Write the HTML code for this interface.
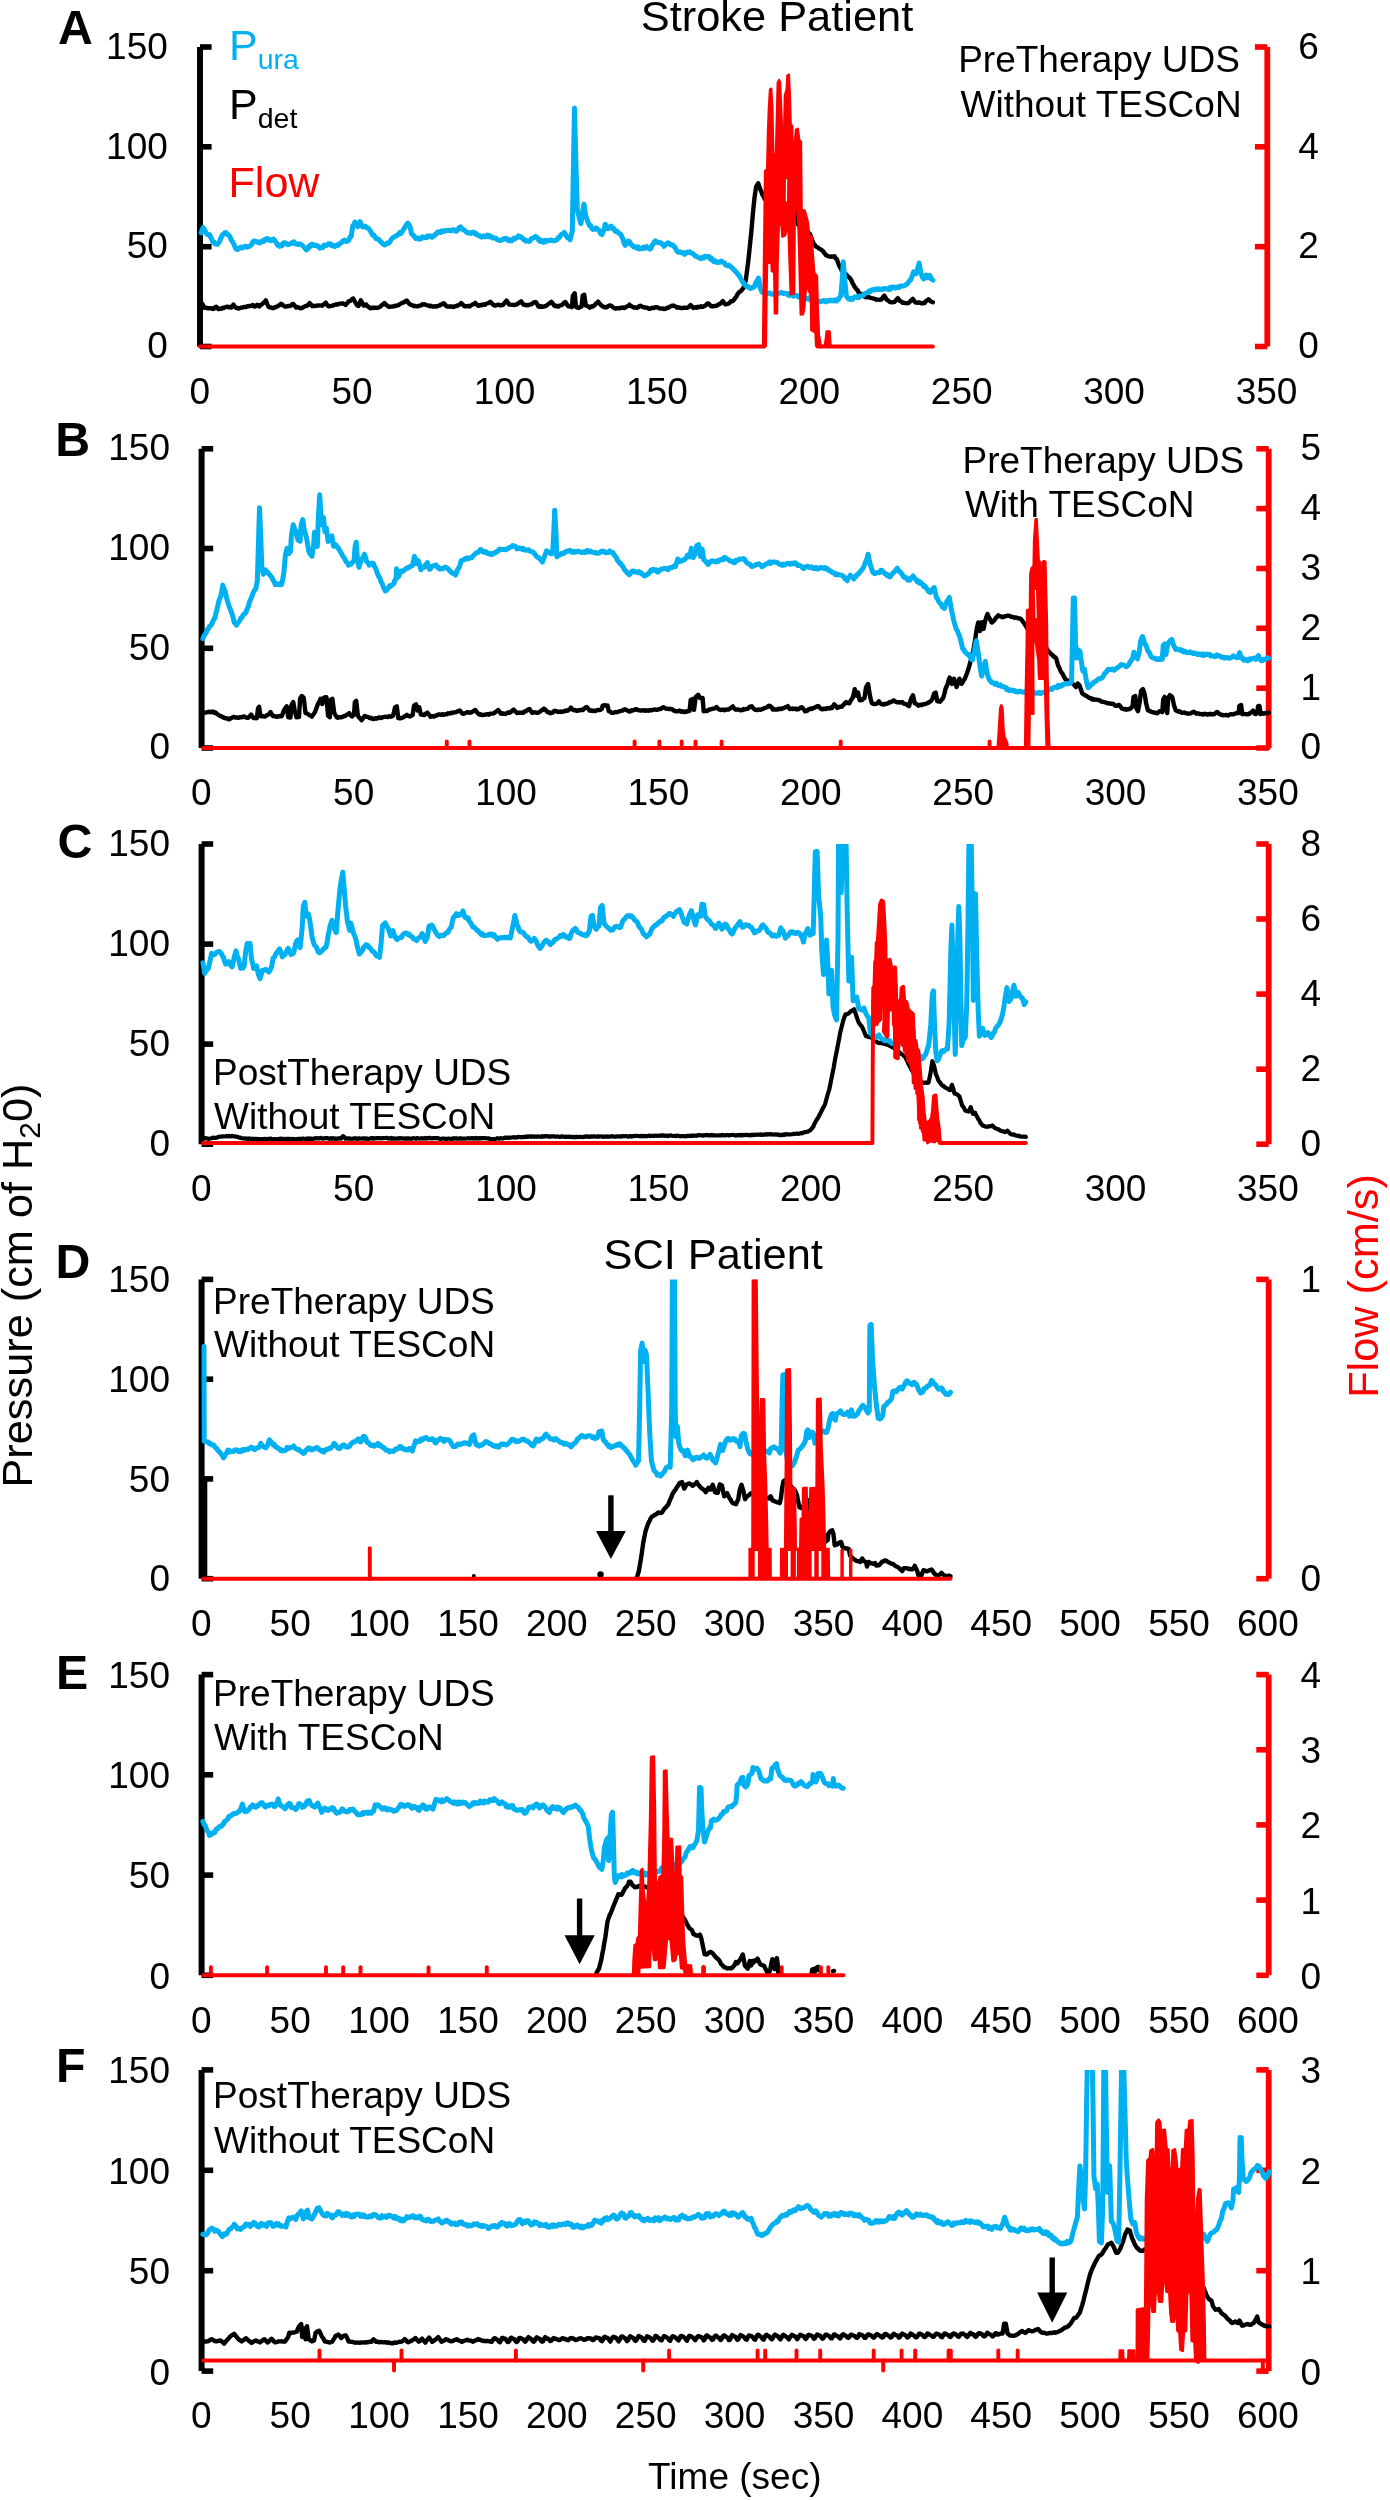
<!DOCTYPE html>
<html><head><meta charset="utf-8"><title>UDS</title>
<style>
html,body{margin:0;padding:0;background:#fff;}
body{width:1390px;height:2500px;position:relative;overflow:hidden;font-family:"Liberation Sans",sans-serif;}
svg text{font-family:"Liberation Sans",sans-serif;}
svg{will-change:transform;}
</style></head><body>
<svg width="1390" height="2500" viewBox="0 0 1390 2500" style="position:absolute;left:0;top:0">
<defs>
<clipPath id="cA"><rect x="190" y="47.0" width="1100" height="311.5"/></clipPath>
<clipPath id="cB"><rect x="190" y="448.8" width="1100" height="311.2"/></clipPath>
<clipPath id="cC"><rect x="190" y="844.0" width="1100" height="312.2"/></clipPath>
<clipPath id="cD"><rect x="190" y="1279.4" width="1100" height="311.3"/></clipPath>
<clipPath id="cE"><rect x="190" y="1674.6" width="1100" height="312.7"/></clipPath>
<clipPath id="cF"><rect x="190" y="2069.9" width="1100" height="313.2"/></clipPath>
</defs>
<g id="pA">
<line x1="200.0" y1="47.0" x2="200.0" y2="346.5" stroke="#000" stroke-width="6"/>
<line x1="200.0" y1="346.5" x2="211.6" y2="346.5" stroke="#000" stroke-width="5.6"/>
<line x1="200.0" y1="246.7" x2="211.6" y2="246.7" stroke="#000" stroke-width="5.6"/>
<line x1="200.0" y1="146.8" x2="211.6" y2="146.8" stroke="#000" stroke-width="5.6"/>
<line x1="200.0" y1="47.0" x2="211.6" y2="47.0" stroke="#000" stroke-width="5.6"/>
<line x1="1267.3" y1="47.0" x2="1267.3" y2="346.5" stroke="#f00" stroke-width="5.8"/>
<line x1="1254.9" y1="346.5" x2="1267.3" y2="346.5" stroke="#f00" stroke-width="5.6"/>
<line x1="1254.9" y1="246.7" x2="1267.3" y2="246.7" stroke="#f00" stroke-width="5.6"/>
<line x1="1254.9" y1="146.8" x2="1267.3" y2="146.8" stroke="#f00" stroke-width="5.6"/>
<line x1="1254.9" y1="47.0" x2="1267.3" y2="47.0" stroke="#f00" stroke-width="5.6"/>
<g clip-path="url(#cA)">
<polyline points="200.0,301.4 201.1,302.2 202.2,303.7 203.2,305.3 204.3,307.9 205.4,307.9 206.5,307.7 207.6,308.2 208.6,308.1 209.7,308.4 210.8,308.2 211.9,308.4 212.9,309.0 214.0,308.6 215.1,307.2 216.2,306.7 217.3,308.0 218.3,309.2 219.4,308.9 220.5,308.5 221.6,308.8 222.7,307.7 223.7,308.1 224.8,307.4 225.9,307.0 227.0,306.7 228.1,306.7 229.1,307.4 230.2,306.9 231.3,307.5 232.4,306.2 233.5,304.6 234.5,306.3 235.6,307.7 236.7,307.8 237.8,308.4 238.8,308.5 239.9,308.0 241.0,307.6 242.1,307.6 243.2,307.2 244.2,306.9 245.3,307.1 246.4,306.8 247.5,306.1 248.6,306.2 249.6,305.9 250.7,306.0 251.8,305.6 252.9,305.0 254.0,306.5 255.0,306.6 256.1,305.7 257.2,304.8 258.3,305.2 259.4,306.4 260.4,305.0 261.5,304.7 262.6,303.7 263.7,302.6 264.7,301.8 265.8,300.3 267.2,303.8 268.6,306.9 269.9,307.3 271.1,307.5 272.3,308.1 273.4,308.1 274.5,307.3 275.5,307.3 276.6,306.6 277.7,306.2 278.8,305.4 279.9,304.9 280.9,303.8 282.0,304.2 283.1,305.1 284.2,306.2 285.3,306.6 286.3,306.6 287.4,306.2 288.5,306.0 289.6,306.0 290.8,305.7 292.0,304.4 293.2,303.9 294.6,305.5 296.0,307.5 297.1,307.0 298.2,307.5 299.3,307.7 300.4,308.2 301.4,308.1 302.5,307.8 303.6,306.8 304.7,306.5 305.8,306.0 306.8,305.9 308.2,304.9 309.6,303.0 310.9,304.4 312.2,306.1 313.3,305.8 314.4,306.0 315.5,306.0 316.5,305.6 317.6,305.5 318.7,305.5 319.8,305.4 320.9,305.4 321.9,305.7 323.0,305.2 324.4,303.8 325.8,302.6 326.9,304.5 328.0,306.0 329.2,306.4 330.3,306.0 331.5,305.9 332.6,305.6 333.8,305.1 334.9,304.8 336.0,304.4 337.1,304.7 338.1,304.0 339.2,304.0 340.3,303.7 341.4,303.5 342.4,303.5 343.5,303.7 344.6,304.1 345.7,304.9 346.8,303.5 347.8,302.5 348.9,301.2 350.0,301.1 351.1,300.2 352.2,299.0 353.2,298.5 354.3,300.5 355.4,302.5 356.5,304.5 357.6,305.6 358.6,306.0 359.7,303.0 360.8,300.4 362.2,302.6 363.6,305.6 364.9,305.1 366.2,304.6 367.3,306.1 368.3,306.5 369.4,307.7 370.5,308.4 371.6,307.9 372.7,307.6 373.7,308.0 374.8,307.7 375.9,307.7 377.0,308.0 378.1,307.6 379.1,307.2 380.2,306.7 381.3,305.7 382.4,304.6 383.5,304.2 384.5,303.0 385.6,304.4 386.7,305.1 387.8,306.3 388.8,306.7 389.9,306.8 391.0,306.6 392.1,306.5 393.2,306.3 394.2,306.3 395.3,305.6 396.4,305.7 397.5,305.4 398.6,305.1 399.6,304.2 400.7,303.7 401.8,303.0 402.9,302.6 404.2,302.3 405.5,301.0 406.8,300.6 408.0,302.3 409.2,303.7 410.4,304.6 411.5,304.9 412.6,305.4 413.7,306.0 414.7,305.8 415.8,306.1 416.9,306.3 418.0,306.2 419.1,305.7 420.1,305.6 421.2,305.4 422.3,304.3 423.4,304.5 424.5,304.2 425.5,304.7 426.6,305.1 427.7,305.3 428.8,305.6 429.9,306.2 430.9,305.8 432.0,306.4 433.1,306.7 434.2,306.4 435.3,306.2 436.3,306.6 437.4,306.2 438.5,305.6 439.6,305.6 440.9,304.5 442.2,304.4 443.5,303.3 444.7,303.9 445.9,305.7 447.1,306.6 448.2,306.6 449.3,306.4 450.4,306.7 451.4,306.4 452.5,306.6 453.6,307.0 454.7,306.4 455.8,306.0 456.8,306.1 457.9,305.3 459.0,305.0 460.1,304.2 461.2,303.0 462.2,304.0 463.3,305.1 464.4,306.3 465.5,306.4 466.5,306.1 467.6,306.2 468.7,305.9 469.8,306.4 470.9,305.4 471.9,304.9 473.0,304.3 474.1,304.0 475.2,302.9 476.3,304.3 477.3,304.8 478.4,305.8 479.5,305.6 480.6,304.9 481.7,305.2 482.7,304.7 483.8,304.4 484.9,304.8 486.0,303.8 487.1,303.5 488.1,303.2 489.2,302.5 490.3,301.8 491.4,302.9 492.4,303.9 493.5,305.1 494.6,305.6 495.7,305.5 496.8,305.0 497.8,304.7 498.9,304.8 500.0,305.5 501.1,305.2 502.2,305.1 503.2,304.7 504.3,303.1 505.4,302.0 506.5,300.6 507.8,302.5 509.1,304.6 510.4,304.6 511.7,304.8 512.9,304.9 514.0,305.1 515.1,304.7 516.2,304.6 517.3,304.2 518.6,302.9 519.9,302.2 521.2,301.4 522.4,303.4 523.7,304.7 524.8,304.7 525.9,305.2 527.0,305.0 528.1,305.4 529.1,304.6 530.2,304.6 531.3,304.2 532.4,303.6 533.5,302.5 534.5,302.6 535.6,302.0 537.0,303.7 538.4,306.4 539.6,306.8 540.8,306.1 542.0,307.0 543.2,306.6 544.2,306.2 545.3,306.2 546.4,305.7 547.5,304.7 548.8,303.8 550.1,302.9 551.4,301.8 552.7,303.4 554.0,305.4 555.0,306.0 556.1,305.6 557.2,306.4 558.3,306.6 559.4,305.6 560.4,305.4 561.5,305.1 562.6,304.5 564.0,302.7 565.4,302.1 566.5,303.7 567.6,305.5 568.6,306.4 569.7,306.5 570.8,306.4 571.9,307.1 572.9,295.7 574.7,293.2 576.0,306.6 577.4,307.6 578.8,307.9 580.2,306.9 581.6,306.6 582.7,295.6 584.2,294.7 585.9,305.6 587.1,305.8 588.3,306.5 589.6,307.8 590.6,307.1 591.7,306.2 592.8,306.5 593.9,305.6 595.0,304.9 596.0,303.3 597.1,303.1 598.2,301.7 599.3,303.5 600.4,304.3 601.4,305.5 602.5,306.1 603.6,307.0 604.7,306.9 605.8,307.5 606.8,307.2 607.9,306.4 609.0,305.7 610.1,305.4 611.2,305.8 612.2,306.6 613.3,307.5 614.4,308.2 615.5,308.6 616.5,308.1 617.6,308.3 618.7,308.0 619.8,308.3 620.9,307.7 621.9,307.8 623.0,307.5 624.1,308.1 625.2,307.7 626.3,306.7 627.3,306.3 628.4,306.0 629.5,304.7 630.6,305.9 631.7,306.3 632.7,307.0 633.8,307.5 634.9,307.3 636.0,307.5 637.1,307.8 638.1,307.5 639.2,306.1 640.3,305.7 641.4,306.3 642.4,306.8 643.5,307.1 644.6,307.6 645.7,307.5 646.8,307.8 647.8,307.9 648.9,308.8 650.0,308.7 651.1,308.1 652.2,307.7 653.2,308.1 654.3,307.8 655.4,307.1 656.5,307.2 657.6,307.5 658.6,307.9 659.7,308.4 660.8,308.6 661.9,308.6 662.9,308.4 664.0,309.0 665.1,308.9 666.2,308.4 667.3,307.7 668.3,307.9 669.4,306.9 670.5,306.5 671.6,305.8 672.7,305.8 673.7,305.5 674.8,306.3 675.9,306.7 677.0,307.7 678.1,307.3 679.1,307.7 680.2,307.7 681.3,308.1 682.4,308.1 683.5,307.7 684.5,307.9 685.6,307.7 686.7,307.9 687.8,307.7 689.2,306.5 690.6,305.0 691.9,306.5 693.2,307.9 694.2,307.5 695.3,307.3 696.4,307.8 697.5,306.8 698.6,307.2 699.6,307.0 700.7,306.2 701.8,306.9 702.9,306.8 704.0,306.3 705.0,305.7 706.1,305.1 707.2,303.7 708.3,303.4 709.4,304.3 710.4,305.6 711.5,306.3 712.6,306.4 713.7,306.0 714.7,306.2 715.8,305.9 716.9,305.6 718.0,304.8 719.1,304.1 720.1,303.8 721.5,302.5 722.9,301.0 724.2,303.2 725.5,304.5 726.6,304.2 727.7,303.9 728.8,303.5 730.0,302.2 731.1,301.1 732.1,301.4 733.2,300.7 734.2,299.3 735.3,298.0 736.3,296.7 737.5,294.2 738.7,292.8 739.9,291.6 741.1,290.9 742.3,289.3 743.5,288.0 744.6,283.7 745.8,280.0 747.7,265.8 748.8,256.3 749.8,246.8 751.4,230.9 752.9,213.5 754.5,197.7 756.1,186.7 757.1,185.2 758.2,183.2 760.1,188.8 761.3,191.5 762.4,194.7 763.6,196.7 764.8,199.3 765.8,199.1 766.8,199.4 767.8,199.9 768.8,200.6 769.9,200.9 770.9,201.2 771.9,201.1 772.9,201.6 773.9,201.8 774.9,202.1 775.9,202.3 776.9,203.2 778.0,202.8 779.0,203.9 780.0,204.1 781.0,203.5 782.1,204.3 783.1,205.0 784.1,205.4 785.2,205.2 786.2,205.5 787.4,206.5 788.6,208.2 789.7,208.3 790.8,209.2 792.0,209.3 793.1,210.3 794.2,211.3 795.3,211.0 796.5,211.9 798.1,224.6 799.1,225.9 800.2,226.5 801.3,226.9 802.4,228.5 803.5,228.9 804.5,229.3 805.6,230.2 806.7,231.5 807.8,232.3 808.8,233.0 809.9,233.9 811.1,237.1 812.3,240.3 813.5,243.1 814.7,244.9 815.7,246.2 816.8,247.1 817.8,247.4 819.2,248.8 820.5,249.3 821.8,250.1 822.9,251.0 823.9,252.4 825.0,253.8 826.0,255.2 827.1,255.6 828.1,256.2 829.2,256.5 830.2,256.6 831.3,256.8 832.4,256.4 833.4,256.9 834.5,256.2 835.6,258.3 836.8,259.3 838.0,262.4 839.2,265.8 840.4,267.8 841.6,270.4 842.8,271.8 844.0,272.3 845.0,273.5 846.1,274.3 847.1,275.5 848.2,276.7 849.2,277.4 850.3,278.5 851.3,280.1 852.4,282.9 853.5,284.7 854.5,286.6 855.6,288.1 856.6,289.4 857.7,290.4 858.7,292.6 859.8,293.3 861.0,294.2 862.2,294.9 863.3,295.6 864.5,296.7 865.7,297.3 866.9,296.8 868.1,297.4 869.3,297.3 870.5,297.9 871.7,298.1 872.8,298.3 874.0,298.8 875.2,298.9 876.4,299.8 877.6,299.6 878.8,299.6 879.8,299.9 880.9,299.8 881.9,299.0 883.1,297.0 884.3,295.7 885.5,297.4 886.7,299.7 887.7,300.2 888.8,301.1 889.9,302.0 891.0,302.1 892.2,302.4 893.4,302.2 894.6,301.8 895.7,300.5 896.7,299.4 897.8,298.1 899.0,299.6 900.1,301.1 901.5,301.7 902.8,302.9 904.1,302.8 905.3,303.0 906.5,303.1 907.7,303.3 908.8,302.8 910.2,301.4 911.5,300.1 912.8,298.9 914.0,300.5 915.2,302.4 916.4,302.7 917.6,302.9 918.7,302.3 919.9,302.7 921.1,303.2 922.3,303.3 923.5,302.9 924.7,303.0 926.0,301.1 927.3,300.2 928.6,299.2 929.8,300.5 931.0,301.5 932.9,302.2" fill="none" stroke="#000" stroke-width="4.4" stroke-linejoin="round" stroke-linecap="round" />
<polyline points="201.1,232.8 202.2,229.7 203.2,227.7 204.3,229.2 205.4,231.7 206.5,233.6 207.6,234.7 208.6,234.6 209.7,234.7 210.8,237.6 211.9,239.5 212.9,242.1 214.0,241.9 215.1,244.1 216.2,244.0 217.3,244.3 218.3,243.1 219.4,241.9 220.5,238.9 221.6,236.6 222.7,234.7 223.7,234.4 224.8,232.8 225.9,232.6 227.0,233.9 228.1,234.9 229.1,235.5 230.2,237.2 231.3,240.1 232.4,241.6 233.5,243.5 234.5,245.6 235.6,248.3 236.7,249.3 237.8,249.5 238.8,248.3 239.9,247.7 241.0,247.1 242.1,248.2 243.2,247.2 244.2,246.7 245.3,246.1 246.4,247.0 247.5,247.2 248.6,246.5 249.6,246.2 250.7,245.3 251.8,244.3 252.9,241.8 254.0,241.0 255.0,241.3 256.1,241.4 257.2,242.2 258.3,241.7 259.4,243.0 260.4,242.6 261.5,241.6 262.6,240.7 263.7,241.4 264.7,239.6 265.8,240.0 266.9,238.6 268.0,238.7 269.1,240.1 270.1,239.7 271.2,240.6 272.3,239.5 273.4,239.0 274.5,240.0 275.5,241.7 276.6,243.3 277.7,245.1 278.8,244.7 279.9,246.3 280.9,245.0 282.0,245.7 283.1,243.3 284.2,242.7 285.3,242.7 286.3,243.7 287.4,244.6 288.5,244.6 289.6,244.0 290.6,243.6 291.7,243.6 292.8,242.1 293.9,241.8 295.0,243.6 296.0,244.0 297.1,243.8 298.2,244.6 299.3,244.0 300.4,244.1 301.4,244.9 302.5,245.5 303.6,246.6 305.0,248.1 306.4,249.9 307.7,249.1 309.0,246.0 310.1,246.6 311.2,244.4 312.2,244.1 313.3,245.2 314.4,245.6 315.5,245.2 316.5,245.3 317.6,246.2 318.7,246.6 319.8,248.2 320.9,247.6 321.9,247.0 323.0,247.4 324.1,245.1 325.2,245.2 326.3,245.6 327.3,245.1 328.4,243.8 329.5,243.7 330.6,244.1 331.7,245.7 332.7,245.0 333.8,246.1 334.9,246.6 336.0,245.8 337.1,244.8 338.1,245.4 339.2,244.1 340.3,242.9 341.4,242.9 342.4,241.4 343.5,240.8 344.6,240.0 345.7,241.3 346.8,241.5 347.8,240.7 348.9,240.1 350.0,237.1 351.1,236.7 352.8,225.9 353.9,224.6 355.0,222.0 356.3,224.1 357.6,226.7 358.8,224.1 360.1,221.6 361.2,225.1 362.3,226.7 363.7,227.0 365.1,226.1 366.2,227.2 367.3,227.9 368.3,228.2 369.4,229.5 370.5,231.3 371.6,233.3 372.7,235.2 373.7,235.1 374.8,236.6 375.9,238.7 377.0,238.7 378.1,239.1 379.1,239.8 380.2,241.5 381.3,241.8 382.4,243.6 383.5,244.1 384.5,245.0 385.6,244.5 386.7,243.4 387.8,242.9 388.8,243.2 389.9,241.9 391.0,239.9 392.1,238.3 393.2,237.6 394.2,236.8 395.3,236.3 396.4,235.7 397.5,234.9 398.6,234.3 399.6,232.7 400.7,233.6 401.8,232.2 402.9,230.7 404.0,228.5 405.0,227.2 406.4,224.6 407.8,223.1 408.9,224.7 410.0,226.6 411.5,233.8 412.6,234.8 413.7,235.6 414.7,237.0 415.8,238.5 416.9,238.0 418.0,237.9 419.1,239.1 420.1,238.7 421.2,238.9 422.3,236.8 423.4,237.1 424.5,237.6 425.5,237.6 426.6,237.7 427.7,235.9 428.8,236.5 429.9,235.9 430.9,235.9 432.0,237.3 433.1,236.3 434.2,236.1 435.3,234.1 436.3,234.0 437.4,232.3 438.5,231.7 439.6,232.5 440.6,232.6 441.7,230.8 442.8,231.4 443.9,231.4 445.0,230.6 446.0,230.8 447.1,230.3 448.2,230.6 449.3,230.3 450.4,230.8 451.4,230.8 452.5,229.8 453.6,229.8 454.7,230.2 455.8,231.3 456.8,231.0 458.1,229.4 459.3,227.6 460.5,226.8 461.9,228.5 463.3,229.8 464.4,230.1 465.5,231.3 466.5,232.3 467.6,233.1 468.7,233.1 469.8,232.6 470.9,233.4 471.9,232.6 473.0,232.2 474.1,232.2 475.2,234.0 476.3,233.6 477.3,234.9 478.4,235.5 479.5,235.6 480.6,236.7 481.7,237.1 482.7,236.1 483.8,235.9 484.9,236.9 486.0,235.9 487.1,235.2 488.1,236.6 489.2,235.5 490.3,236.8 491.4,236.6 492.4,238.0 493.5,237.8 494.6,238.1 495.7,237.9 496.8,239.3 497.8,239.8 498.9,240.3 500.0,240.4 501.1,240.5 502.2,239.5 503.2,239.3 504.3,238.4 505.4,238.4 506.5,238.7 507.6,240.2 508.6,239.3 509.7,240.8 510.8,240.9 511.9,240.7 512.9,239.0 514.0,238.0 515.1,239.0 516.2,238.0 517.3,237.2 518.3,236.0 519.4,236.9 520.5,236.6 521.6,237.5 522.7,238.4 523.7,239.8 524.8,239.8 525.9,241.1 527.0,240.5 528.1,241.3 529.1,241.4 530.2,240.7 531.3,238.7 532.4,238.4 533.5,237.7 534.5,237.2 535.6,236.4 536.7,237.0 537.8,238.4 538.8,240.4 539.9,241.3 541.0,240.1 542.1,241.6 543.2,242.1 544.2,240.7 545.3,242.0 546.4,240.3 547.5,240.9 548.6,240.7 549.6,240.6 550.7,240.0 551.8,240.2 552.9,240.7 554.0,240.7 555.0,240.7 556.1,240.0 557.2,239.7 558.3,237.5 559.4,237.3 560.4,235.8 561.7,234.1 563.0,233.9 564.3,232.4 565.6,234.6 566.9,236.8 568.0,238.1 569.1,238.4 570.1,239.8 571.2,235.5 572.3,231.1 573.4,166.3 574.5,108.1 576.0,166.3 577.3,209.6 579.2,217.7 580.9,223.5 582.7,211.9 584.0,204.1 585.7,215.5 587.1,219.8 588.5,223.4 589.6,225.7 590.6,225.5 591.7,228.3 592.8,229.4 593.9,229.3 595.0,229.3 596.0,228.0 597.1,228.9 598.4,229.8 599.7,231.5 600.8,233.8 601.9,234.6 602.9,232.5 604.0,229.3 605.3,224.2 606.6,226.3 607.9,228.7 609.0,227.1 610.1,227.8 611.2,226.1 612.2,228.2 613.3,228.1 614.4,230.0 615.5,231.5 616.5,230.9 617.6,231.9 618.7,233.1 619.8,233.7 620.9,234.5 621.9,236.7 623.0,239.4 624.1,243.2 625.2,245.3 626.3,244.4 627.3,241.6 628.4,241.1 629.5,241.5 630.6,243.7 631.7,245.2 632.7,245.4 633.8,246.9 634.9,246.8 636.0,247.3 637.1,248.2 638.1,246.9 639.2,248.9 640.3,248.4 641.4,248.2 642.4,248.6 643.5,247.2 644.6,248.2 645.7,247.1 646.8,246.5 647.8,248.1 648.9,248.4 650.0,249.1 651.1,248.1 652.2,245.0 653.2,244.3 654.3,241.9 655.4,240.9 656.5,242.3 657.6,242.0 658.6,242.7 659.7,242.8 660.8,242.8 661.9,243.7 662.9,244.7 664.0,246.3 665.1,245.0 666.2,244.1 667.3,243.3 668.3,242.8 669.4,243.5 670.5,244.9 671.6,244.7 672.7,244.9 673.7,246.3 674.8,246.9 675.9,249.2 677.0,251.3 678.1,252.0 679.1,252.3 680.2,251.8 681.3,252.8 682.4,252.9 683.5,252.5 684.5,254.3 685.6,253.5 686.7,252.5 687.8,251.9 688.8,252.4 689.9,251.9 691.0,253.0 692.1,253.2 693.2,253.9 694.2,254.8 695.3,256.1 696.4,256.5 697.5,256.7 698.6,257.8 699.6,258.0 700.7,258.7 701.8,258.2 702.9,257.1 704.0,257.8 705.0,256.3 706.1,257.0 707.2,256.6 708.3,256.3 709.4,256.6 710.4,258.9 711.5,258.4 712.6,260.3 713.7,261.6 714.7,260.6 715.8,261.3 716.9,262.5 718.0,262.1 719.1,262.1 720.1,262.2 721.2,261.0 722.3,261.7 723.4,262.5 724.5,262.9 725.5,264.9 726.6,265.4 727.7,265.7 728.8,265.1 730.0,266.1 731.1,267.3 732.1,267.8 733.2,269.2 734.5,270.4 735.8,271.6 737.1,273.3 738.4,275.0 739.8,276.5 741.1,279.1 742.4,281.5 743.7,283.3 745.0,285.1 746.1,285.9 747.1,285.9 748.2,287.2 749.3,287.4 750.3,288.4 751.4,288.3 752.4,287.2 753.5,287.2 754.5,286.8 755.7,283.0 756.9,281.2 758.5,278.0 760.1,287.7 761.7,291.6 762.8,292.5 764.0,293.1 765.2,292.9 766.4,292.5 767.6,293.7 768.8,293.0 770.0,293.1 771.2,294.3 772.3,294.1 773.5,294.1 774.7,293.9 775.9,293.9 777.1,293.1 778.3,293.5 779.5,293.0 780.6,292.7 781.7,292.5 782.8,293.4 783.8,293.4 784.9,293.2 785.9,293.4 787.0,294.4 788.0,293.7 789.1,295.6 790.1,294.4 791.2,294.4 792.3,294.8 793.3,296.2 794.4,295.7 795.4,295.5 796.5,295.5 797.5,295.7 798.6,297.1 799.6,297.1 800.7,297.5 801.8,297.8 802.8,296.7 803.9,298.0 804.9,297.7 806.0,298.5 807.0,298.9 808.1,299.2 809.1,297.8 810.2,299.4 811.2,299.6 812.3,299.4 813.4,298.6 814.4,299.1 815.5,299.2 816.5,299.4 817.6,301.2 818.6,301.2 819.7,301.2 820.7,301.7 821.8,301.4 822.9,300.8 823.9,300.5 825.0,301.0 826.0,301.8 827.1,300.6 828.1,300.8 829.2,300.9 830.2,300.1 831.3,300.7 832.4,300.3 833.4,300.9 834.5,300.1 835.5,299.8 836.6,300.9 837.6,299.8 838.7,299.1 839.7,297.4 840.8,295.8 842.1,281.6 843.3,261.8 844.9,281.6 846.3,295.7 847.5,297.8 848.7,299.0 849.8,298.5 850.8,299.7 851.9,298.6 852.9,299.1 854.0,297.3 855.0,296.9 856.2,296.6 857.4,297.5 858.6,297.7 859.8,296.1 861.0,296.0 862.2,295.4 863.3,295.4 864.5,293.9 865.7,293.4 866.9,292.4 868.1,292.5 869.3,290.9 870.5,291.6 871.7,290.0 872.8,289.6 874.0,290.0 875.2,289.7 876.4,288.8 877.6,289.6 878.8,288.8 880.0,289.6 881.2,289.3 882.3,289.4 883.5,288.8 884.7,288.5 885.9,288.8 887.1,288.9 888.3,289.6 889.5,288.0 890.6,289.1 891.8,287.1 893.0,287.3 894.2,287.0 895.4,288.1 896.6,287.2 897.8,287.0 899.0,287.6 900.1,286.1 901.3,286.2 902.5,286.0 903.7,286.0 904.9,285.5 906.1,284.7 907.3,283.8 908.3,282.3 909.4,280.7 910.4,280.3 911.5,277.7 912.5,275.2 913.6,271.8 914.8,272.8 916.0,273.9 917.6,269.0 919.1,263.0 920.7,272.1 922.3,277.2 923.9,279.0 925.1,276.6 926.3,275.1 927.8,277.8 929.7,275.3 931.3,278.9 932.9,280.0" fill="none" stroke="#00B0F0" stroke-width="5.0" stroke-linejoin="round" stroke-linecap="round" />
<polygon points="762.7,346.1 763.5,272.4 764.2,213.4 764.7,170.9 766.8,169.1 767.7,130.8 768.6,107.2 769.7,89.5 771.5,88.3 772.7,107.2 773.6,154.4 775.6,153.2 776.8,107.2 777.4,82.4 779.2,79.5 780.4,82.4 781.5,107.2 782.4,129.6 783.9,129.6 784.5,95.4 786.3,89.5 787.1,75.3 789.2,74.2 790.2,95.4 791.0,123.7 792.5,126.1 793.0,149.7 794.5,142.6 795.7,129.6 798.1,128.4 799.6,140.2 801.3,141.4 802.0,211.0 804.6,209.9 806.3,214.6 808.1,221.7 809.5,234.6 812.2,237.0 813.1,253.5 814.6,272.4 817.3,275.9 818.1,307.8 819.3,334.9 821.1,346.1 815.8,346.1 815.2,332.6 812.8,331.4 811.0,330.2 810.5,296.0 808.7,291.3 806.9,284.2 805.7,294.8 804.6,307.8 803.4,314.3 800.4,314.9 799.6,284.2 798.1,225.2 796.9,208.7 795.1,207.5 794.5,293.6 790.4,294.8 789.2,260.6 788.0,225.2 785.4,235.8 782.1,237.0 781.2,225.2 779.2,224.0 778.0,260.6 777.4,313.7 774.5,313.7 773.9,272.4 771.5,271.2 770.9,255.9 770.1,262.9 767.4,263.5 766.8,296.0 766.2,346.1" fill="#FF0000" stroke="#FF0000" stroke-width="1.7" stroke-linejoin="round"/>
<polygon points="824.6,346.1 825.6,340.8 826.7,331.4 829.6,331.4 830.5,346.1" fill="#FF0000" stroke="#FF0000" stroke-width="2.4" stroke-linejoin="round"/>
<line x1="786.6" y1="179.2" x2="786.4" y2="201.6" stroke="#fff" stroke-width="1.2"/>
<polyline points="200.0,346.5 764.2,346.5" fill="none" stroke="#FF0000" stroke-width="3.9" stroke-linejoin="round" stroke-linecap="round" />
<polyline points="817.5,346.5 932.9,346.5" fill="none" stroke="#FF0000" stroke-width="3.9" stroke-linejoin="round" stroke-linecap="round" />
</g>
</g>
<g id="pB">
<line x1="201.6" y1="448.8" x2="201.6" y2="748.0" stroke="#000" stroke-width="6"/>
<line x1="201.6" y1="748.0" x2="213.2" y2="748.0" stroke="#000" stroke-width="5.6"/>
<line x1="201.6" y1="648.3" x2="213.2" y2="648.3" stroke="#000" stroke-width="5.6"/>
<line x1="201.6" y1="548.5" x2="213.2" y2="548.5" stroke="#000" stroke-width="5.6"/>
<line x1="201.6" y1="448.8" x2="213.2" y2="448.8" stroke="#000" stroke-width="5.6"/>
<line x1="1268.7" y1="448.8" x2="1268.7" y2="748.0" stroke="#f00" stroke-width="5.8"/>
<line x1="1256.3" y1="748.0" x2="1268.7" y2="748.0" stroke="#f00" stroke-width="5.6"/>
<line x1="1256.3" y1="688.2" x2="1268.7" y2="688.2" stroke="#f00" stroke-width="5.6"/>
<line x1="1256.3" y1="628.3" x2="1268.7" y2="628.3" stroke="#f00" stroke-width="5.6"/>
<line x1="1256.3" y1="568.5" x2="1268.7" y2="568.5" stroke="#f00" stroke-width="5.6"/>
<line x1="1256.3" y1="508.6" x2="1268.7" y2="508.6" stroke="#f00" stroke-width="5.6"/>
<line x1="1256.3" y1="448.8" x2="1268.7" y2="448.8" stroke="#f00" stroke-width="5.6"/>
<g clip-path="url(#cB)">
<polyline points="202.9,713.0 204.0,712.7 205.1,712.6 206.2,712.5 207.3,712.1 208.3,712.0 209.4,711.7 210.5,712.3 211.6,711.8 212.7,711.5 213.7,712.7 214.8,712.1 215.9,712.7 217.0,714.0 218.1,714.6 219.1,715.4 220.2,715.9 221.3,716.2 222.4,717.2 223.5,717.2 224.5,718.0 225.6,718.3 226.7,718.2 227.8,718.8 228.8,719.4 229.9,718.9 231.0,718.1 232.1,717.7 233.2,717.0 234.2,716.9 235.3,717.5 236.4,717.4 237.5,717.8 238.6,717.9 239.6,717.3 240.7,717.2 241.8,717.2 242.9,716.7 244.0,716.5 245.0,717.1 246.1,717.5 247.2,717.7 248.3,717.8 249.7,716.4 251.1,714.6 252.4,716.4 253.7,718.1 254.7,717.9 255.8,718.3 256.9,718.1 258.0,708.4 259.1,706.7 260.4,716.1 261.4,716.3 262.4,716.0 263.4,716.4 264.5,716.6 265.5,716.2 266.6,715.4 267.7,715.0 269.1,714.0 270.5,712.1 271.8,714.3 273.1,716.1 274.2,716.0 275.3,716.3 276.3,716.9 277.4,716.4 278.5,716.5 279.6,716.0 280.6,716.4 281.7,716.2 282.8,713.5 283.9,710.5 285.0,708.5 286.7,706.3 288.2,717.2 289.3,717.3 290.4,717.5 291.4,705.3 293.2,702.0 294.7,710.5 296.4,717.3 297.7,716.8 299.0,717.1 300.1,698.7 301.8,696.0 303.7,697.6 305.5,713.0 306.5,713.3 307.6,713.7 308.7,714.8 309.8,715.4 310.9,715.6 311.9,716.6 313.0,714.9 314.1,713.5 315.2,711.6 316.3,708.5 317.3,705.6 318.4,703.1 319.5,701.3 320.6,698.7 322.3,704.0 323.8,697.8 325.1,697.3 326.4,697.2 328.1,715.8 329.9,717.1 330.7,699.9 332.4,698.7 334.2,712.7 335.5,715.2 336.8,717.3 337.8,717.8 338.9,717.1 340.0,717.3 341.1,717.2 342.2,717.1 343.2,716.5 344.3,716.0 345.4,716.0 346.7,714.7 348.0,714.4 349.3,713.1 350.6,715.2 351.9,716.5 352.9,715.6 354.0,714.9 354.9,701.9 356.2,700.9 357.9,715.7 359.1,717.6 360.4,718.6 361.6,720.2 362.7,718.7 363.7,717.4 364.8,715.9 365.9,716.5 367.0,716.9 368.1,717.0 369.1,717.7 370.2,718.2 371.3,717.7 372.4,718.8 373.5,719.0 374.5,718.9 375.6,718.1 376.7,718.6 377.8,718.2 378.8,717.4 379.9,717.5 381.0,718.0 382.1,717.6 383.2,717.1 384.2,716.9 385.3,716.8 386.4,716.9 387.5,717.1 388.6,716.5 389.6,716.2 390.7,716.7 391.8,716.4 392.9,715.8 394.0,712.0 395.0,707.4 396.8,706.3 398.3,718.2 399.4,718.4 400.4,718.2 401.5,718.1 402.6,717.5 403.7,717.2 404.7,716.3 405.8,715.8 406.9,714.9 408.0,715.9 409.1,716.1 410.1,716.5 411.4,715.5 412.7,714.9 414.0,705.8 416.0,704.3 417.7,710.6 419.2,707.2 420.9,714.5 422.0,714.6 423.1,714.8 424.2,715.1 425.3,713.7 426.3,713.8 427.4,712.7 428.5,714.1 429.6,715.5 430.6,716.8 431.7,716.3 432.8,716.2 433.9,716.6 435.0,715.8 436.0,715.7 437.1,715.4 438.2,714.4 439.3,714.5 440.4,714.6 441.4,714.9 442.5,714.3 443.6,714.9 444.7,714.5 445.8,714.2 446.8,714.3 447.9,713.2 449.0,713.6 450.1,713.2 451.2,712.8 452.2,713.2 453.3,712.5 454.4,712.4 455.5,712.3 456.5,712.1 457.6,711.1 458.7,710.9 459.8,710.5 460.9,711.7 461.9,713.1 463.0,713.7 464.1,713.8 465.2,713.0 466.3,712.7 467.3,712.2 468.4,712.3 469.5,712.8 470.6,712.5 471.7,712.4 472.9,711.4 474.1,710.7 475.3,710.0 476.6,711.7 477.9,713.2 479.2,714.6 480.3,714.1 481.4,714.9 482.4,715.1 483.5,714.9 484.6,714.7 485.7,714.6 486.8,714.2 487.8,714.3 488.9,714.7 490.0,713.6 491.1,713.6 492.2,713.6 493.2,713.6 494.3,713.1 495.6,712.1 496.9,711.1 498.2,710.0 499.5,711.8 500.8,713.6 501.9,713.3 502.9,713.8 504.0,713.6 505.1,714.0 506.2,713.5 507.3,713.0 508.3,712.4 509.4,712.7 510.5,712.2 511.6,711.3 512.7,710.2 513.7,709.6 514.8,710.9 515.9,711.9 517.0,713.0 518.1,712.8 519.1,712.8 520.2,712.7 521.3,712.7 522.4,712.7 523.5,712.7 524.5,711.4 525.6,711.4 526.7,710.7 528.0,709.5 529.3,708.9 530.7,710.8 532.1,712.9 533.2,712.6 534.2,712.2 535.3,712.5 536.4,712.7 537.5,712.8 538.6,712.5 539.6,711.7 540.7,711.3 541.8,710.1 542.9,709.8 544.0,708.6 545.0,709.5 546.1,710.5 547.2,711.8 548.3,712.5 549.4,712.2 550.4,713.3 551.5,712.9 552.6,712.7 553.7,711.3 554.7,710.7 555.8,711.4 556.9,711.2 558.0,712.0 559.1,711.9 560.1,711.4 561.2,712.0 562.3,711.7 563.4,711.5 564.5,711.4 565.5,710.5 566.6,710.8 567.7,710.6 568.8,709.5 569.9,709.1 570.9,707.6 572.0,709.1 573.1,709.8 574.2,710.3 575.3,710.0 576.3,710.7 577.4,710.8 578.5,710.3 579.6,710.2 580.6,710.4 581.7,709.7 582.8,710.0 584.1,708.9 585.4,707.5 586.7,707.0 587.7,708.3 588.7,709.3 589.7,710.6 591.0,710.3 592.2,711.0 593.4,710.7 594.7,711.0 595.8,710.8 596.8,710.3 597.9,710.0 599.0,710.0 600.4,709.8 601.8,708.9 602.7,705.6 603.9,705.3 605.1,705.1 606.4,706.0 607.6,705.6 608.7,711.1 609.8,711.3 610.9,712.2 611.9,712.9 613.0,712.9 614.1,712.5 615.2,712.1 616.3,712.1 617.3,712.2 618.4,711.5 619.5,711.4 620.6,711.0 621.7,710.7 622.7,710.5 623.8,709.6 624.9,709.2 626.0,709.7 627.1,710.3 628.1,711.0 629.2,711.5 630.3,711.4 631.4,710.2 632.4,710.6 633.5,710.2 634.6,709.9 635.7,709.2 636.8,709.2 637.8,710.1 638.9,710.3 640.0,710.4 641.1,710.7 642.2,710.4 643.2,710.1 644.3,710.6 645.4,710.8 646.5,710.2 647.6,710.6 648.6,710.8 649.7,710.0 650.8,710.3 651.9,710.2 652.9,709.9 654.0,709.7 655.1,709.5 656.2,709.8 657.3,709.8 658.3,709.3 659.4,709.0 660.5,709.0 661.6,708.4 662.7,707.3 663.7,707.1 664.8,708.0 665.9,708.6 667.0,708.8 668.1,708.9 669.1,709.1 670.2,708.8 671.3,709.1 672.4,709.4 673.5,710.5 674.5,710.7 675.6,711.4 676.7,711.2 677.8,711.2 678.8,710.7 679.9,710.7 681.0,711.7 682.1,711.3 683.2,711.4 684.2,712.1 685.3,712.1 686.4,711.2 687.5,711.5 688.6,711.0 689.6,710.9 690.7,699.9 692.4,699.1 694.0,709.9 695.7,697.1 697.0,695.8 698.3,694.8 699.8,697.9 701.2,698.3 702.6,698.0 703.7,711.2 704.7,711.1 705.8,711.0 706.9,711.1 708.0,710.4 709.1,709.7 710.1,709.5 711.2,709.1 712.3,708.7 713.4,708.6 714.5,708.3 715.5,708.0 716.6,707.0 717.7,708.4 718.8,709.3 719.9,709.6 720.9,710.0 722.0,709.8 723.1,709.5 724.2,710.3 725.3,709.7 726.3,709.7 727.4,709.5 728.5,709.5 729.6,708.9 730.6,708.0 731.7,707.3 732.8,706.4 733.9,708.2 735.0,709.3 736.0,709.7 737.1,709.4 738.2,709.6 739.3,709.7 740.4,710.3 741.4,710.1 742.5,710.0 743.6,709.0 744.7,709.5 745.8,709.2 746.8,708.9 748.1,708.6 749.3,707.0 750.6,706.5 751.8,706.3 752.9,707.8 754.0,708.8 755.0,709.8 756.2,709.9 757.4,710.1 758.5,709.5 759.7,709.7 760.9,709.7 761.9,709.0 763.0,709.0 764.1,708.2 765.2,707.9 766.3,707.5 767.3,707.2 768.4,705.8 769.5,705.6 770.6,706.5 771.7,707.5 772.7,709.4 773.8,708.9 774.9,709.6 776.0,709.6 777.1,709.6 778.1,708.8 779.2,709.2 780.3,708.5 781.4,709.0 782.4,708.6 783.5,708.1 784.6,707.7 785.7,707.0 786.8,707.0 787.8,706.2 789.6,708.8 790.0,709.0 791.1,708.8 792.2,708.5 793.2,709.1 794.3,708.8 795.4,708.5 796.5,709.4 797.6,708.9 798.6,709.2 799.7,708.1 800.8,707.5 801.9,707.2 802.9,708.3 804.0,709.6 805.1,711.4 806.2,710.6 807.3,710.7 808.3,709.4 809.4,709.4 810.5,708.5 811.6,709.0 812.7,708.5 813.7,707.7 814.8,707.7 815.9,707.0 817.0,706.4 818.1,706.0 819.1,706.8 820.2,708.2 821.3,709.0 822.4,709.4 823.5,708.6 824.5,708.7 825.6,709.1 826.7,708.1 827.8,708.5 828.8,708.0 829.9,708.5 831.0,707.4 832.1,707.9 833.2,705.9 834.2,704.3 835.6,705.6 837.1,707.9 838.2,707.5 839.4,706.8 840.6,706.8 841.8,706.8 842.9,705.3 844.0,704.5 845.0,703.0 846.1,702.1 847.2,702.9 848.3,703.2 849.4,703.2 850.4,701.2 851.5,699.4 852.6,698.0 853.7,693.7 854.7,689.2 856.5,695.7 858.0,692.6 859.7,700.2 861.0,700.2 862.3,699.8 863.4,698.6 864.5,698.0 866.0,687.3 867.1,685.5 868.1,684.0 869.9,695.6 870.9,699.9 872.0,703.3 873.1,703.9 874.2,704.1 875.3,703.9 876.3,703.8 877.6,703.0 878.9,701.2 880.3,703.2 881.7,704.3 882.8,704.0 883.9,704.6 885.0,704.0 886.0,703.9 887.1,703.5 888.2,703.3 889.3,702.2 890.4,702.3 891.4,701.7 892.5,701.2 893.6,700.4 894.7,701.2 895.8,701.8 896.8,702.2 897.9,702.2 899.0,702.5 900.1,702.2 901.2,702.6 902.2,702.1 903.3,703.2 904.4,703.8 905.5,703.9 906.5,704.5 907.8,705.4 909.1,706.2 910.2,701.6 911.3,698.2 913.0,695.3 914.7,703.2 916.0,703.7 917.2,704.6 918.4,705.7 919.5,704.9 920.6,704.7 921.7,705.1 922.7,704.4 923.8,704.2 924.9,704.1 926.0,703.7 927.1,703.2 928.1,702.9 929.2,702.1 930.3,701.6 931.4,700.4 932.4,698.8 934.2,693.5 935.7,692.6 937.2,701.2 938.6,701.3 940.0,701.7 941.1,700.5 942.2,698.9 943.2,698.0 944.3,694.0 945.4,689.2 946.5,686.7 947.6,684.1 948.6,680.4 949.7,677.6 950.8,681.2 951.9,683.9 952.9,681.2 954.0,678.7 955.3,682.9 956.6,687.1 958.0,683.3 959.4,678.7 960.5,681.1 961.6,683.8 962.7,682.0 963.7,680.3 964.8,678.8 965.9,676.0 967.0,673.2 968.1,670.1 969.1,666.7 970.2,662.3 971.3,659.1 972.4,654.6 973.5,649.5 974.5,644.0 975.6,636.5 976.7,629.0 978.2,622.4 979.9,631.1 981.7,622.2 983.6,628.9 985.3,620.3 986.4,616.8 987.5,614.1 988.6,616.7 989.6,618.3 990.7,620.7 991.8,622.5 992.9,621.7 994.0,620.7 995.0,619.4 996.1,617.5 997.2,616.9 998.3,615.4 999.4,616.1 1000.4,616.1 1001.5,616.7 1002.6,617.3 1003.7,616.9 1004.7,616.2 1005.8,616.2 1006.9,615.8 1008.0,615.8 1009.1,615.7 1010.1,616.1 1011.2,616.8 1012.3,616.9 1013.4,617.3 1014.5,617.8 1015.5,617.5 1016.6,617.6 1017.7,618.0 1018.8,618.5 1019.9,618.5 1020.9,619.0 1022.0,620.3 1023.1,621.9 1024.2,623.5 1025.3,625.1 1026.3,626.9 1027.4,628.7 1028.5,630.6 1029.6,632.5 1030.6,633.9 1031.7,635.4 1032.8,636.9 1033.9,637.8 1035.0,639.7 1036.0,640.8 1037.1,642.1 1038.2,643.4 1039.3,644.4 1040.0,642.0 1041.1,642.9 1042.2,644.0 1043.2,645.3 1044.3,646.3 1045.4,647.5 1046.5,648.3 1047.6,649.9 1048.6,651.6 1049.7,652.3 1050.8,653.8 1051.9,654.7 1052.9,655.4 1054.0,657.0 1055.1,657.2 1056.2,658.4 1058.0,665.3 1059.2,667.4 1060.4,670.6 1061.6,672.6 1062.8,674.3 1064.0,676.7 1065.2,678.9 1066.4,680.1 1067.6,680.4 1068.8,681.5 1070.0,682.7 1071.2,683.1 1072.4,683.3 1073.6,684.5 1074.8,685.7 1076.0,687.1 1077.8,683.5 1079.6,685.4 1080.9,689.6 1082.3,693.4 1083.4,694.3 1084.5,694.9 1085.6,695.6 1086.8,696.0 1087.8,697.0 1088.9,697.5 1090.0,698.4 1091.1,698.3 1092.2,699.5 1093.2,698.9 1094.3,699.7 1095.4,699.6 1096.5,699.6 1097.6,699.9 1098.6,700.1 1099.7,700.4 1100.8,701.2 1101.9,701.7 1102.9,701.9 1104.0,702.0 1105.1,702.3 1106.2,702.6 1107.3,703.2 1108.3,703.1 1109.4,703.3 1110.5,703.7 1111.6,703.7 1112.7,703.8 1113.7,704.3 1115.1,705.4 1116.4,705.9 1117.8,705.4 1119.1,704.9 1120.5,706.6 1121.8,708.5 1123.0,708.9 1124.1,709.2 1125.2,708.9 1126.3,709.7 1127.5,709.1 1128.7,709.3 1129.9,708.8 1131.3,707.7 1132.6,705.9 1133.5,696.9 1135.3,696.0 1136.4,708.4 1138.0,711.1 1139.8,701.4 1141.1,690.6 1142.9,689.1 1144.7,694.2 1146.1,703.3 1147.9,710.3 1149.0,710.6 1150.2,711.2 1151.3,711.9 1152.4,712.2 1153.5,712.3 1154.7,712.8 1155.8,712.8 1156.9,713.4 1158.3,712.4 1159.6,711.3 1161.0,711.4 1162.3,712.2 1163.2,699.6 1164.6,696.9 1165.9,706.9 1167.2,713.1 1168.2,698.1 1169.9,695.1 1171.0,696.0 1172.2,697.0 1174.0,705.3 1175.8,710.4 1176.9,710.8 1178.0,711.5 1179.2,711.2 1180.3,711.8 1181.4,712.6 1182.4,712.7 1183.5,712.6 1184.6,712.5 1185.7,713.3 1186.8,713.3 1187.8,713.5 1188.9,713.6 1190.0,713.5 1191.1,713.1 1192.4,712.2 1193.8,711.8 1195.1,712.8 1196.5,713.7 1197.6,713.4 1198.6,713.5 1199.7,714.0 1200.8,714.1 1201.9,714.0 1202.9,714.6 1203.9,714.3 1205.0,713.7 1206.0,714.1 1207.0,714.6 1208.0,714.1 1209.1,714.5 1210.1,713.8 1211.2,714.0 1212.3,714.5 1213.4,714.2 1214.5,714.1 1215.8,712.6 1217.2,711.9 1218.5,713.2 1219.9,714.3 1220.9,714.7 1221.9,714.7 1222.9,715.3 1224.0,715.1 1225.0,715.1 1226.0,714.9 1227.1,715.3 1228.1,715.5 1229.2,714.6 1230.3,714.4 1231.4,714.3 1232.4,714.4 1233.6,714.3 1234.8,713.7 1236.0,713.3 1237.4,712.7 1238.7,713.1 1239.3,706.1 1241.1,705.0 1242.3,714.1 1243.5,714.0 1244.6,713.9 1245.7,714.1 1246.8,714.2 1248.0,714.4 1249.2,713.6 1250.4,713.1 1251.8,711.9 1253.1,710.7 1254.9,713.8 1256.1,714.0 1257.3,713.1 1258.0,706.2 1259.4,705.9 1260.7,714.1 1261.7,713.6 1262.8,713.1 1263.8,713.8 1264.8,713.3 1266.1,712.8 1267.5,713.3 1268.8,712.8" fill="none" stroke="#000" stroke-width="4.4" stroke-linejoin="round" stroke-linecap="round" />
<polyline points="202.9,638.6 204.0,635.7 205.1,634.2 206.2,632.7 207.3,629.6 208.3,629.1 209.4,626.5 210.5,625.4 211.6,624.5 212.7,621.6 213.7,619.6 214.8,618.1 215.9,613.4 217.0,609.4 218.1,604.3 219.1,600.2 220.9,596.1 222.8,585.1 223.9,589.0 225.0,590.6 226.4,596.8 227.8,602.3 228.8,605.6 229.9,608.2 231.0,611.2 232.1,614.1 233.2,617.8 234.2,622.4 235.3,623.4 236.4,625.1 237.5,623.3 238.6,622.0 239.6,620.8 240.7,618.3 241.8,617.7 242.9,615.5 244.0,613.9 245.0,613.8 246.1,612.0 247.2,608.7 248.3,606.5 249.4,602.3 250.4,599.7 251.5,597.5 252.6,594.3 253.7,591.6 254.7,590.2 255.8,588.8 257.3,581.1 258.6,537.9 259.5,507.7 260.8,537.9 261.9,568.1 263.4,574.3 264.5,572.4 265.5,569.9 266.6,571.8 267.7,572.0 268.8,573.9 269.9,575.1 270.9,576.2 272.0,577.6 273.1,580.2 274.2,581.6 275.3,584.7 276.3,583.6 277.4,584.3 278.5,584.4 279.6,583.9 280.6,584.8 281.7,584.2 282.8,578.7 283.9,572.4 285.4,555.0 287.1,548.2 288.8,553.7 290.4,551.9 291.4,535.8 293.2,524.8 294.5,528.5 295.8,531.1 296.8,535.9 297.9,539.9 299.0,540.6 300.1,541.2 301.2,524.6 302.7,519.6 304.4,531.2 305.5,534.0 306.5,538.1 307.6,544.0 308.7,550.8 309.8,553.4 310.9,555.0 311.9,556.3 313.5,546.5 314.5,532.2 316.3,537.9 317.3,546.5 318.4,516.3 319.7,494.7 321.0,516.3 322.1,524.9 323.4,517.4 324.9,531.6 326.4,528.2 328.1,541.5 329.2,539.3 330.3,538.0 331.8,535.8 333.5,546.2 334.6,546.3 335.7,544.6 336.8,546.6 337.8,547.1 338.9,549.3 340.0,550.9 341.1,552.8 342.2,555.0 343.2,556.8 344.3,557.9 345.4,560.4 346.5,562.3 347.6,562.8 348.6,565.2 349.7,564.5 350.8,564.3 351.9,563.1 352.9,561.9 354.0,560.6 355.1,546.4 356.2,542.2 357.5,559.8 359.0,567.3 360.3,562.9 361.6,559.1 363.0,557.5 364.4,554.2 365.5,557.0 366.5,561.4 367.8,562.5 369.1,565.2 370.2,563.6 371.3,564.2 372.4,563.0 373.5,563.7 374.5,566.7 375.6,568.0 376.7,571.5 377.8,574.5 378.8,576.6 379.9,578.1 381.0,581.9 382.1,583.2 383.2,586.6 384.2,588.6 385.3,591.0 386.4,590.3 387.5,588.9 388.6,587.5 389.6,585.9 390.7,586.3 391.8,585.0 392.9,584.3 394.0,583.3 395.0,580.0 396.1,578.9 396.5,568.8 398.3,577.0 399.4,574.6 400.4,571.1 401.5,571.1 402.6,571.5 403.7,570.4 404.7,569.8 405.8,568.7 406.9,567.8 408.0,568.0 409.1,567.4 410.1,566.5 411.2,566.2 412.3,565.6 413.4,561.5 414.5,556.4 415.5,559.5 416.6,563.6 418.3,560.6 419.6,564.8 420.9,569.6 422.0,568.2 423.1,567.4 424.2,567.4 425.3,564.9 426.3,564.3 427.4,562.6 428.5,566.6 429.6,569.3 430.6,568.6 431.7,566.4 432.8,566.1 433.9,565.8 435.0,565.2 436.0,565.1 437.1,567.0 438.2,567.0 439.3,569.0 440.4,568.9 441.4,568.7 442.5,568.8 443.6,568.1 444.7,567.2 445.8,567.2 446.8,568.0 447.9,568.5 449.0,570.1 450.1,571.3 451.2,572.2 452.2,573.2 453.3,573.1 454.4,573.3 455.5,575.1 456.5,572.9 457.6,569.5 458.7,568.3 459.8,565.8 460.9,561.7 461.9,560.2 463.0,560.2 464.1,559.4 465.2,558.6 466.3,559.0 467.3,557.8 468.4,558.8 469.5,558.2 470.6,557.6 471.7,557.6 472.7,556.4 473.8,555.0 474.9,554.2 476.0,553.1 477.1,552.6 478.1,552.5 479.2,551.5 480.3,549.6 481.4,549.7 482.4,551.1 483.5,552.1 484.6,552.3 485.7,551.6 486.8,553.0 487.8,553.4 488.9,553.3 490.0,554.3 491.1,553.6 492.2,554.5 493.2,553.3 494.3,553.3 495.4,552.7 496.5,551.5 497.6,551.6 498.6,549.9 499.7,549.0 500.8,549.7 501.9,549.6 502.9,549.4 504.0,549.4 505.1,549.7 506.2,549.7 507.3,548.7 508.3,548.6 509.4,547.4 510.5,547.1 511.6,547.1 512.7,545.6 513.7,546.0 514.8,545.9 515.9,547.1 517.0,548.8 518.1,548.2 519.1,547.8 520.2,548.7 521.3,548.3 522.4,549.4 523.5,548.6 524.5,549.9 525.6,550.2 526.7,550.3 527.8,549.8 528.8,549.9 529.9,551.1 531.0,551.5 532.1,551.9 533.2,552.4 534.2,553.3 535.3,554.8 536.4,556.2 537.5,557.4 538.6,557.4 539.9,558.7 541.2,560.5 542.4,562.1 543.7,558.5 545.0,555.3 546.5,550.8 547.9,551.4 549.4,552.3 550.4,553.6 551.5,553.8 552.6,553.4 553.7,534.0 554.7,510.2 556.0,534.0 556.9,556.9 558.0,555.1 559.1,555.5 560.1,554.6 561.2,553.5 562.3,553.5 563.4,553.7 564.5,552.3 565.5,552.2 566.6,551.2 567.7,550.9 568.8,551.2 569.9,550.3 570.9,551.0 572.0,552.3 573.1,552.3 574.2,551.3 575.3,552.2 576.3,551.4 577.4,551.6 578.5,551.1 579.6,551.7 580.6,552.2 581.7,552.3 582.8,552.6 583.9,551.8 585.0,552.6 586.0,551.4 587.1,550.4 588.2,551.8 589.3,550.9 590.4,550.9 591.4,552.1 592.5,552.1 593.6,552.5 594.7,552.8 595.8,552.4 596.8,553.3 597.9,553.0 599.0,553.0 600.1,552.7 601.2,551.3 602.2,551.6 603.3,551.0 604.4,551.8 605.5,552.7 606.5,552.3 607.6,552.5 608.7,552.4 609.8,550.9 610.9,551.7 611.9,552.7 613.0,552.6 614.1,554.8 615.2,556.1 616.3,557.4 617.3,560.3 618.4,561.3 619.5,563.1 620.6,563.2 621.7,565.5 622.7,566.2 623.8,568.3 624.9,570.5 626.0,570.8 627.1,573.0 628.1,573.3 629.2,574.8 630.3,573.9 631.4,571.9 632.4,571.0 633.5,571.1 634.6,571.9 635.7,571.6 636.8,572.1 637.8,572.7 638.9,571.6 640.0,573.0 641.1,572.7 642.2,574.1 643.2,574.8 644.3,575.9 645.4,575.7 646.5,574.7 647.6,574.3 648.6,573.7 649.7,571.9 650.8,570.3 651.9,570.8 652.9,569.3 654.0,569.6 655.1,570.7 656.2,569.9 657.3,572.0 658.3,571.9 659.4,570.5 660.5,569.5 661.6,569.2 662.7,568.8 663.7,568.9 664.8,568.3 665.9,568.4 667.0,569.2 668.1,569.6 669.1,567.9 670.2,568.1 671.3,567.2 672.4,567.4 673.5,566.4 674.5,565.6 675.6,566.3 676.7,562.4 677.8,559.0 678.8,560.3 679.9,561.5 681.0,561.1 682.1,560.7 683.2,559.8 684.2,559.9 685.3,559.1 686.4,557.5 687.5,555.1 688.6,555.5 689.6,556.9 691.4,548.2 693.3,557.6 695.0,554.4 696.8,545.5 698.7,544.7 700.4,556.5 702.2,549.1 703.7,560.0 704.7,560.1 705.8,561.7 706.9,562.6 708.0,564.5 709.1,563.5 710.1,561.7 711.2,561.1 712.3,560.8 713.4,561.1 714.5,561.6 715.5,561.5 716.6,561.9 717.7,560.5 718.8,561.1 719.9,560.1 720.9,559.4 722.0,559.2 723.1,559.7 724.2,557.4 725.3,557.4 726.3,558.8 727.4,558.9 728.5,559.7 729.6,560.9 730.6,560.7 731.7,561.5 732.8,561.6 733.9,562.7 735.0,562.5 736.0,560.3 737.1,560.5 738.2,560.1 739.3,559.1 740.4,559.3 741.4,559.0 742.5,559.0 743.6,558.6 744.7,559.4 745.8,561.5 746.8,562.7 747.9,563.5 749.0,564.2 750.1,564.3 751.2,566.0 752.2,566.6 753.3,565.9 754.4,565.7 755.5,564.8 756.5,564.7 757.6,564.1 758.7,563.8 759.8,564.7 760.9,565.1 761.9,566.8 763.0,566.3 764.1,565.4 765.2,564.5 766.3,563.9 767.3,563.5 768.4,562.7 769.5,561.9 770.6,563.4 771.7,562.4 772.7,562.1 773.8,562.1 774.9,562.1 776.0,562.2 777.1,562.5 778.1,563.4 779.2,564.0 780.3,564.7 781.4,564.4 782.4,565.3 783.5,564.2 784.6,565.0 785.7,564.5 786.8,563.4 787.8,563.3 788.9,563.8 790.0,564.2 791.1,563.3 792.2,563.9 793.2,563.1 794.3,563.4 795.4,562.8 796.5,564.1 797.6,565.5 798.6,565.0 799.7,565.6 800.8,566.0 801.9,567.0 802.9,568.3 804.0,568.4 805.1,567.1 806.2,567.0 807.3,566.2 808.3,566.4 809.4,567.4 810.5,567.3 811.6,566.8 812.7,568.2 813.7,568.5 814.8,568.3 815.9,567.4 817.0,568.9 818.1,569.1 819.1,568.3 820.2,567.6 821.3,567.5 822.4,567.9 823.5,568.3 824.5,567.5 825.6,568.9 826.7,568.2 827.8,569.0 828.8,570.5 829.9,570.8 831.0,571.2 832.1,572.5 833.2,572.7 834.2,572.9 835.3,574.5 836.4,573.8 837.5,574.9 838.6,574.5 839.6,574.9 840.7,575.1 841.8,575.2 842.9,576.3 844.0,576.7 845.0,579.0 846.1,579.4 847.2,580.8 848.3,577.7 849.4,577.0 850.4,575.2 851.5,576.1 852.6,577.1 853.7,579.0 854.7,577.2 855.8,576.9 856.9,574.6 858.0,574.5 859.1,572.7 860.1,571.8 861.2,570.5 862.3,569.0 863.4,567.6 864.7,564.4 866.0,560.8 867.1,558.2 868.1,554.2 869.2,559.7 870.3,564.4 871.7,569.0 873.1,572.6 874.2,573.3 875.3,573.7 876.3,572.7 877.4,572.6 878.5,572.3 879.6,572.6 880.6,570.5 881.7,570.2 882.8,571.4 883.9,572.6 885.0,573.6 886.0,573.8 887.1,575.6 888.2,575.0 889.3,576.8 890.4,576.7 891.4,574.8 892.5,573.5 893.6,572.4 894.8,571.4 896.0,570.0 897.3,568.2 898.3,570.8 899.4,571.1 900.5,572.5 901.8,573.6 903.1,576.1 904.4,577.5 905.5,577.3 906.5,577.8 907.6,580.1 908.7,580.1 909.8,580.2 910.9,578.2 911.9,577.4 913.0,575.9 914.1,578.0 915.2,578.7 916.3,579.8 917.3,581.8 918.4,581.2 919.5,583.0 920.6,582.2 921.7,583.7 922.7,584.5 923.8,586.4 924.9,586.0 926.0,588.0 927.1,588.8 928.1,590.9 929.2,592.0 930.3,592.4 931.6,590.3 932.9,588.9 934.2,587.7 935.3,592.6 936.3,597.4 937.6,598.9 938.8,601.7 940.0,603.2 941.1,604.0 942.2,606.7 943.2,606.5 944.3,608.5 945.7,604.0 947.1,601.2 948.2,599.9 949.3,597.4 950.4,604.0 951.4,609.8 952.5,614.5 953.6,620.1 954.9,624.6 956.2,629.3 957.3,630.4 958.3,633.6 959.4,635.5 960.5,639.6 961.6,644.2 962.7,648.7 963.7,649.2 964.8,652.0 965.9,652.5 967.0,653.9 968.1,654.8 969.1,654.5 970.2,657.3 971.3,659.4 972.4,660.0 973.5,654.5 974.5,650.1 976.3,640.8 978.2,652.7 979.9,665.6 981.7,676.1 983.6,668.0 985.3,661.3 986.8,671.8 988.2,676.8 989.6,680.3 990.7,681.0 991.8,682.6 992.9,682.7 994.0,683.2 995.0,684.3 996.1,683.1 997.2,684.0 998.3,685.3 999.4,685.8 1000.4,685.0 1001.5,686.3 1002.6,686.3 1003.7,687.1 1004.7,687.0 1005.8,687.4 1006.9,689.7 1008.0,689.0 1009.1,690.6 1010.1,690.1 1011.2,690.6 1012.3,690.1 1013.4,690.8 1014.5,690.5 1015.5,691.7 1016.6,691.2 1017.7,692.0 1018.8,691.7 1019.9,691.0 1020.9,691.5 1022.0,691.9 1023.1,692.3 1024.2,691.8 1025.3,691.6 1026.3,693.2 1027.4,693.1 1028.5,692.9 1029.6,692.4 1030.6,692.1 1031.7,692.4 1032.8,692.1 1033.9,692.2 1035.0,693.1 1036.0,693.2 1037.1,693.2 1038.2,692.7 1039.3,692.3 1040.0,693.5 1041.1,693.3 1042.2,692.7 1043.2,692.4 1044.3,692.3 1045.4,692.0 1046.5,691.7 1047.6,690.9 1048.6,689.7 1049.7,689.0 1050.8,688.8 1051.9,689.4 1052.9,687.9 1054.0,687.6 1055.1,687.2 1056.2,686.7 1057.3,687.6 1058.3,685.4 1059.4,686.2 1060.5,686.4 1061.6,685.0 1062.7,685.2 1063.7,684.4 1064.8,683.9 1065.9,683.5 1067.0,683.4 1068.1,683.9 1069.2,683.3 1070.4,683.0 1071.5,681.7 1072.4,643.9 1073.3,597.9 1074.5,598.0 1075.6,643.9 1076.5,658.1 1078.1,649.7 1079.9,651.1 1081.4,661.9 1082.8,671.2 1084.4,669.1 1085.9,678.1 1087.0,683.9 1088.2,687.7 1089.2,687.0 1090.2,686.0 1091.3,684.2 1092.5,683.9 1093.7,682.4 1094.9,681.7 1096.1,681.0 1097.3,680.2 1098.5,678.8 1099.7,678.9 1100.9,678.4 1102.1,677.8 1103.4,676.0 1104.7,673.3 1105.9,672.8 1107.1,670.5 1108.3,669.3 1109.5,669.4 1110.7,669.6 1111.9,669.7 1113.1,669.0 1114.3,670.2 1115.5,669.1 1116.7,668.2 1117.9,667.3 1119.1,666.7 1120.3,665.3 1121.5,664.5 1122.7,664.9 1123.9,665.1 1125.1,666.0 1126.3,666.7 1127.5,665.9 1128.7,664.7 1129.9,662.3 1131.3,660.3 1132.6,658.6 1133.9,652.3 1135.7,656.1 1137.5,658.8 1139.3,651.1 1140.7,640.8 1142.5,636.6 1144.3,642.4 1146.1,645.7 1147.9,651.0 1149.3,652.5 1150.6,655.5 1151.8,657.4 1153.0,657.7 1154.2,658.2 1155.4,658.5 1156.6,659.4 1157.8,659.4 1158.9,658.5 1160.1,659.5 1161.2,658.9 1162.3,659.2 1163.2,645.4 1164.6,643.9 1165.9,654.5 1167.7,643.8 1169.5,641.6 1170.7,640.2 1171.8,639.5 1173.5,645.3 1174.6,646.9 1175.8,649.5 1176.9,649.1 1178.0,649.4 1179.2,649.5 1180.3,650.5 1181.4,649.8 1182.4,651.2 1183.5,651.9 1184.6,651.1 1185.7,651.9 1186.8,652.7 1187.8,652.6 1188.9,652.3 1190.0,651.8 1191.1,652.8 1192.2,652.8 1193.2,653.6 1194.3,653.0 1195.4,653.4 1196.5,653.9 1197.6,654.5 1198.6,653.9 1199.7,654.1 1200.8,654.6 1201.9,655.1 1202.9,654.0 1204.0,655.4 1205.1,654.9 1206.2,654.1 1207.3,654.5 1208.3,654.4 1209.4,654.2 1210.5,655.9 1211.6,655.5 1212.7,656.1 1213.7,656.0 1214.8,656.7 1215.9,656.3 1217.0,654.8 1218.1,655.7 1219.1,655.9 1220.2,656.2 1221.3,657.3 1222.4,656.9 1223.5,657.3 1224.5,658.2 1225.6,657.5 1226.7,657.7 1227.8,657.8 1228.8,658.2 1229.9,657.9 1231.0,657.8 1232.1,656.9 1233.2,655.9 1234.2,656.6 1235.4,656.9 1236.6,657.6 1237.8,657.6 1239.6,652.5 1241.4,658.0 1242.6,658.1 1243.8,660.1 1245.0,659.7 1246.2,659.4 1247.4,660.8 1248.6,660.5 1249.8,658.9 1251.0,659.3 1252.2,658.5 1253.4,658.5 1254.6,658.0 1255.8,659.4 1257.2,657.2 1258.5,655.7 1259.7,658.8 1260.9,660.4 1262.2,660.7 1263.5,659.2 1264.8,659.6 1266.0,659.3 1267.2,657.8 1268.4,658.3" fill="none" stroke="#00B0F0" stroke-width="5.0" stroke-linejoin="round" stroke-linecap="round" />
<line x1="203.3" y1="748.0" x2="1268.7" y2="748.0" stroke="#f00" stroke-width="3.9" stroke-linecap="round"/>
<line x1="446.8" y1="748.0" x2="446.8" y2="741.5" stroke="#f00" stroke-width="3.9" stroke-linecap="round"/>
<line x1="469.5" y1="748.0" x2="469.5" y2="741.5" stroke="#f00" stroke-width="3.9" stroke-linecap="round"/>
<line x1="634.6" y1="748.0" x2="634.6" y2="741.5" stroke="#f00" stroke-width="3.9" stroke-linecap="round"/>
<line x1="659.4" y1="748.0" x2="659.4" y2="741.5" stroke="#f00" stroke-width="3.9" stroke-linecap="round"/>
<line x1="681.7" y1="748.0" x2="681.7" y2="741.5" stroke="#f00" stroke-width="3.9" stroke-linecap="round"/>
<line x1="695.5" y1="748.0" x2="695.5" y2="741.5" stroke="#f00" stroke-width="3.9" stroke-linecap="round"/>
<line x1="721.6" y1="748.0" x2="721.6" y2="741.5" stroke="#f00" stroke-width="3.9" stroke-linecap="round"/>
<line x1="840.7" y1="748.0" x2="840.7" y2="741.5" stroke="#f00" stroke-width="3.9" stroke-linecap="round"/>
<line x1="989.6" y1="748.0" x2="989.6" y2="741.5" stroke="#f00" stroke-width="3.9" stroke-linecap="round"/>
<polygon points="997.7,747.5 998.7,734.0 1000.3,708.0 1001.3,705.4 1002.4,708.0 1003.4,728.8 1004.4,737.1 1006.0,740.2 1007.2,743.4 1007.6,747.5" fill="#FF0000" stroke="#FF0000" stroke-width="2.6" stroke-linejoin="round"/>
<polygon points="1025.0,747.5 1025.8,685.0 1026.5,650.0 1027.0,610.0 1029.8,609.0 1030.2,574.0 1031.5,568.0 1033.5,566.0 1034.0,540.0 1035.5,519.0 1036.8,519.0 1037.8,540.0 1038.8,560.0 1040.0,562.0 1040.8,586.0 1041.8,586.0 1042.5,562.0 1044.0,561.0 1045.5,561.5 1046.2,590.0 1047.0,620.0 1047.6,670.0 1048.5,720.0 1049.5,747.5 1046.5,747.5 1045.5,710.0 1044.8,679.0 1039.0,679.0 1038.2,660.0 1035.5,640.0 1033.5,620.0 1033.3,660.0 1033.5,714.0 1029.8,714.0 1029.3,747.5" fill="#FF0000" stroke="#FF0000" stroke-width="2.2" stroke-linejoin="round"/>
<line x1="1035.4" y1="590.0" x2="1036.2" y2="618.0" stroke="#fff" stroke-width="1.2"/>
</g>
</g>
<g id="pC">
<line x1="201.6" y1="844.0" x2="201.6" y2="1144.2" stroke="#000" stroke-width="6"/>
<line x1="201.6" y1="1144.2" x2="213.2" y2="1144.2" stroke="#000" stroke-width="5.6"/>
<line x1="201.6" y1="1044.1" x2="213.2" y2="1044.1" stroke="#000" stroke-width="5.6"/>
<line x1="201.6" y1="944.1" x2="213.2" y2="944.1" stroke="#000" stroke-width="5.6"/>
<line x1="201.6" y1="844.0" x2="213.2" y2="844.0" stroke="#000" stroke-width="5.6"/>
<line x1="1268.7" y1="844.0" x2="1268.7" y2="1144.2" stroke="#f00" stroke-width="5.8"/>
<line x1="1256.3" y1="1144.2" x2="1268.7" y2="1144.2" stroke="#f00" stroke-width="5.6"/>
<line x1="1256.3" y1="1069.2" x2="1268.7" y2="1069.2" stroke="#f00" stroke-width="5.6"/>
<line x1="1256.3" y1="994.1" x2="1268.7" y2="994.1" stroke="#f00" stroke-width="5.6"/>
<line x1="1256.3" y1="919.0" x2="1268.7" y2="919.0" stroke="#f00" stroke-width="5.6"/>
<line x1="1256.3" y1="844.0" x2="1268.7" y2="844.0" stroke="#f00" stroke-width="5.6"/>
<g clip-path="url(#cC)">
<polyline points="202.9,1138.4 204.0,1138.1 205.1,1138.2 206.2,1138.3 207.3,1138.3 208.3,1138.8 209.4,1138.7 210.5,1138.5 211.6,1138.2 212.7,1137.7 213.7,1137.8 214.8,1138.0 215.9,1137.7 217.0,1137.7 218.1,1137.0 219.1,1136.8 220.2,1136.5 221.3,1136.7 222.4,1136.4 223.5,1136.4 224.5,1136.3 225.6,1136.3 226.7,1136.1 227.8,1136.4 228.8,1135.9 229.9,1136.5 231.0,1136.2 232.1,1135.9 233.2,1136.2 234.2,1136.4 235.3,1136.4 236.4,1136.8 237.5,1136.9 238.6,1137.2 239.6,1137.9 240.7,1137.7 241.8,1138.3 242.9,1138.5 244.0,1138.4 245.0,1138.4 246.1,1138.8 247.2,1138.5 248.3,1138.9 249.4,1138.4 250.4,1138.7 251.5,1139.0 252.6,1138.6 253.7,1139.3 254.7,1138.9 255.8,1139.1 256.8,1138.8 257.8,1139.4 258.9,1139.1 259.9,1139.3 260.9,1139.1 261.9,1139.2 263.0,1139.2 264.0,1138.9 265.0,1138.8 266.1,1139.3 267.1,1138.8 268.1,1139.4 269.1,1138.8 270.2,1138.7 271.2,1138.7 272.2,1139.3 273.2,1139.4 274.3,1139.0 275.3,1139.2 276.3,1139.0 277.4,1139.4 278.4,1139.2 279.4,1138.8 280.4,1138.7 281.5,1139.2 282.5,1138.7 283.5,1139.3 284.6,1138.9 285.6,1138.9 286.6,1139.1 287.6,1138.9 288.7,1139.1 289.7,1138.8 290.7,1139.4 291.7,1138.9 292.8,1139.3 293.8,1138.8 294.8,1139.3 295.9,1139.4 296.9,1139.0 297.9,1138.9 298.9,1138.9 300.0,1139.1 301.0,1138.7 302.0,1138.9 303.1,1138.5 304.1,1138.8 305.1,1139.0 306.1,1138.7 307.2,1138.8 308.2,1138.3 309.2,1138.9 310.2,1138.3 311.3,1138.9 312.3,1138.9 313.3,1138.8 314.4,1138.4 315.4,1138.2 316.4,1138.2 317.4,1138.5 318.5,1138.2 319.5,1138.4 320.5,1137.9 321.6,1138.2 322.6,1138.6 323.6,1138.4 324.6,1138.3 325.7,1138.0 326.7,1138.1 327.7,1138.2 328.7,1138.7 329.8,1138.7 330.8,1138.2 331.8,1138.8 332.9,1138.1 333.9,1138.6 334.9,1138.9 335.9,1138.4 337.0,1138.9 338.0,1138.7 339.0,1138.2 340.1,1138.5 341.1,1138.6 342.2,1137.1 343.2,1136.1 344.3,1137.1 345.4,1138.7 346.4,1138.5 347.4,1138.3 348.4,1138.7 349.5,1138.3 350.5,1138.7 351.5,1138.9 352.5,1138.7 353.5,1138.6 354.5,1138.3 355.6,1138.6 356.6,1138.3 357.6,1138.8 358.6,1138.3 359.6,1138.7 360.6,1138.5 361.6,1138.5 362.7,1138.7 363.7,1138.3 364.7,1138.3 365.7,1138.9 366.8,1138.4 367.8,1138.8 368.8,1138.8 369.9,1138.5 370.9,1138.2 371.9,1138.1 372.9,1138.7 374.0,1138.1 375.0,1138.4 376.0,1138.4 377.1,1138.0 378.1,1138.3 379.1,1138.0 380.1,1138.3 381.2,1138.3 382.2,1138.1 383.2,1138.0 384.2,1138.2 385.3,1138.0 386.3,1137.9 387.3,1138.1 388.4,1138.6 389.4,1138.3 390.4,1138.6 391.4,1138.0 392.5,1138.7 393.5,1138.4 394.5,1138.6 395.5,1138.5 396.6,1138.6 397.6,1138.3 398.6,1138.7 399.7,1138.2 400.7,1138.3 401.7,1138.2 402.7,1138.5 403.8,1138.6 404.8,1138.4 405.8,1138.8 406.9,1138.3 407.9,1138.7 408.9,1138.4 409.9,1138.6 411.0,1138.8 412.0,1138.7 413.0,1138.1 414.0,1138.3 415.1,1138.5 416.1,1138.8 417.1,1138.0 418.2,1138.5 419.2,1138.5 420.2,1138.6 421.2,1138.2 422.3,1138.6 423.3,1138.3 424.3,1138.6 425.4,1137.9 426.4,1138.6 427.4,1138.2 428.4,1138.1 429.5,1137.9 430.5,1138.1 431.5,1138.5 432.5,1138.4 433.6,1138.0 434.6,1138.2 435.6,1138.1 436.7,1138.1 437.7,1138.2 438.7,1138.3 439.7,1138.8 440.8,1138.9 441.8,1138.7 442.8,1138.5 443.9,1138.5 444.9,1138.8 445.9,1138.9 446.9,1138.8 448.0,1138.7 449.0,1138.5 450.0,1138.7 451.0,1138.9 452.1,1138.8 453.1,1138.2 454.1,1138.7 455.2,1138.4 456.2,1138.2 457.2,1138.8 458.2,1138.6 459.3,1138.6 460.3,1138.1 461.3,1138.6 462.4,1138.7 463.4,1138.7 464.4,1138.5 465.4,1138.6 466.5,1138.5 467.5,1138.3 468.5,1138.2 469.5,1138.5 470.6,1138.3 471.6,1138.5 472.6,1138.0 473.6,1138.6 474.7,1138.2 475.7,1138.6 476.7,1137.9 477.7,1138.6 478.7,1138.4 479.7,1138.0 480.8,1138.5 481.8,1138.0 482.8,1138.0 483.8,1138.2 484.8,1138.0 485.9,1138.2 486.9,1138.5 487.9,1138.3 488.9,1138.3 490.0,1139.0 491.0,1139.2 492.1,1139.2 493.1,1139.0 494.1,1139.1 495.1,1139.0 496.2,1138.6 497.2,1138.2 498.2,1138.6 499.2,1138.7 500.3,1138.2 501.3,1138.3 502.3,1138.5 503.4,1138.4 504.4,1137.7 505.4,1138.0 506.4,1137.5 507.5,1137.5 508.5,1138.0 509.5,1137.6 510.6,1137.7 511.6,1137.5 512.6,1137.4 513.6,1137.2 514.7,1137.3 515.7,1137.6 516.7,1137.4 517.7,1137.1 518.8,1136.9 519.8,1137.0 520.8,1137.3 521.9,1137.0 522.9,1137.1 523.9,1137.2 524.9,1136.6 526.0,1137.0 527.0,1136.4 528.0,1137.0 529.1,1136.4 530.1,1136.4 531.1,1136.9 532.1,1136.4 533.2,1136.4 534.2,1136.8 535.2,1136.6 536.2,1136.8 537.3,1136.4 538.3,1136.5 539.3,1136.8 540.4,1136.5 541.4,1136.9 542.4,1136.2 543.4,1136.7 544.5,1136.2 545.5,1136.5 546.5,1136.1 547.6,1136.2 548.6,1136.8 549.6,1136.4 550.6,1136.7 551.7,1136.3 552.7,1136.4 553.7,1136.2 554.7,1136.5 555.8,1136.8 556.8,1136.5 557.8,1136.4 558.9,1136.9 559.9,1136.9 560.9,1136.7 561.9,1136.3 563.0,1136.7 564.0,1136.6 565.0,1137.0 566.1,1136.6 567.1,1136.9 568.1,1136.8 569.1,1136.7 570.2,1136.8 571.2,1136.9 572.2,1137.2 573.2,1136.8 574.3,1136.8 575.3,1137.3 576.3,1136.7 577.4,1137.2 578.4,1137.0 579.4,1136.9 580.4,1136.8 581.5,1137.0 582.5,1137.1 583.5,1136.9 584.6,1136.9 585.6,1136.3 586.6,1136.6 587.6,1136.4 588.7,1137.0 589.7,1137.0 590.7,1136.3 591.7,1136.7 592.8,1136.6 593.8,1136.2 594.8,1136.5 595.9,1136.7 596.9,1136.6 597.9,1136.4 598.9,1136.7 600.0,1136.3 601.0,1136.5 602.0,1136.4 603.1,1136.9 604.1,1136.6 605.1,1136.7 606.1,1136.6 607.2,1136.4 608.2,1136.8 609.2,1136.6 610.2,1136.6 611.3,1136.3 612.3,1136.2 613.3,1136.5 614.4,1136.7 615.4,1136.7 616.4,1136.4 617.4,1136.2 618.5,1136.5 619.5,1136.6 620.5,1136.2 621.6,1136.6 622.6,1136.1 623.6,1136.2 624.6,1136.0 625.7,1136.2 626.7,1136.2 627.7,1136.7 628.7,1136.7 629.8,1136.0 630.8,1136.1 631.8,1136.6 632.9,1136.0 633.9,1136.0 634.9,1136.1 635.9,1135.8 637.0,1135.9 638.0,1136.0 639.0,1136.0 640.1,1136.4 641.1,1135.9 642.1,1135.8 643.1,1136.3 644.2,1135.9 645.2,1136.2 646.2,1136.1 647.2,1136.1 648.3,1135.8 649.3,1135.6 650.3,1136.1 651.4,1135.8 652.4,1135.9 653.4,1135.9 654.4,1136.0 655.5,1135.6 656.5,1135.6 657.5,1136.0 658.6,1135.7 659.6,1135.5 660.6,1135.8 661.6,1135.4 662.7,1135.7 663.7,1135.3 664.7,1135.9 665.7,1135.7 666.8,1135.6 667.8,1136.1 668.8,1135.5 669.9,1135.6 670.9,1135.4 671.9,1135.8 672.9,1136.0 674.0,1136.0 675.0,1135.8 676.0,1136.1 677.1,1135.6 678.1,1135.8 679.1,1136.1 680.1,1136.3 681.2,1136.1 682.2,1136.2 683.2,1136.2 684.2,1136.0 685.3,1136.4 686.3,1136.2 687.3,1135.8 688.4,1135.8 689.4,1136.1 690.4,1135.7 691.4,1135.5 692.5,1136.0 693.5,1135.7 694.5,1135.6 695.5,1135.7 696.6,1135.9 697.6,1135.2 698.6,1135.3 699.7,1135.1 700.7,1135.3 701.7,1135.3 702.7,1135.6 703.8,1135.4 704.8,1135.3 705.8,1135.1 706.9,1135.2 707.9,1135.0 708.9,1135.5 709.9,1135.4 711.0,1135.5 712.0,1134.9 713.0,1135.3 714.0,1135.4 715.1,1135.2 716.1,1135.5 717.1,1135.5 718.2,1135.4 719.2,1135.4 720.2,1135.3 721.2,1135.5 722.3,1134.9 723.3,1135.3 724.3,1135.3 725.4,1135.3 726.4,1135.0 727.4,1135.0 728.4,1135.3 729.5,1135.4 730.5,1135.0 731.5,1135.0 732.5,1135.0 733.6,1134.9 734.6,1135.3 735.6,1135.6 736.7,1135.4 737.7,1135.1 738.7,1135.3 739.7,1134.8 740.8,1135.5 741.8,1135.0 742.8,1134.8 743.9,1135.3 744.9,1134.9 745.9,1135.0 746.9,1134.8 748.0,1135.1 749.0,1135.2 750.0,1135.4 751.1,1134.7 752.1,1135.3 753.1,1134.7 754.2,1134.7 755.2,1135.0 756.2,1134.7 757.3,1134.7 758.3,1134.8 759.4,1134.5 760.4,1134.9 761.4,1134.4 762.5,1134.9 763.5,1134.8 764.5,1134.6 765.6,1134.1 766.6,1134.7 767.6,1134.0 768.7,1134.4 769.7,1134.3 770.7,1134.0 771.7,1134.5 772.7,1134.6 773.7,1134.5 774.7,1134.4 775.8,1134.6 776.8,1134.7 777.8,1134.4 778.8,1135.0 779.8,1135.1 780.8,1134.9 781.9,1135.1 782.9,1134.5 784.0,1135.0 785.1,1134.2 786.2,1134.5 787.3,1134.2 788.3,1134.4 789.4,1134.5 790.5,1134.5 791.6,1134.3 792.7,1134.1 793.7,1133.9 794.8,1133.9 795.9,1133.7 797.0,1133.5 798.1,1133.9 799.1,1133.6 800.2,1133.4 801.3,1133.1 802.4,1133.3 803.5,1132.6 804.5,1132.2 805.6,1132.1 806.7,1131.8 807.8,1131.6 808.8,1131.0 809.9,1130.6 811.0,1129.5 812.1,1128.2 813.2,1126.9 814.2,1124.3 815.3,1122.2 816.4,1120.1 817.5,1118.7 818.6,1116.7 819.6,1114.7 820.7,1112.6 821.8,1110.5 822.9,1108.1 824.0,1106.4 825.0,1104.3 826.1,1100.2 827.2,1096.2 828.3,1092.5 829.4,1088.9 830.4,1083.9 831.5,1078.4 832.6,1072.8 833.7,1067.3 834.7,1061.3 835.8,1055.6 836.9,1050.3 838.0,1044.4 839.1,1039.0 840.1,1033.0 841.2,1028.8 842.3,1024.2 843.4,1020.1 844.5,1016.9 845.5,1014.4 846.6,1014.2 847.7,1013.8 848.8,1013.3 849.9,1012.2 850.9,1011.1 852.0,1010.9 853.1,1010.0 854.2,1009.3 855.3,1012.8 856.3,1015.6 857.4,1019.0 858.5,1022.0 859.6,1023.8 860.6,1025.2 861.7,1026.3 862.8,1028.4 863.9,1031.0 865.0,1033.8 866.0,1036.1 867.1,1036.0 868.2,1036.9 869.3,1037.2 870.4,1037.2 871.4,1037.5 872.5,1038.9 873.6,1039.4 874.7,1039.8 875.8,1040.8 876.8,1041.9 877.9,1042.7 879.0,1042.8 880.1,1043.1 881.2,1042.9 882.2,1043.1 883.3,1043.8 884.4,1043.6 885.5,1043.8 886.5,1044.6 887.6,1044.7 888.7,1045.2 889.8,1045.8 890.9,1046.4 891.9,1047.0 893.0,1047.6 894.1,1048.0 895.2,1048.5 896.3,1049.9 897.3,1050.2 898.4,1051.4 899.5,1052.3 900.6,1053.3 901.7,1054.2 902.7,1054.7 903.8,1055.9 904.9,1056.7 906.0,1058.8 907.1,1060.6 908.1,1063.3 909.2,1065.3 910.3,1067.1 911.4,1069.5 912.4,1071.3 913.5,1071.9 914.6,1073.4 915.7,1075.0 916.8,1076.2 917.8,1077.5 918.9,1078.9 920.0,1079.7 921.1,1081.3 922.2,1082.3 923.2,1082.7 924.3,1082.8 925.4,1082.5 926.5,1082.5 927.6,1083.0 928.6,1082.4 929.7,1077.3 930.8,1071.7 932.3,1061.0 934.0,1065.4 935.8,1073.8 937.1,1076.8 938.3,1080.2 939.4,1082.0 940.5,1082.9 941.6,1084.9 942.7,1085.7 943.7,1086.0 944.8,1087.3 945.9,1087.8 947.0,1088.5 948.1,1088.7 949.1,1089.8 950.2,1090.2 951.9,1084.8 953.2,1088.6 954.5,1093.4 955.9,1093.9 957.3,1094.5 958.4,1095.5 959.5,1096.6 960.8,1100.9 962.1,1105.3 963.2,1106.6 964.2,1108.4 965.3,1110.6 966.4,1110.8 967.5,1111.2 968.6,1111.5 969.6,1109.7 970.7,1107.1 971.8,1110.8 972.9,1113.9 974.0,1113.2 975.0,1112.6 976.1,1115.0 977.2,1116.8 978.3,1119.2 979.4,1120.5 980.4,1122.8 981.5,1124.1 982.6,1125.6 983.7,1125.6 984.7,1126.3 985.8,1126.6 986.9,1126.8 988.0,1126.6 989.1,1126.4 990.1,1126.1 991.2,1126.2 992.3,1125.5 993.4,1126.6 994.5,1127.7 995.5,1128.3 996.6,1128.7 997.7,1129.0 998.8,1129.5 999.9,1130.4 1000.9,1130.7 1002.0,1131.1 1003.1,1131.4 1004.2,1131.7 1005.3,1132.2 1006.3,1131.4 1007.4,1130.6 1008.5,1131.8 1009.6,1133.0 1010.6,1134.1 1011.7,1134.5 1012.8,1134.7 1013.9,1134.4 1015.0,1135.2 1016.0,1135.5 1017.1,1135.6 1018.2,1136.1 1019.3,1135.8 1020.4,1136.6 1021.4,1136.5 1022.5,1136.7 1023.6,1136.5 1024.7,1136.6 1025.8,1136.9" fill="none" stroke="#000" stroke-width="4.2" stroke-linejoin="round" stroke-linecap="round" />
<polyline points="202.9,962.7 204.7,973.4 205.9,971.0 207.1,969.8 208.3,968.6 209.4,963.4 210.5,958.9 211.6,953.3 212.7,954.0 213.7,954.7 214.8,954.3 215.9,953.0 217.0,952.2 218.1,951.9 219.1,951.4 220.2,952.2 221.3,953.4 222.4,956.0 223.5,957.2 224.5,961.1 225.6,964.1 226.7,963.8 227.8,962.9 228.8,961.7 229.9,962.7 231.0,965.9 232.1,966.9 233.2,962.4 234.2,957.2 236.0,950.9 237.3,956.1 238.6,959.2 239.6,963.9 240.7,968.3 241.8,967.8 242.9,968.2 244.0,967.1 245.7,951.3 247.2,943.5 248.6,944.2 250.0,943.3 251.5,959.2 252.6,963.4 253.7,968.5 255.1,966.1 256.5,965.7 257.6,970.7 258.6,975.1 260.1,978.6 261.2,974.5 262.3,970.5 263.4,970.3 264.5,970.0 265.5,969.4 266.6,969.8 267.7,970.9 268.8,972.0 270.2,970.1 271.6,966.8 273.1,958.2 274.2,957.5 275.3,955.1 276.3,953.1 277.4,951.9 278.5,950.3 279.6,948.9 281.0,952.6 282.4,956.9 283.7,955.4 285.0,954.7 286.0,952.8 287.1,950.2 288.2,948.3 289.6,951.4 291.0,954.5 292.3,953.9 293.6,952.8 294.7,948.7 295.8,943.0 296.8,940.9 297.9,939.9 299.0,943.7 300.1,947.6 301.2,937.4 302.2,927.1 303.3,906.2 304.8,902.3 306.1,916.2 307.2,915.9 308.3,913.7 309.8,920.6 310.9,928.2 311.9,936.1 313.0,940.6 314.1,944.6 315.2,945.8 316.3,947.1 317.3,949.5 318.4,952.2 319.5,952.7 320.6,952.2 321.7,951.0 322.7,949.9 323.8,948.5 324.9,947.7 326.0,947.2 327.1,942.6 328.1,935.6 329.2,930.6 330.3,925.0 332.0,920.4 333.1,923.6 334.2,927.7 335.3,931.0 336.3,932.5 337.8,912.0 338.9,900.1 340.0,888.5 341.4,879.5 342.8,872.1 344.3,890.4 345.8,907.7 347.6,922.8 348.6,925.8 349.7,930.4 350.8,923.1 351.9,926.7 352.9,931.3 354.0,934.6 355.1,936.6 356.2,941.1 357.3,946.3 358.3,950.1 359.4,954.0 360.5,952.9 361.6,951.2 362.7,950.1 363.7,947.1 364.8,946.5 365.9,944.7 367.0,945.0 368.1,945.7 369.1,947.6 370.2,948.0 371.3,949.7 372.4,951.3 373.5,951.6 374.5,952.7 375.6,954.8 376.7,955.9 378.1,956.3 379.5,957.3 381.0,944.4 382.5,925.6 383.9,924.2 385.3,922.8 386.4,925.8 387.5,927.2 388.6,929.2 389.6,932.4 390.7,936.0 391.8,933.2 392.9,930.7 394.0,934.1 395.0,936.8 396.1,938.6 397.2,939.6 398.3,938.5 399.4,937.7 400.4,937.6 401.5,937.5 402.6,935.2 403.7,933.9 404.7,933.2 405.8,932.9 406.9,933.3 408.0,934.6 409.1,934.1 410.1,935.7 411.2,936.3 412.3,936.9 413.4,938.7 414.5,938.9 415.5,939.7 416.6,940.5 417.7,939.0 418.8,937.8 419.9,937.4 420.9,936.0 422.0,933.6 423.1,935.2 424.2,938.6 425.3,941.4 426.3,939.1 427.4,936.8 429.1,926.0 430.4,925.7 431.7,925.1 432.8,926.1 433.9,929.1 435.0,930.8 436.0,932.6 437.1,934.6 438.2,935.6 439.3,936.5 440.4,935.2 441.4,935.5 442.5,935.6 443.6,935.8 444.7,934.3 445.8,933.4 446.8,932.4 447.9,932.5 449.0,930.0 450.1,928.3 451.2,927.4 452.2,922.4 453.3,917.8 454.4,916.1 455.5,915.6 456.5,913.7 457.6,915.4 458.7,914.4 459.8,915.2 460.9,913.8 461.9,913.2 463.0,910.9 464.1,915.1 465.2,917.5 466.3,917.2 467.3,918.8 468.4,918.2 469.5,921.6 470.6,922.7 471.7,924.7 472.7,926.9 473.8,926.8 474.9,928.0 476.0,929.1 477.1,930.7 478.1,930.5 479.2,932.3 480.3,933.3 481.4,934.8 482.4,933.7 483.5,935.4 484.6,935.5 485.7,935.4 486.8,935.3 487.8,935.3 488.9,934.3 490.0,934.4 491.1,934.0 492.2,935.6 493.2,934.3 494.3,935.1 495.4,936.9 496.5,938.1 497.6,939.4 498.6,937.9 499.7,937.9 500.8,937.6 501.9,938.0 502.9,937.6 504.0,937.2 505.1,937.8 506.2,937.0 507.3,937.7 508.3,938.0 509.4,936.9 510.5,937.9 511.6,932.1 512.7,926.7 513.7,922.3 514.8,915.5 515.9,919.5 517.0,924.8 518.1,926.7 519.1,930.2 520.2,931.8 521.3,931.6 522.4,932.2 523.5,932.8 524.5,934.5 525.6,935.7 526.7,936.8 527.8,937.2 528.8,938.5 529.9,940.4 531.0,941.2 532.1,940.6 533.2,939.8 534.2,938.4 535.3,939.5 536.4,941.4 537.5,944.8 538.8,946.7 540.1,948.4 541.5,946.9 542.9,944.2 544.0,942.4 545.0,941.3 546.1,940.1 547.2,941.5 548.3,941.4 549.4,943.8 550.4,944.5 551.5,943.3 552.6,942.6 553.7,941.7 554.7,939.6 555.8,939.2 556.9,938.8 558.0,938.0 559.1,937.0 560.1,935.7 561.2,936.6 562.3,935.8 563.4,934.4 564.5,935.3 565.5,937.0 566.6,936.6 567.7,937.0 568.8,938.4 569.9,938.3 570.9,934.2 572.0,931.7 573.1,930.1 574.2,929.6 575.3,928.5 576.3,929.7 577.4,932.3 578.5,932.5 579.6,933.2 580.6,933.3 581.7,934.3 582.8,934.8 583.9,935.1 585.0,934.7 586.0,935.8 587.1,935.2 588.2,933.0 589.3,931.4 591.0,916.5 592.5,915.3 594.2,926.8 596.2,929.3 597.6,926.7 599.0,926.0 600.5,907.4 602.2,905.5 604.0,923.2 605.2,924.8 606.4,926.3 607.6,927.3 608.7,928.2 609.8,929.1 610.9,930.4 611.9,930.1 613.0,929.8 614.1,927.8 615.2,926.7 616.3,926.3 617.3,926.5 618.4,927.2 619.5,927.6 620.6,927.2 621.7,924.0 622.7,921.2 623.8,919.6 624.9,918.9 626.0,917.0 627.1,915.9 628.1,915.4 629.2,915.7 630.3,916.7 631.4,915.9 632.4,916.9 633.5,918.0 634.6,920.0 635.7,921.1 636.8,921.4 637.8,923.2 638.9,926.3 640.0,927.6 641.1,928.6 642.2,931.1 643.2,933.6 644.3,934.3 645.4,935.6 646.5,936.8 647.6,935.7 648.6,934.6 649.7,934.3 650.8,931.5 651.9,928.9 652.9,927.2 654.0,926.7 655.1,925.1 656.2,925.2 657.3,924.1 658.3,922.8 659.4,922.3 660.5,920.9 661.6,921.1 662.7,919.7 663.7,917.6 664.8,916.8 665.9,916.5 667.0,915.3 668.1,915.1 669.1,913.4 670.2,913.4 671.3,914.7 672.4,914.5 673.5,916.4 674.5,913.9 675.6,913.1 676.7,911.2 678.1,910.9 679.5,909.6 680.8,912.3 682.1,916.5 683.2,919.7 684.2,922.5 685.5,922.8 686.8,924.0 688.2,918.3 689.6,914.3 691.4,910.7 693.3,918.3 694.4,921.6 695.5,925.0 696.5,920.5 697.6,914.8 699.0,916.2 700.4,916.3 701.9,904.3 703.7,904.5 705.2,916.5 706.6,918.2 708.0,920.0 709.1,920.4 710.1,921.9 711.2,923.9 712.3,924.7 713.4,925.4 714.5,926.6 715.5,928.5 716.6,927.0 717.7,925.0 718.8,923.2 719.9,925.5 720.9,926.8 722.0,929.1 723.1,927.9 724.2,924.8 725.3,924.0 726.3,924.9 727.4,926.6 728.5,929.3 729.7,930.1 730.9,933.0 732.2,934.0 733.5,931.4 734.7,928.7 736.0,926.8 737.3,925.3 738.6,923.6 739.9,921.6 741.2,924.8 742.5,927.2 743.6,927.1 744.7,925.3 745.8,924.7 746.8,924.9 747.9,925.5 749.0,925.6 750.1,926.9 751.2,926.9 752.2,928.6 753.3,930.7 754.4,932.7 755.5,932.5 756.5,931.2 757.6,930.8 758.7,930.8 759.8,929.8 760.9,927.9 761.9,925.6 763.0,924.9 764.1,926.7 765.2,927.4 766.3,928.8 767.4,931.5 768.6,932.6 769.7,932.8 770.9,934.4 772.2,935.9 773.2,935.4 774.3,934.9 775.4,936.0 776.5,936.3 777.6,935.6 778.6,935.4 779.7,931.8 780.8,927.8 781.9,930.7 782.9,931.0 784.2,934.3 785.5,938.2 786.9,936.1 788.3,935.4 789.4,933.5 790.5,932.2 791.6,931.5 792.7,932.8 793.7,932.2 794.8,933.3 795.9,933.7 797.0,932.7 798.1,932.4 799.1,932.9 800.2,934.2 801.3,936.2 802.4,938.3 803.5,942.0 805.0,933.8 806.4,931.6 807.8,928.6 808.8,931.4 809.9,935.1 811.0,934.5 812.1,933.6 813.2,933.6 814.2,894.7 815.3,851.8 817.1,851.6 818.6,894.7 819.6,905.5 820.7,916.3 821.8,950.9 823.5,974.6 825.0,957.3 826.5,940.1 827.8,963.8 828.9,994.0 830.4,981.1 831.5,970.3 833.0,1006.8 834.7,1015.3 836.5,1019.9 838.0,937.9 838.6,838.3 839.7,838.5 840.8,838.6 841.2,892.6 842.9,838.7 844.0,837.7 845.0,839.1 846.0,838.6 847.3,916.3 848.8,981.1 850.3,968.1 851.6,957.3 853.1,1000.8 854.2,1000.1 855.3,1000.4 856.8,997.1 857.8,1002.9 858.9,1009.0 860.3,1008.9 861.7,1010.0 862.8,1009.9 863.9,1008.0 865.0,1011.0 866.0,1013.8 867.4,1016.1 868.8,1017.8 870.4,1033.3 871.4,1034.3 872.5,1035.5 873.6,1035.9 874.7,1036.8 875.8,1037.5 876.8,1036.0 877.9,1036.1 879.0,1034.9 880.1,1037.3 881.2,1037.9 882.2,1039.1 883.3,1039.4 884.4,1040.7 885.5,1039.8 886.5,1040.4 887.6,1039.7 888.7,1041.2 889.8,1040.8 890.9,1043.0 891.9,1043.4 893.0,1043.6 894.1,1043.8 895.2,1043.5 896.3,1045.8 897.3,1045.9 898.4,1044.3 899.5,1042.6 900.6,1041.8 901.7,1042.8 902.7,1043.7 903.8,1043.1 904.9,1044.1 906.0,1044.6 907.1,1045.1 908.1,1046.2 909.2,1046.4 910.3,1048.3 911.4,1048.3 912.4,1048.8 913.5,1049.6 914.6,1051.7 915.7,1051.5 916.8,1052.8 917.8,1053.5 918.9,1054.7 920.0,1056.8 921.1,1057.0 922.2,1058.9 923.2,1058.1 924.3,1055.8 925.4,1054.8 926.5,1052.0 927.6,1048.3 928.6,1045.8 929.7,1035.0 930.8,1024.2 932.3,994.1 933.4,990.8 934.5,1024.2 935.8,1052.3 937.3,1060.9 938.3,1059.5 939.4,1056.8 940.5,1053.4 941.6,1051.1 942.7,1050.6 943.7,1051.4 944.8,1050.3 946.1,1048.9 947.4,1049.1 949.1,1024.2 950.9,948.7 951.9,925.0 953.5,981.1 955.2,1054.5 956.7,1002.7 957.8,937.9 958.8,906.6 959.9,937.9 961.0,1002.7 961.7,1045.6 963.2,1039.6 964.2,1038.8 965.3,1037.2 966.8,1002.7 968.1,916.3 969.0,838.6 970.1,838.4 971.2,838.6 972.4,916.3 973.3,1000.5 974.6,937.9 975.5,893.7 976.8,959.5 978.3,1013.5 979.4,1036.2 980.4,1033.6 981.5,1031.4 982.6,1028.2 983.7,1032.7 984.7,1035.5 985.8,1034.4 986.9,1034.2 988.0,1032.6 989.1,1035.1 990.1,1035.9 991.2,1037.4 992.3,1035.7 993.4,1032.7 994.5,1031.9 995.5,1028.7 996.6,1027.0 997.7,1025.7 998.8,1024.6 999.9,1022.5 1001.3,1018.6 1002.7,1013.5 1003.7,1007.8 1004.8,1000.6 1005.9,993.4 1007.0,987.6 1008.1,994.6 1009.1,1001.5 1010.2,1000.2 1011.3,998.1 1012.6,991.4 1013.9,985.3 1015.0,990.8 1016.0,996.2 1017.1,993.8 1018.2,992.5 1019.3,994.3 1020.4,996.4 1021.4,997.7 1022.5,998.1 1024.2,1004.6 1025.8,1001.6" fill="none" stroke="#00B0F0" stroke-width="5.0" stroke-linejoin="round" stroke-linecap="round" />
<polyline points="203.3,1143.0 872.4,1143.0 872.7,1074.4 873.2,988.0 874.6,985.8 875.1,962.1 876.2,959.9 876.7,942.6 877.8,941.6 878.9,923.2 880.0,904.8 881.6,900.5 883.2,901.6 884.3,921.0 885.4,944.8 885.9,977.2 885.4,1009.6 883.8,1031.2 887.0,1036.6 886.5,977.2 887.5,961.0 889.7,959.9 891.3,967.5 890.8,1009.6 893.5,1009.6 892.9,968.6 895.1,967.5 896.2,998.8 895.1,1057.1 897.8,1058.2 898.9,1002.0 901.0,1001.0 901.6,988.0 903.2,986.9 904.3,1001.0 906.4,1002.0 908.1,1009.6 910.2,1011.7 912.9,1013.9 914.0,1039.8 915.6,1040.9 916.7,1048.5 918.3,1050.6 919.4,1063.6 921.0,1085.2 922.6,1096.0 923.7,1112.2 924.8,1120.8 927.0,1124.1 930.2,1120.8 932.4,1117.6 934.0,1096.0 935.6,1095.4 937.2,1117.6 938.8,1128.4 939.9,1143.0 1025.8,1143.0" fill="none" stroke="#FF0000" stroke-width="3.9" stroke-linejoin="round" stroke-linecap="round" />
<polygon points="872.7,1022.1 873.7,989.0 874.7,980.4 875.7,972.7 876.7,965.5 877.7,956.6 878.7,945.8 879.7,935.0 880.7,931.2 881.7,928.9 882.7,928.0 883.7,938.7 884.7,954.5 885.7,973.5 886.7,976.8 887.7,976.8 888.7,973.3 889.7,971.2 890.7,973.9 891.7,976.7 892.7,977.0 893.7,984.6 894.7,987.2 895.7,989.7 896.7,1011.8 897.7,1012.1 898.7,1011.0 899.7,1009.1 900.7,1007.5 901.7,1000.7 902.7,1000.7 903.7,1000.9 904.7,1011.9 905.7,1013.7 906.7,1014.7 907.7,1016.4 908.7,1020.1 909.7,1023.7 910.7,1024.9 911.7,1026.7 912.7,1028.4 913.7,1033.6 914.7,1046.5 915.7,1052.9 916.7,1056.4 917.7,1064.9 918.7,1071.4 919.7,1078.4 920.7,1091.6 921.7,1098.2 922.7,1103.4 923.7,1112.8 924.7,1124.8 925.7,1125.5 926.7,1125.6 927.7,1125.7 928.7,1125.8 929.7,1125.8 930.7,1123.2 931.7,1118.6 932.7,1113.9 933.7,1110.0 934.7,1107.8 935.7,1107.2 936.7,1115.2 937.7,1123.2 938.7,1132.3 939.7,1141.5 939.7,1143.3 938.7,1142.5 937.7,1141.7 936.7,1141.0 935.7,1140.2 934.7,1140.3 933.7,1140.5 932.7,1140.8 931.7,1141.3 930.7,1141.7 929.7,1141.9 928.7,1141.8 927.7,1141.4 926.7,1141.1 925.7,1140.8 924.7,1140.4 923.7,1139.0 922.7,1134.4 921.7,1128.3 920.7,1127.0 919.7,1125.0 918.7,1123.6 917.7,1110.5 916.7,1088.5 915.7,1086.5 914.7,1085.2 913.7,1082.4 912.7,1077.3 911.7,1072.6 910.7,1067.9 909.7,1065.4 908.7,1062.7 907.7,1059.9 906.7,1056.7 905.7,1053.5 904.7,1050.1 903.7,1045.9 902.7,1043.5 901.7,1041.9 900.7,1041.0 899.7,1039.5 898.7,1048.4 897.7,1053.9 896.7,1053.7 895.7,1051.4 894.7,1051.0 893.7,1039.9 892.7,1007.6 891.7,1007.6 890.7,1007.4 889.7,1007.1 888.7,1016.4 887.7,1031.2 886.7,1031.2 885.7,1030.9 884.7,1027.9 883.7,1012.9 882.7,998.2 881.7,1017.9 880.7,1021.3 879.7,1021.8 878.7,1022.9 877.7,1024.0 876.7,1024.9 875.7,1025.7 874.7,1026.5 873.7,1027.4 872.7,1132.1" fill="#FF0000" stroke="#FF0000" stroke-width="1.0" stroke-linejoin="round"/>
<polyline points="872.7,1000.0 873.6,1030.1 874.5,974.0 875.4,1023.1 876.3,953.2 877.2,1024.5 878.1,941.0 879.0,1020.3 879.9,918.7 880.8,1019.4 881.7,906.4 882.6,995.0 883.5,928.2 884.4,1030.0 885.3,958.9 886.2,1032.5 887.1,960.9 888.0,1035.9 888.9,966.6 889.8,1006.6 890.7,964.6 891.6,1008.2 892.5,971.6 893.4,1024.6 894.3,972.0 895.2,1049.1 896.1,984.9 897.0,1056.5 897.9,1000.6 898.8,1048.1 899.7,1003.6 900.6,1042.4 901.5,989.8 902.4,1045.6 903.3,987.9 904.2,1050.8 905.1,1003.6 906.0,1055.0 906.9,1003.4 907.8,1060.9 908.7,1010.9 909.6,1062.4 910.5,1015.8 911.4,1068.5 912.3,1017.7 913.2,1083.0 914.1,1030.6 915.0,1088.4 915.9,1044.5 916.8,1093.6 917.7,1057.5 918.6,1120.1 919.5,1064.8 920.4,1127.9 921.3,1089.6 922.2,1131.2 923.1,1100.5 924.0,1140.1 924.9,1121.3 925.8,1140.1 926.7,1122.7 927.6,1142.9 928.5,1123.7 929.4,1141.5 930.3,1121.2 931.2,1141.3 932.1,1113.9 933.0,1141.6 933.9,1102.8 934.8,1141.9 935.7,1100.8 936.6,1140.5 937.5,1118.5 938.4,1141.5 939.3,1136.4" fill="none" stroke="#FF0000" stroke-width="3.0" stroke-linejoin="round" stroke-linecap="round" />
</g>
</g>
<g id="pD">
<line x1="201.6" y1="1279.4" x2="201.6" y2="1578.7" stroke="#000" stroke-width="6"/>
<line x1="201.6" y1="1578.7" x2="213.2" y2="1578.7" stroke="#000" stroke-width="5.6"/>
<line x1="201.6" y1="1478.9" x2="213.2" y2="1478.9" stroke="#000" stroke-width="5.6"/>
<line x1="201.6" y1="1379.2" x2="213.2" y2="1379.2" stroke="#000" stroke-width="5.6"/>
<line x1="201.6" y1="1279.4" x2="213.2" y2="1279.4" stroke="#000" stroke-width="5.6"/>
<line x1="1268.7" y1="1279.4" x2="1268.7" y2="1578.7" stroke="#f00" stroke-width="5.8"/>
<line x1="1256.3" y1="1578.7" x2="1268.7" y2="1578.7" stroke="#f00" stroke-width="5.6"/>
<line x1="1256.3" y1="1279.4" x2="1268.7" y2="1279.4" stroke="#f00" stroke-width="5.6"/>
<g clip-path="url(#cD)">
<polyline points="205.2,1578.7 205.2,1479.5" fill="none" stroke="#000" stroke-width="4.2" stroke-linejoin="round" stroke-linecap="round" />
<circle cx="600.5" cy="1574.5" r="3.2" fill="#000"/>
<circle cx="473.8" cy="1576.0" r="2.0" fill="#000"/>
<polyline points="636.8,1577.6 637.8,1574.6 638.9,1570.9 640.0,1564.4 641.1,1557.8 642.2,1550.3 643.2,1543.0 644.3,1537.4 645.4,1531.9 646.5,1528.4 647.6,1525.1 648.6,1522.4 649.7,1520.7 650.8,1518.2 651.9,1516.7 652.9,1516.1 654.0,1515.4 655.1,1514.6 656.2,1514.4 657.3,1513.1 658.3,1512.5 659.4,1513.1 660.5,1512.9 661.6,1512.9 662.7,1511.2 663.7,1509.7 664.8,1508.3 665.9,1507.4 667.0,1505.8 668.1,1504.9 669.1,1502.2 670.2,1499.5 671.3,1497.3 672.4,1494.2 673.5,1492.3 674.5,1490.9 675.6,1489.6 676.7,1487.5 678.1,1485.7 679.5,1483.1 680.8,1482.5 682.1,1482.1 683.2,1485.8 684.2,1488.6 685.5,1486.3 686.8,1484.2 688.2,1483.7 689.6,1483.5 690.7,1484.3 691.8,1485.2 692.9,1485.8 694.2,1484.5 695.5,1483.8 696.8,1482.1 697.8,1484.2 698.8,1485.1 699.8,1486.5 701.2,1487.9 702.6,1489.0 703.7,1489.7 704.7,1490.5 705.8,1492.2 707.1,1490.1 708.4,1487.7 709.5,1489.3 710.6,1489.6 711.7,1486.9 712.7,1484.7 713.8,1488.0 714.9,1492.1 716.3,1492.7 717.7,1492.9 718.8,1488.4 719.9,1484.3 720.9,1485.1 722.0,1485.6 723.1,1491.4 724.2,1496.3 725.6,1495.2 727.0,1493.1 728.3,1495.7 729.6,1498.4 730.6,1499.7 731.7,1501.8 732.8,1503.1 733.9,1503.5 735.0,1503.5 736.0,1504.2 737.1,1501.6 738.2,1499.6 739.7,1490.0 741.5,1484.8 743.2,1490.2 745.1,1499.2 746.4,1497.1 747.7,1495.9 748.7,1495.4 749.8,1494.3 750.9,1493.3 751.9,1494.0 753.0,1493.9 754.0,1493.9 755.0,1494.2 756.1,1495.0 757.1,1495.2 758.2,1495.5 759.2,1495.3 760.3,1495.3 761.4,1495.7 762.5,1496.3 763.6,1496.9 764.7,1496.6 765.8,1497.8 766.9,1498.0 768.8,1498.5 770.7,1496.3 772.6,1500.5 773.7,1500.7 774.8,1501.4 775.8,1501.7 777.1,1502.3 778.4,1502.4 779.7,1503.2 781.0,1497.8 782.2,1487.8 783.5,1481.3 785.4,1479.8 786.6,1481.1 787.7,1482.2 788.9,1484.2 790.0,1485.3 791.2,1486.5 792.5,1487.9 793.8,1489.4 795.0,1490.3 797.0,1495.2 798.2,1501.8 799.5,1507.3 801.4,1508.1 802.4,1506.6 803.5,1506.2 804.5,1504.8 805.5,1503.5 806.5,1503.0 807.5,1501.1 808.5,1500.4 808.9,1515.9 810.0,1517.8 811.1,1520.8 812.3,1523.0 813.4,1525.7 814.5,1527.7 815.7,1530.0 816.8,1532.6 817.9,1533.1 819.0,1534.9 820.2,1535.4 821.3,1536.7 822.4,1537.6 823.5,1539.5 824.6,1540.2 825.8,1541.5 827.7,1540.1 828.3,1533.8 830.2,1531.2 832.2,1530.3 833.4,1533.7 834.7,1545.3 836.0,1544.6 837.3,1544.6 839.2,1542.5 841.1,1541.9 842.4,1546.7 844.3,1548.0 845.6,1548.6 846.9,1548.4 848.8,1549.1 850.1,1555.6 851.4,1557.0 852.6,1558.0 853.9,1559.3 855.2,1559.9 856.5,1561.0 857.8,1561.2 859.0,1561.1 860.3,1562.0 862.2,1558.5 864.2,1561.3 866.1,1562.3 867.0,1566.6 868.6,1561.9 870.6,1563.2 871.8,1563.1 873.1,1563.8 875.0,1563.1 876.3,1565.6 878.2,1565.2 879.1,1565.2 880.6,1563.6 882.0,1561.7 883.5,1561.4 884.9,1560.4 886.3,1560.6 887.8,1561.9 889.2,1562.5 890.6,1563.2 892.1,1563.9 893.5,1564.2 895.0,1565.8 896.4,1566.4 897.8,1567.0 899.3,1568.4 900.7,1569.3 902.2,1571.0 903.9,1568.3 905.3,1568.1 906.8,1568.1 908.2,1569.0 909.6,1568.8 911.1,1569.4 912.5,1569.3 913.7,1568.1 914.8,1565.8 915.9,1568.4 916.9,1570.1 918.8,1576.0 920.0,1576.0 921.2,1575.8 922.3,1572.9 923.5,1570.2 924.6,1570.5 925.8,1571.0 927.2,1571.3 928.6,1570.7 930.1,1570.2 931.5,1569.5 932.7,1570.9 933.8,1572.9 935.3,1574.4 936.7,1575.4 937.8,1575.6 939.0,1575.0 940.1,1574.2 941.3,1572.9 942.4,1573.9 943.6,1575.0 944.7,1575.4 945.9,1576.3 947.3,1576.0 948.8,1575.6 950.5,1576.3" fill="none" stroke="#000" stroke-width="4.4" stroke-linejoin="round" stroke-linecap="round" />
<polyline points="204.0,1346.3 204.2,1441.3 206.2,1441.5 207.3,1442.2 208.3,1442.1 209.4,1443.8 210.5,1443.6 211.6,1445.0 212.7,1445.0 213.7,1444.9 214.8,1446.8 215.9,1448.2 217.0,1448.9 218.1,1450.6 219.1,1451.5 220.2,1452.7 221.3,1454.3 222.4,1455.8 223.5,1457.9 224.5,1456.4 225.6,1454.3 226.7,1452.9 227.8,1450.1 228.8,1450.2 229.9,1451.9 231.0,1451.8 232.1,1451.3 233.2,1451.5 234.2,1450.7 235.3,1449.8 236.4,1450.4 237.5,1450.1 238.6,1451.6 239.6,1450.8 240.7,1451.7 241.8,1449.9 242.9,1449.6 244.0,1450.4 245.0,1449.5 246.1,1449.8 247.2,1449.1 248.3,1449.4 249.4,1448.4 250.4,1447.7 251.5,1447.1 252.6,1448.6 253.7,1448.9 254.7,1449.7 255.8,1448.1 256.9,1447.8 258.0,1448.1 259.4,1446.7 260.8,1443.3 262.1,1445.5 263.4,1446.9 264.5,1447.0 265.5,1447.7 266.6,1446.8 268.0,1444.1 269.4,1439.8 270.7,1441.3 272.0,1443.1 273.1,1444.9 274.2,1444.3 275.3,1446.7 276.3,1446.5 277.4,1448.2 278.5,1448.3 279.6,1448.8 280.6,1450.4 281.7,1450.1 282.8,1451.0 283.9,1450.6 285.0,1450.6 286.0,1449.8 287.1,1447.4 288.2,1448.4 289.3,1447.6 290.4,1447.9 291.4,1447.1 292.5,1446.8 293.6,1446.0 294.7,1447.6 295.8,1448.7 296.8,1449.0 297.9,1449.9 299.0,1449.6 300.1,1451.2 301.2,1451.6 302.2,1451.8 303.3,1453.4 304.4,1452.9 305.5,1451.1 306.5,1449.8 307.6,1448.5 308.7,1447.9 309.8,1449.1 310.9,1448.6 311.9,1449.9 313.0,1449.5 314.1,1449.0 315.2,1448.1 316.3,1447.8 317.3,1447.6 318.4,1448.4 319.5,1449.9 320.6,1449.9 321.7,1451.3 322.7,1450.7 323.8,1452.0 324.9,1450.5 326.0,1449.5 327.1,1449.5 328.1,1448.7 329.2,1448.2 330.3,1448.6 331.4,1447.5 332.8,1445.7 334.2,1443.3 335.5,1444.8 336.8,1446.7 337.8,1448.2 338.9,1448.3 340.0,1448.5 341.1,1446.8 342.2,1445.6 343.2,1445.0 344.3,1444.9 345.4,1446.5 346.5,1446.7 347.6,1447.2 348.6,1446.4 349.7,1446.2 350.8,1443.9 351.9,1443.1 352.9,1442.4 354.0,1441.7 355.1,1441.7 356.2,1441.0 357.3,1439.7 358.3,1438.8 359.4,1439.9 360.5,1442.0 361.6,1440.6 362.7,1437.6 363.7,1436.3 364.8,1436.7 365.9,1438.6 367.0,1442.4 368.1,1442.8 369.1,1443.0 370.2,1444.9 371.3,1445.4 372.4,1445.5 373.5,1445.1 374.5,1446.2 375.6,1445.2 376.7,1444.9 377.8,1443.5 378.8,1445.5 379.9,1444.7 381.0,1445.9 382.1,1447.2 383.2,1447.4 384.2,1447.8 385.3,1449.6 386.4,1450.4 387.5,1450.2 388.6,1450.6 389.6,1451.8 390.7,1451.0 391.8,1451.1 392.9,1451.5 394.0,1450.9 395.0,1449.6 396.1,1448.8 397.2,1448.9 398.5,1448.4 399.8,1446.4 401.2,1446.7 402.6,1448.9 403.7,1449.1 404.7,1448.8 405.8,1450.0 406.9,1449.9 408.0,1449.9 409.1,1448.4 410.1,1448.6 411.2,1450.2 412.3,1451.0 413.4,1447.1 414.5,1444.5 415.5,1440.9 416.6,1441.5 417.7,1441.4 418.8,1440.9 419.9,1441.3 420.9,1439.1 422.0,1440.0 423.1,1439.4 424.2,1438.0 425.3,1438.1 426.3,1437.6 427.4,1438.7 428.5,1439.5 429.6,1439.4 430.6,1439.7 431.7,1438.7 432.8,1438.9 433.9,1439.7 435.0,1442.5 436.0,1443.0 437.1,1440.8 438.2,1439.8 439.3,1439.7 440.4,1438.4 441.4,1439.3 442.5,1439.3 443.6,1441.2 444.7,1441.0 445.8,1439.5 446.8,1439.7 447.9,1439.7 449.0,1439.9 450.1,1441.3 451.2,1443.3 452.2,1445.2 453.3,1446.6 454.4,1446.5 455.5,1446.5 456.5,1445.4 457.6,1444.2 458.7,1443.9 459.8,1444.6 460.9,1443.8 461.9,1443.9 463.0,1443.5 464.1,1442.7 465.2,1443.2 466.3,1443.0 467.3,1443.2 468.4,1443.8 469.5,1444.5 470.6,1440.9 471.7,1436.7 472.7,1435.5 473.8,1434.8 474.9,1439.7 476.0,1444.5 477.1,1445.3 478.1,1444.9 479.2,1446.1 480.3,1445.0 481.4,1445.3 482.4,1444.5 483.5,1443.7 484.6,1442.8 485.7,1441.5 486.8,1441.7 488.2,1442.6 489.6,1443.8 490.0,1443.7 491.1,1444.1 492.2,1445.1 493.2,1445.8 494.3,1445.6 495.4,1446.5 496.5,1445.9 497.6,1446.8 498.6,1447.2 499.7,1445.7 500.8,1444.5 501.9,1443.7 502.9,1444.5 504.0,1444.0 505.1,1444.9 506.2,1445.1 507.3,1444.3 508.3,1443.6 509.4,1442.4 510.5,1441.2 511.6,1439.4 512.7,1439.2 513.7,1440.2 514.8,1440.0 515.9,1441.7 517.0,1441.1 518.1,1441.1 519.1,1441.4 520.2,1440.5 521.3,1439.5 522.4,1439.6 523.5,1439.0 524.5,1439.8 525.6,1440.7 526.7,1440.9 527.8,1441.4 528.8,1442.2 529.9,1443.2 531.0,1444.4 532.1,1445.6 533.2,1445.9 534.2,1444.2 535.3,1441.2 536.4,1439.1 537.5,1439.4 538.6,1441.2 539.6,1440.6 540.7,1439.3 541.8,1438.6 542.9,1438.5 544.0,1437.3 545.0,1434.9 546.1,1434.1 547.2,1435.9 548.3,1436.5 549.4,1437.8 550.4,1439.1 551.5,1438.8 552.6,1439.2 553.7,1440.0 554.7,1438.9 555.8,1438.6 556.9,1439.9 558.0,1440.3 559.1,1441.3 560.1,1442.1 561.2,1442.6 562.3,1442.4 563.4,1443.8 564.5,1444.2 565.5,1443.3 566.6,1443.6 567.7,1444.5 568.8,1444.5 569.9,1445.0 570.9,1446.9 572.0,1445.8 573.1,1444.1 574.2,1443.2 575.3,1442.7 576.3,1441.4 577.4,1438.9 578.5,1438.5 579.6,1437.7 580.6,1436.4 581.7,1435.5 582.8,1435.8 583.9,1436.7 585.0,1436.9 586.0,1437.0 587.1,1436.0 588.2,1435.9 589.3,1435.8 590.4,1435.8 591.4,1436.2 592.5,1437.7 593.6,1436.8 594.7,1438.5 595.8,1437.2 596.8,1438.0 597.9,1436.7 599.0,1431.7 600.4,1431.3 601.8,1431.1 603.3,1439.4 604.4,1441.2 605.5,1441.6 606.5,1443.7 607.6,1444.5 608.7,1446.5 609.8,1445.8 610.9,1447.7 611.9,1446.5 613.0,1446.6 614.1,1445.9 615.2,1445.9 616.3,1445.0 617.3,1444.4 618.4,1445.1 619.5,1443.8 620.6,1444.3 621.7,1446.1 622.7,1446.6 623.8,1448.2 624.9,1448.3 626.0,1450.4 627.1,1451.3 628.1,1452.7 629.2,1454.0 630.3,1455.6 631.4,1457.8 632.4,1459.6 633.5,1461.5 634.6,1462.8 635.7,1465.2 637.1,1462.9 638.5,1460.7 639.6,1411.1 640.6,1350.7 642.2,1343.1 643.7,1361.4 645.0,1349.9 646.5,1355.0 648.0,1389.5 649.7,1432.7 651.4,1460.6 652.7,1465.8 654.0,1470.5 655.1,1471.5 656.2,1472.5 657.3,1475.2 658.3,1474.9 659.4,1474.7 660.5,1476.0 661.6,1474.8 662.7,1473.3 663.7,1472.4 664.8,1471.1 665.9,1468.1 667.0,1467.0 668.1,1466.5 669.1,1466.4 670.2,1467.2 671.7,1411.1 672.4,1273.1 673.5,1273.3 674.5,1272.9 675.2,1411.1 676.0,1437.0 677.3,1426.2 678.8,1443.4 679.9,1447.3 681.0,1449.8 682.1,1450.9 683.2,1450.6 684.2,1452.6 685.3,1455.8 686.4,1453.0 687.5,1450.1 688.6,1453.2 689.6,1456.4 690.7,1456.9 691.8,1457.9 692.9,1459.8 694.0,1459.3 695.0,1457.7 696.1,1457.6 697.2,1457.2 698.3,1458.4 699.4,1458.2 700.4,1457.8 701.5,1456.6 702.6,1456.2 703.7,1455.0 704.7,1456.4 705.8,1457.7 706.9,1458.2 708.0,1456.8 709.1,1456.0 710.1,1454.3 711.2,1456.6 712.3,1459.1 713.4,1460.8 714.5,1461.3 715.5,1462.8 716.6,1459.7 717.7,1455.4 719.1,1450.4 720.5,1444.4 721.6,1447.1 722.7,1450.4 723.7,1447.3 724.8,1443.6 725.9,1440.5 727.0,1439.2 728.2,1438.4 729.4,1440.2 730.6,1440.0 731.7,1439.7 732.8,1438.6 733.9,1439.0 735.0,1439.0 736.0,1441.1 737.1,1441.3 738.2,1441.5 739.3,1443.8 740.0,1446.6 741.3,1435.4 743.2,1433.4 744.5,1433.9 745.8,1440.6 747.7,1448.9 749.6,1453.4 751.5,1454.2 752.8,1452.6 754.1,1452.3 755.4,1451.3 756.6,1443.3 757.9,1436.4 759.2,1419.8 760.5,1436.4 762.4,1449.0 763.5,1449.2 764.5,1450.9 765.6,1450.9 767.5,1451.5 769.4,1452.9 770.7,1448.5 772.6,1447.6 773.9,1446.9 775.2,1447.7 776.5,1448.5 777.8,1448.8 779.0,1451.5 780.3,1453.0 781.2,1446.6 782.2,1398.0 782.9,1375.1 784.2,1374.3 784.8,1398.0 785.1,1446.8 786.2,1453.0 787.4,1459.7 788.4,1461.5 789.5,1463.1 790.6,1466.3 792.5,1465.6 794.4,1462.2 796.3,1457.2 798.2,1450.2 800.2,1448.7 802.1,1446.5 804.0,1443.8 805.5,1440.2 806.6,1431.7 807.8,1429.9 809.1,1437.7 810.4,1435.1 811.7,1432.1 813.0,1432.8 814.0,1436.4 814.9,1443.2 816.2,1440.1 817.2,1438.0 818.3,1436.5 819.4,1435.3 820.4,1433.9 821.5,1432.0 822.6,1430.7 824.5,1431.6 825.8,1432.7 827.0,1431.9 828.3,1427.4 829.6,1420.0 831.5,1414.4 832.8,1413.6 834.1,1419.0 835.4,1420.1 836.3,1414.3 837.4,1413.3 838.6,1412.8 840.5,1410.8 842.4,1413.9 843.7,1414.5 845.0,1414.4 846.2,1413.6 847.5,1412.2 849.4,1416.2 851.4,1409.9 853.3,1416.2 855.2,1416.0 856.5,1414.8 857.8,1413.5 859.0,1410.4 860.3,1409.1 861.6,1406.6 862.9,1405.4 864.8,1407.2 866.7,1411.0 868.0,1413.0 869.3,1410.8 869.5,1372.4 869.9,1325.5 871.2,1324.4 872.5,1359.6 874.4,1385.2 876.3,1404.4 878.2,1418.1 880.0,1418.9 881.4,1417.8 882.8,1415.2 883.7,1406.8 885.5,1405.1 886.6,1404.1 887.8,1402.2 888.9,1401.6 890.1,1400.8 891.8,1397.9 892.7,1391.6 894.7,1390.8 896.4,1391.7 898.1,1389.1 899.9,1387.3 901.0,1387.3 902.2,1389.0 903.3,1386.8 904.5,1384.7 905.6,1382.1 906.8,1380.9 907.9,1381.4 909.1,1383.2 910.5,1383.3 911.9,1384.7 913.1,1383.8 914.2,1382.3 915.4,1383.5 916.5,1384.3 917.7,1387.5 918.8,1390.0 920.6,1393.0 921.7,1392.5 922.9,1391.8 924.0,1388.8 925.2,1387.9 926.3,1387.7 927.5,1386.0 928.6,1385.6 929.8,1385.4 931.5,1380.4 932.7,1381.3 933.8,1383.5 935.0,1384.2 936.1,1385.6 937.3,1387.5 938.4,1389.2 939.9,1389.0 941.3,1387.8 942.4,1389.1 943.6,1391.9 944.7,1392.4 945.9,1394.3 947.1,1393.7 948.2,1394.6 949.4,1393.8 950.5,1392.2" fill="none" stroke="#00B0F0" stroke-width="5.0" stroke-linejoin="round" stroke-linecap="round" />
<polygon points="749.6,1577.8 749.6,1549.0 752.4,1549.0 752.8,1279.6 756.6,1279.6 757.4,1359.6 758.2,1423.6 759.2,1455.6 761.1,1399.3 764.1,1399.3 765.0,1455.6 766.2,1487.6 767.1,1526.0 767.5,1549.0 770.5,1549.0 770.7,1577.8 758.2,1577.8 757.9,1552.9 754.8,1552.9 754.8,1577.8" fill="#FF0000" stroke="#FF0000" stroke-width="2.4" stroke-linejoin="round"/>
<polygon points="781.0,1577.8 781.2,1549.0 785.1,1549.0 785.8,1462.0 786.3,1369.8 789.9,1369.2 790.7,1423.6 791.2,1487.6 794.8,1488.2 795.6,1526.0 795.8,1549.0 796.3,1577.8 790.6,1577.8 790.3,1552.9 788.4,1552.9 788.1,1577.8" fill="#FF0000" stroke="#FF0000" stroke-width="2.4" stroke-linejoin="round"/>
<polygon points="796.6,1577.8 797.0,1549.0 800.2,1549.0 800.7,1519.0 802.7,1518.3 803.1,1488.2 806.6,1487.6 807.1,1511.9 809.9,1511.9 810.4,1488.2 816.5,1487.6 817.1,1399.3 820.6,1398.6 821.7,1449.2 823.5,1487.6 824.5,1526.0 825.0,1549.0 828.6,1549.0 829.0,1577.8 821.7,1577.8 821.4,1552.9 819.1,1552.9 818.8,1577.8 814.5,1577.8 814.2,1552.9 811.9,1552.9 811.7,1577.8" fill="#FF0000" stroke="#FF0000" stroke-width="2.4" stroke-linejoin="round"/>
<rect x="754.7" y="1551.0" width="3.2" height="26.2" fill="#fff"/>
<rect x="788.0" y="1551.0" width="2.6" height="26.2" fill="#fff"/>
<rect x="795.9" y="1551.0" width="1.0" height="26.2" fill="#fff"/>
<rect x="811.7" y="1551.0" width="2.6" height="26.2" fill="#fff"/>
<rect x="818.7" y="1551.0" width="2.6" height="26.2" fill="#fff"/>
<line x1="842.1" y1="1578.7" x2="842.1" y2="1550.3" stroke="#f00" stroke-width="3.4" stroke-linecap="round"/>
<line x1="850.7" y1="1578.7" x2="850.7" y2="1550.3" stroke="#f00" stroke-width="3.4" stroke-linecap="round"/>
<line x1="203.3" y1="1578.7" x2="950.5" y2="1578.7" stroke="#f00" stroke-width="3.9" stroke-linecap="round"/>
<line x1="369.8" y1="1578.7" x2="369.8" y2="1548.1" stroke="#f00" stroke-width="3.9" stroke-linecap="round"/>
</g>
<line x1="610.9" y1="1495.3" x2="610.9" y2="1533.0" stroke="#000" stroke-width="5.4"/><polygon points="596.0,1531.0 625.8,1531.0 610.9,1559.0" fill="#000"/>
</g>
<g id="pE">
<line x1="201.6" y1="1674.6" x2="201.6" y2="1975.3" stroke="#000" stroke-width="6"/>
<line x1="201.6" y1="1975.3" x2="213.2" y2="1975.3" stroke="#000" stroke-width="5.6"/>
<line x1="201.6" y1="1875.1" x2="213.2" y2="1875.1" stroke="#000" stroke-width="5.6"/>
<line x1="201.6" y1="1774.8" x2="213.2" y2="1774.8" stroke="#000" stroke-width="5.6"/>
<line x1="201.6" y1="1674.6" x2="213.2" y2="1674.6" stroke="#000" stroke-width="5.6"/>
<line x1="1268.7" y1="1674.6" x2="1268.7" y2="1975.3" stroke="#f00" stroke-width="5.8"/>
<line x1="1256.3" y1="1975.3" x2="1268.7" y2="1975.3" stroke="#f00" stroke-width="5.6"/>
<line x1="1256.3" y1="1900.1" x2="1268.7" y2="1900.1" stroke="#f00" stroke-width="5.6"/>
<line x1="1256.3" y1="1824.9" x2="1268.7" y2="1824.9" stroke="#f00" stroke-width="5.6"/>
<line x1="1256.3" y1="1749.8" x2="1268.7" y2="1749.8" stroke="#f00" stroke-width="5.6"/>
<line x1="1256.3" y1="1674.6" x2="1268.7" y2="1674.6" stroke="#f00" stroke-width="5.6"/>
<g clip-path="url(#cE)">
<polyline points="595.8,1974.9 596.8,1972.4 597.9,1970.2 599.0,1968.8 600.1,1964.2 601.2,1960.2 602.2,1954.5 603.3,1949.1 604.4,1942.3 605.5,1936.3 606.5,1928.7 607.6,1921.1 608.7,1917.9 609.8,1914.8 610.9,1912.8 611.9,1910.3 613.0,1907.2 614.1,1904.5 615.2,1901.9 616.3,1899.1 617.3,1896.9 618.4,1894.2 619.4,1894.4 620.5,1894.8 621.5,1894.9 622.8,1892.6 624.0,1890.2 625.0,1888.2 626.0,1887.2 627.0,1886.2 628.0,1884.5 629.0,1881.8 630.5,1881.6 631.5,1883.4 632.5,1885.2 633.8,1886.2 635.0,1887.3 636.0,1887.0 637.0,1887.0 638.0,1886.6 639.0,1886.0 640.0,1886.1 641.0,1886.3 642.0,1886.5 643.0,1886.0 644.0,1886.6 645.0,1886.7 646.0,1887.0 647.0,1887.5 648.0,1887.9 649.0,1889.1 650.0,1889.4 651.0,1890.5 652.0,1890.7 653.0,1891.5 654.0,1892.5 655.0,1892.4 656.0,1893.7 657.0,1893.6 658.0,1895.2 659.0,1894.9 660.0,1896.1 661.0,1896.6 662.0,1897.2 663.0,1898.1 664.0,1899.0 665.0,1899.7 666.0,1900.1 667.0,1901.3 668.0,1901.8 669.0,1903.2 670.0,1903.4 671.0,1904.2 672.0,1904.9 673.0,1906.6 674.1,1907.0 675.1,1908.4 676.2,1909.7 677.2,1910.4 678.3,1911.9 679.4,1912.5 680.4,1913.4 681.5,1914.4 682.5,1916.0 683.8,1918.4 685.0,1919.9 686.0,1921.9 687.0,1924.1 688.0,1925.8 689.0,1927.8 690.0,1928.7 691.0,1929.3 692.0,1930.2 693.5,1934.2 694.8,1934.5 696.0,1935.5 697.0,1935.6 698.0,1935.4 699.0,1936.0 700.0,1934.7 701.2,1937.9 702.9,1946.1 704.6,1954.2 706.3,1954.5 707.5,1954.2 708.6,1952.8 709.8,1952.2 710.9,1951.9 712.7,1953.3 713.8,1954.8 715.0,1956.2 716.1,1957.5 717.3,1958.5 718.4,1959.5 719.6,1960.9 721.3,1964.3 722.4,1965.2 723.6,1966.6 724.7,1967.4 725.9,1967.7 727.1,1968.5 728.2,1968.4 729.4,1968.2 730.5,1968.4 731.7,1968.3 732.8,1967.1 734.5,1965.2 735.9,1962.0 737.4,1963.5 739.1,1961.0 740.2,1959.4 741.2,1957.7 742.8,1954.5 743.7,1959.1 744.9,1965.7 746.6,1967.4 747.8,1968.6 748.9,1964.3 749.7,1961.0 751.2,1965.5 752.4,1961.0 753.5,1962.6 754.7,1960.5 756.4,1960.9 757.6,1958.6 758.9,1961.7 760.4,1964.3 762.2,1965.2 763.9,1965.6 765.6,1968.9 767.3,1972.3 769.1,1972.5 770.2,1969.6 771.4,1963.4 772.3,1959.2 773.7,1961.0 774.8,1969.1 775.4,1960.9 776.9,1958.1 777.7,1964.5 778.3,1973.1" fill="none" stroke="#000" stroke-width="4.4" stroke-linejoin="round" stroke-linecap="round" />
<polyline points="811.7,1973.1 812.2,1969.6 813.4,1969.1 814.2,1972.5" fill="none" stroke="#000" stroke-width="4.4" stroke-linejoin="round" stroke-linecap="round" />
<polyline points="815.1,1971.4 816.3,1967.9 818.0,1966.8 819.1,1970.2" fill="none" stroke="#000" stroke-width="4.4" stroke-linejoin="round" stroke-linecap="round" />
<polyline points="832.9,1971.1 834.1,1970.9" fill="none" stroke="#000" stroke-width="4.4" stroke-linejoin="round" stroke-linecap="round" />
<polyline points="202.9,1821.4 204.0,1824.4 205.1,1825.2 206.2,1828.7 207.3,1830.8 208.3,1832.0 209.4,1835.4 210.5,1834.6 211.6,1834.5 212.7,1833.3 213.7,1832.2 214.8,1832.5 215.9,1829.7 217.0,1828.8 218.1,1828.5 219.1,1826.8 220.2,1826.6 221.3,1826.4 222.4,1824.6 223.5,1824.1 224.5,1821.5 225.6,1821.0 226.7,1819.9 227.8,1819.1 228.8,1816.5 229.9,1815.7 231.0,1815.9 232.1,1814.6 233.2,1814.1 234.2,1813.5 235.3,1813.5 236.4,1813.3 237.5,1812.5 238.6,1811.4 239.6,1811.2 241.0,1807.9 242.4,1804.2 243.7,1808.9 245.0,1811.6 246.1,1811.2 247.2,1811.2 248.3,1809.4 249.4,1809.3 250.4,1806.9 251.5,1806.6 252.6,1804.9 253.7,1806.4 254.7,1806.8 255.8,1807.2 256.9,1805.5 258.0,1806.0 259.1,1804.6 260.1,1803.4 261.2,1802.8 262.3,1802.8 263.4,1804.7 264.5,1806.2 265.5,1807.0 266.6,1805.6 267.7,1805.2 268.8,1805.8 269.9,1804.6 270.9,1804.6 272.0,1804.1 273.1,1804.5 274.2,1806.6 275.3,1806.4 276.7,1803.8 278.1,1799.0 279.4,1803.3 280.6,1805.4 281.7,1805.9 282.8,1807.0 283.9,1806.9 285.0,1808.8 286.0,1807.3 287.1,1805.1 288.2,1805.7 289.3,1803.4 290.4,1803.8 291.4,1807.5 292.5,1807.5 293.6,1808.0 294.7,1808.1 295.8,1809.5 296.8,1808.3 297.9,1805.9 299.0,1803.5 300.1,1804.0 301.2,1805.2 302.2,1807.3 303.3,1805.7 304.4,1806.5 305.5,1805.1 306.9,1801.5 308.3,1800.7 309.3,1800.6 310.3,1803.7 311.3,1805.0 312.4,1805.8 313.6,1806.2 314.7,1807.1 315.8,1804.9 316.8,1804.7 317.8,1803.2 319.1,1806.2 320.4,1808.5 321.7,1812.4 322.7,1810.9 323.8,1810.0 324.9,1808.0 326.0,1808.8 327.1,1810.3 328.1,1810.4 329.2,1809.6 330.3,1808.5 331.4,1809.4 332.4,1807.7 333.5,1808.3 334.6,1810.3 335.7,1812.4 336.8,1813.2 337.8,1812.5 338.9,1812.4 340.0,1812.1 341.1,1810.7 342.2,1808.9 343.2,1809.6 344.3,1811.2 345.4,1810.9 346.5,1811.7 347.6,1811.8 348.6,1811.6 349.7,1809.6 350.8,1810.0 351.9,1809.4 352.9,1809.1 354.0,1810.2 355.1,1812.1 356.2,1812.3 357.3,1814.3 358.3,1815.0 359.4,1814.3 360.5,1814.8 361.6,1814.1 362.7,1812.7 363.7,1813.8 364.8,1812.5 365.9,1812.2 367.0,1813.1 368.1,1812.1 369.1,1813.2 370.2,1812.5 371.3,1813.2 372.4,1811.4 373.5,1811.5 375.2,1804.9 376.4,1805.2 377.6,1804.7 378.8,1805.4 379.9,1806.7 381.0,1807.6 382.1,1809.1 383.2,1808.6 384.2,1807.8 385.3,1808.0 386.4,1809.8 387.5,1808.6 388.6,1809.8 389.6,1809.1 390.7,1809.6 391.8,1809.7 392.9,1811.0 394.0,1811.3 395.0,1810.5 396.1,1810.6 397.2,1809.3 398.3,1808.0 399.4,1807.0 400.4,1804.5 401.5,1804.5 402.6,1804.8 403.7,1806.3 404.7,1806.2 405.8,1806.1 406.9,1805.0 408.0,1804.6 409.1,1805.2 410.1,1805.3 411.2,1807.6 412.3,1808.2 413.4,1807.8 414.5,1806.4 415.5,1807.3 416.6,1807.2 417.9,1809.5 419.2,1810.3 420.4,1807.1 421.5,1807.3 422.7,1804.8 423.9,1805.5 425.1,1808.5 426.3,1809.3 427.4,1809.1 428.5,1806.9 429.6,1806.9 430.6,1807.2 431.7,1807.7 432.8,1809.2 433.9,1806.0 435.0,1802.0 436.0,1799.3 437.1,1800.5 438.2,1799.9 439.3,1801.0 440.4,1800.4 441.4,1801.8 442.5,1799.9 443.6,1801.3 444.7,1800.4 445.8,1799.8 446.8,1798.7 447.9,1799.5 449.0,1800.2 450.1,1801.5 451.2,1801.7 452.2,1802.4 453.3,1803.2 454.4,1801.9 455.5,1802.3 456.5,1803.9 457.6,1802.2 458.7,1803.9 459.8,1802.1 460.9,1803.3 461.9,1803.4 463.0,1802.1 464.1,1802.5 465.2,1802.5 466.3,1803.8 467.3,1804.7 468.4,1805.9 469.5,1806.6 470.6,1805.5 471.7,1805.0 472.7,1802.8 473.8,1803.8 474.9,1802.4 476.0,1803.3 477.1,1803.4 478.1,1802.6 479.2,1803.2 480.3,1801.1 481.4,1801.4 482.4,1802.3 483.5,1803.0 484.6,1801.0 485.7,1802.2 487.0,1801.7 488.3,1802.1 489.6,1799.9 490.0,1800.7 491.1,1799.8 492.2,1799.9 493.2,1800.5 494.3,1798.7 495.4,1799.9 496.5,1800.5 497.6,1801.6 498.6,1803.3 499.7,1803.7 500.8,1803.2 501.9,1801.8 502.9,1802.8 504.0,1803.5 505.1,1803.7 506.2,1806.5 507.3,1807.1 508.3,1805.8 509.4,1807.3 510.5,1806.7 511.6,1805.4 512.7,1805.6 513.7,1808.7 514.8,1809.7 515.9,1809.5 517.0,1810.4 518.1,1810.2 519.1,1809.7 520.2,1809.9 521.3,1809.5 522.4,1809.6 523.5,1811.9 524.5,1813.2 525.6,1813.0 526.7,1811.5 527.8,1809.4 528.8,1807.2 529.9,1807.2 531.0,1806.8 532.1,1807.0 533.2,1807.9 534.2,1805.5 535.3,1805.8 536.4,1804.0 537.5,1804.3 538.6,1806.9 539.6,1808.0 540.7,1805.9 541.8,1806.4 542.9,1804.9 544.0,1805.6 545.0,1806.5 546.1,1808.7 547.2,1810.7 548.3,1811.0 549.4,1812.5 550.4,1809.5 551.5,1807.6 552.6,1806.6 553.7,1808.4 554.7,1807.4 555.8,1808.4 556.9,1809.2 558.0,1807.2 559.1,1808.0 560.1,1807.9 561.2,1809.4 562.3,1811.5 563.4,1812.6 564.5,1810.9 565.5,1809.9 566.6,1808.4 567.7,1808.0 568.8,1807.2 569.9,1808.0 570.9,1807.0 572.0,1807.2 573.1,1806.3 574.2,1806.4 575.3,1805.2 576.3,1806.1 577.4,1806.6 578.5,1807.6 579.6,1809.9 580.6,1810.0 581.7,1811.9 582.8,1814.2 583.9,1818.1 585.0,1819.9 586.0,1821.8 587.1,1823.7 588.2,1826.2 589.7,1839.1 591.4,1849.9 592.5,1853.9 593.6,1857.9 594.7,1858.7 595.8,1860.5 596.8,1862.4 598.2,1865.0 599.6,1867.5 600.7,1867.4 601.8,1869.3 603.3,1860.7 604.4,1847.7 606.1,1841.2 607.6,1838.1 608.7,1860.7 610.2,1832.7 611.3,1814.9 612.6,1812.2 613.5,1843.5 614.3,1875.8 615.2,1882.5 616.3,1879.7 617.3,1878.0 618.4,1875.6 619.5,1876.1 620.6,1876.5 621.7,1876.9 622.0,1874.5 623.5,1876.0 624.8,1874.9 626.0,1875.1 627.0,1873.0 628.0,1874.2 629.0,1872.7 630.0,1873.1 631.0,1871.6 632.0,1872.1 633.0,1870.5 634.0,1872.7 635.0,1872.4 636.0,1872.0 637.0,1873.5 638.0,1872.7 639.0,1874.1 640.0,1874.0 641.0,1873.8 642.0,1873.3 643.0,1874.7 644.0,1874.6 645.0,1873.0 646.0,1875.1 647.0,1873.7 648.0,1874.0 649.0,1874.4 650.0,1874.3 651.0,1874.7 652.0,1874.5 653.0,1873.4 654.0,1872.4 655.0,1871.4 656.0,1871.5 657.0,1871.7 658.0,1871.5 659.0,1870.9 660.0,1871.2 661.0,1868.8 662.0,1867.8 663.0,1867.7 664.0,1867.0 665.0,1868.8 666.0,1867.9 667.0,1867.7 668.0,1867.3 669.0,1866.8 670.0,1866.9 671.0,1867.2 672.0,1867.0 673.0,1868.2 674.0,1867.1 675.0,1864.8 676.0,1863.5 677.0,1862.8 678.0,1862.8 679.0,1863.5 680.0,1863.3 681.0,1861.7 682.0,1861.2 683.0,1858.9 684.0,1858.1 685.0,1857.0 686.0,1853.4 687.0,1851.5 688.0,1850.4 689.0,1848.2 690.0,1846.7 691.0,1846.5 692.0,1847.8 693.0,1847.8 694.0,1845.0 695.0,1844.1 696.0,1842.4 697.0,1840.0 698.5,1830.0 699.0,1810.0 699.5,1787.4 701.0,1788.0 701.8,1810.0 703.0,1830.0 704.5,1841.9 706.3,1836.4 708.1,1830.6 709.2,1828.4 710.4,1827.9 711.5,1820.5 712.7,1820.5 713.8,1819.2 715.0,1820.4 716.1,1820.1 717.6,1819.5 719.0,1818.1 720.1,1816.7 721.3,1814.4 722.4,1814.2 723.6,1811.6 725.0,1811.2 726.5,1811.0 728.2,1806.9 729.4,1806.7 730.5,1806.4 731.9,1806.7 733.4,1804.5 734.5,1803.8 735.7,1802.7 736.6,1795.3 737.1,1785.2 738.1,1784.1 739.1,1784.0 740.5,1780.5 741.7,1777.7 742.8,1777.4 744.0,1785.3 745.5,1786.9 747.2,1785.6 748.3,1781.4 748.9,1775.7 750.6,1774.4 752.0,1773.4 752.9,1767.6 754.1,1769.4 755.3,1768.2 757.0,1768.3 758.7,1770.9 759.9,1774.9 761.0,1778.9 762.7,1779.9 764.2,1781.1 765.6,1780.6 767.1,1781.0 768.5,1780.3 769.6,1778.3 770.8,1778.6 771.6,1769.6 772.5,1767.6 774.2,1766.5 775.4,1764.5 776.5,1763.6 777.4,1769.1 778.5,1771.8 779.4,1774.5 780.6,1776.2 781.7,1777.0 782.9,1777.6 784.0,1779.8 785.2,1780.2 786.3,1780.6 787.5,1779.7 788.6,1780.3 789.8,1780.3 790.9,1780.4 792.7,1783.6 793.8,1785.4 795.0,1786.1 796.1,1784.7 797.3,1785.2 798.4,1783.1 799.6,1783.5 801.1,1781.6 802.4,1783.3 804.2,1785.2 805.3,1786.1 806.5,1786.3 807.6,1786.4 808.8,1784.8 809.9,1783.2 811.1,1783.5 812.6,1781.4 813.0,1774.6 814.2,1778.8 815.7,1782.0 817.2,1778.5 818.0,1773.4 819.7,1773.2 820.9,1773.7 822.6,1777.6 824.3,1782.5 826.0,1783.6 827.8,1783.7 828.9,1785.7 830.1,1785.2 831.2,1784.6 832.4,1786.0 833.3,1778.6 834.1,1784.5 835.8,1786.2 837.0,1785.7 838.1,1785.0 839.3,1785.6 840.4,1786.9 841.9,1788.0 843.3,1788.3" fill="none" stroke="#00B0F0" stroke-width="5.0" stroke-linejoin="round" stroke-linecap="round" />
<line x1="203.3" y1="1975.3" x2="843.5" y2="1975.3" stroke="#f00" stroke-width="3.9" stroke-linecap="round"/>
<line x1="210.9" y1="1975.3" x2="210.9" y2="1967.3" stroke="#f00" stroke-width="3.9" stroke-linecap="round"/>
<line x1="267.1" y1="1975.3" x2="267.1" y2="1967.3" stroke="#f00" stroke-width="3.9" stroke-linecap="round"/>
<line x1="326.0" y1="1975.3" x2="326.0" y2="1967.3" stroke="#f00" stroke-width="3.9" stroke-linecap="round"/>
<line x1="343.2" y1="1975.3" x2="343.2" y2="1967.3" stroke="#f00" stroke-width="3.9" stroke-linecap="round"/>
<line x1="360.5" y1="1975.3" x2="360.5" y2="1967.3" stroke="#f00" stroke-width="3.9" stroke-linecap="round"/>
<line x1="428.5" y1="1975.3" x2="428.5" y2="1967.3" stroke="#f00" stroke-width="3.9" stroke-linecap="round"/>
<line x1="486.8" y1="1975.3" x2="486.8" y2="1967.3" stroke="#f00" stroke-width="3.9" stroke-linecap="round"/>
<line x1="703.2" y1="1975.3" x2="703.2" y2="1967.3" stroke="#f00" stroke-width="3.9" stroke-linecap="round"/>
<line x1="703.8" y1="1975.3" x2="703.8" y2="1967.3" stroke="#f00" stroke-width="3.9" stroke-linecap="round"/>
<line x1="781.7" y1="1975.3" x2="781.7" y2="1967.3" stroke="#f00" stroke-width="3.9" stroke-linecap="round"/>
<line x1="820.9" y1="1975.3" x2="820.9" y2="1967.3" stroke="#f00" stroke-width="3.9" stroke-linecap="round"/>
<line x1="828.3" y1="1975.3" x2="828.3" y2="1967.3" stroke="#f00" stroke-width="3.9" stroke-linecap="round"/>
<line x1="703.8" y1="1975.3" x2="703.8" y2="1967.3" stroke="#f00" stroke-width="3.9" stroke-linecap="round"/>
<polygon points="633.0,1975.0 633.5,1960.0 634.5,1945.0 636.5,1944.0 637.5,1938.0 639.0,1936.0 640.0,1900.0 641.0,1870.0 642.5,1869.0 643.5,1890.0 645.0,1902.0 646.5,1919.0 648.0,1890.0 648.5,1880.0 650.0,1820.0 651.0,1757.0 654.0,1756.5 655.0,1810.0 655.5,1860.0 655.8,1882.0 658.5,1883.0 659.5,1877.0 662.5,1875.0 663.5,1830.0 664.0,1771.0 666.5,1770.5 667.5,1810.0 668.5,1839.0 672.0,1839.0 673.0,1860.0 674.0,1889.0 675.5,1889.0 676.5,1847.0 680.0,1846.5 680.5,1875.0 682.0,1877.0 683.0,1910.0 684.0,1940.0 685.0,1952.0 686.0,1965.0 691.0,1965.5 692.0,1975.0 685.0,1975.0 684.0,1969.0 681.0,1968.0 680.0,1954.0 676.5,1954.0 675.5,1960.0 674.0,1961.0 672.5,1961.0 671.5,1950.0 670.5,1939.0 667.0,1939.0 666.0,1950.0 664.5,1968.0 659.0,1968.0 658.5,1955.0 657.2,1955.0 656.0,1960.0 654.0,1960.0 653.0,1950.0 652.8,1930.0 651.2,1930.0 650.5,1950.0 650.0,1967.0 639.5,1967.5 639.0,1975.0" fill="#FF0000" stroke="#FF0000" stroke-width="2.4" stroke-linejoin="round"/>
</g>
<line x1="579.6" y1="1898.5" x2="579.6" y2="1937.2" stroke="#000" stroke-width="5.4"/><polygon points="564.5,1935.2 594.7,1935.2 579.6,1964.3" fill="#000"/>
</g>
<g id="pF">
<line x1="201.6" y1="2069.9" x2="201.6" y2="2371.1" stroke="#000" stroke-width="6"/>
<line x1="201.6" y1="2371.1" x2="213.2" y2="2371.1" stroke="#000" stroke-width="5.6"/>
<line x1="201.6" y1="2270.7" x2="213.2" y2="2270.7" stroke="#000" stroke-width="5.6"/>
<line x1="201.6" y1="2170.3" x2="213.2" y2="2170.3" stroke="#000" stroke-width="5.6"/>
<line x1="201.6" y1="2069.9" x2="213.2" y2="2069.9" stroke="#000" stroke-width="5.6"/>
<line x1="1268.7" y1="2069.9" x2="1268.7" y2="2371.1" stroke="#f00" stroke-width="5.8"/>
<line x1="1256.3" y1="2371.1" x2="1268.7" y2="2371.1" stroke="#f00" stroke-width="5.6"/>
<line x1="1256.3" y1="2270.7" x2="1268.7" y2="2270.7" stroke="#f00" stroke-width="5.6"/>
<line x1="1256.3" y1="2170.3" x2="1268.7" y2="2170.3" stroke="#f00" stroke-width="5.6"/>
<line x1="1256.3" y1="2069.9" x2="1268.7" y2="2069.9" stroke="#f00" stroke-width="5.6"/>
<g clip-path="url(#cF)">
<polyline points="202.9,2341.3 204.0,2341.5 205.1,2341.4 206.2,2341.5 207.3,2341.3 208.3,2341.1 209.4,2340.4 210.5,2339.7 211.6,2339.2 212.7,2339.9 213.7,2340.3 214.8,2341.1 215.9,2341.2 217.0,2341.3 218.1,2341.0 219.1,2340.6 220.2,2340.4 221.5,2341.2 222.8,2342.3 224.1,2343.6 225.3,2342.3 226.5,2340.6 227.8,2339.4 228.8,2338.2 229.9,2336.8 231.0,2335.9 232.1,2335.0 233.2,2334.6 234.2,2333.8 235.3,2335.1 236.4,2336.7 237.5,2338.0 238.6,2339.2 239.6,2340.0 240.7,2340.6 241.8,2341.4 242.9,2340.4 244.0,2339.8 245.0,2338.8 246.1,2338.3 247.2,2339.4 248.3,2340.3 249.4,2341.3 250.4,2341.8 251.5,2343.0 252.6,2342.3 253.7,2341.5 254.7,2340.9 255.8,2340.4 256.9,2341.0 258.0,2341.6 259.1,2341.7 260.1,2342.4 261.2,2341.4 262.3,2340.7 263.4,2339.8 264.5,2339.2 265.5,2340.2 266.6,2341.5 267.7,2342.5 269.0,2341.3 270.3,2339.9 271.6,2338.8 272.8,2340.1 274.0,2341.4 275.3,2342.4 276.3,2342.2 277.4,2341.8 278.5,2341.4 279.6,2341.4 280.6,2341.4 281.7,2341.2 282.8,2341.6 283.9,2341.6 285.0,2341.5 286.0,2340.1 287.1,2338.5 288.2,2337.0 289.3,2332.7 290.4,2332.9 291.4,2333.0 292.5,2332.5 293.6,2332.6 294.7,2332.3 295.8,2331.9 296.8,2331.7 297.9,2328.7 299.0,2326.4 300.1,2325.1 301.2,2324.1 302.2,2337.0 304.0,2328.4 305.5,2339.2 307.0,2326.3 308.7,2339.2 309.8,2340.1 310.9,2340.4 311.9,2341.4 313.0,2341.0 314.1,2340.4 315.6,2332.9 316.8,2331.8 317.9,2331.2 319.1,2330.7 320.4,2333.3 321.7,2336.1 322.7,2337.6 323.8,2339.3 324.9,2341.5 326.0,2341.5 327.1,2341.9 328.1,2342.1 329.2,2342.5 330.3,2342.3 331.4,2342.0 332.4,2341.5 333.5,2339.4 334.6,2338.0 335.7,2335.8 337.1,2335.2 338.5,2334.6 339.8,2336.1 341.1,2338.1 342.2,2337.1 343.2,2335.9 344.5,2335.8 345.8,2335.4 347.2,2338.1 348.6,2341.5 349.7,2341.3 350.8,2341.9 351.9,2341.9 352.9,2342.0 354.0,2342.3 355.1,2342.7 356.2,2342.6 357.3,2342.4 358.3,2342.6 359.4,2342.7 360.5,2342.7 361.6,2342.5 362.7,2342.4 363.7,2342.4 364.8,2342.6 365.9,2342.3 367.0,2342.2 368.1,2342.2 369.1,2341.9 370.2,2341.9 371.3,2341.9 372.4,2340.3 373.5,2339.3 374.7,2340.2 376.0,2341.8 377.1,2341.9 378.1,2341.7 379.1,2342.3 380.1,2342.1 381.2,2342.0 382.2,2342.2 383.2,2342.4 384.2,2342.4 385.3,2342.2 386.4,2342.4 387.5,2342.8 388.6,2342.5 389.6,2342.7 390.7,2343.1 391.8,2343.2 392.9,2343.2 394.0,2342.7 395.0,2342.5 396.1,2342.8 397.2,2342.5 398.3,2342.2 399.4,2341.8 400.4,2341.9 401.5,2341.7 402.6,2341.0 403.7,2340.4 404.7,2339.1 405.8,2340.0 406.9,2341.5 408.0,2342.3 409.1,2341.7 410.1,2341.3 411.2,2341.1 412.3,2340.2 413.4,2339.5 414.5,2338.8 415.5,2338.0 416.6,2339.3 417.7,2340.7 418.8,2341.7 419.9,2341.0 420.9,2339.6 422.0,2338.7 423.1,2340.1 424.2,2341.2 425.3,2342.6 426.5,2340.6 427.8,2339.3 429.1,2337.5 430.1,2338.8 431.2,2340.1 432.2,2341.8 433.5,2341.1 434.7,2340.1 436.0,2339.2 437.1,2338.2 438.2,2337.1 439.3,2338.6 440.4,2340.0 441.4,2341.8 442.5,2341.2 443.6,2340.7 444.7,2340.2 445.8,2339.2 446.8,2339.5 447.9,2339.9 449.0,2340.6 450.1,2341.1 451.2,2341.3 452.2,2341.0 453.3,2340.8 454.4,2340.0 455.5,2339.9 456.5,2339.2 457.6,2339.8 458.7,2340.5 459.8,2340.6 460.9,2341.2 461.9,2341.9 463.0,2341.1 464.1,2340.8 465.2,2340.5 466.3,2340.2 467.3,2339.7 468.4,2340.3 469.5,2340.6 470.6,2340.6 471.7,2341.1 472.7,2341.7 473.8,2341.2 474.9,2340.5 476.0,2340.3 477.1,2339.8 478.1,2339.1 479.2,2339.8 480.3,2339.8 481.4,2340.5 482.4,2340.5 483.5,2341.0 484.5,2341.0 485.5,2340.9 486.5,2341.3 487.6,2340.9 488.6,2341.1 489.6,2341.4 490.6,2341.7 491.6,2341.9 492.7,2340.3 493.7,2338.5 494.8,2338.2 495.8,2338.7 496.9,2339.5 497.9,2340.3 499.0,2341.8 500.0,2342.3 501.1,2340.3 502.1,2337.9 503.2,2338.0 504.2,2338.7 505.3,2338.8 506.3,2340.1 507.4,2341.8 508.4,2342.0 509.5,2340.8 510.5,2338.0 511.6,2337.7 512.6,2338.7 513.7,2338.9 514.7,2339.6 515.8,2341.4 516.8,2342.0 517.9,2340.8 518.9,2338.3 520.0,2337.9 521.0,2338.1 522.1,2339.0 523.1,2339.1 524.2,2340.8 525.2,2341.8 526.3,2340.6 527.3,2338.4 528.4,2337.2 529.4,2338.3 530.5,2338.5 531.5,2339.3 532.6,2341.0 533.6,2341.7 534.7,2340.8 535.7,2338.7 536.8,2337.3 537.8,2338.3 538.9,2338.5 539.9,2339.0 541.0,2340.8 542.0,2341.7 543.1,2341.4 544.1,2338.9 545.2,2337.1 546.2,2337.9 547.3,2338.9 548.3,2338.7 549.4,2340.2 550.4,2341.1 551.5,2340.6 552.5,2339.1 553.6,2338.0 554.6,2338.8 555.7,2338.6 556.7,2339.2 557.8,2339.6 558.8,2340.0 559.9,2340.1 560.9,2339.0 562.0,2338.5 563.0,2338.1 564.1,2339.1 565.1,2338.8 566.2,2339.5 567.2,2340.0 568.3,2340.2 569.3,2338.9 570.4,2338.3 571.4,2338.0 572.5,2338.6 573.5,2338.5 574.6,2339.4 575.6,2340.0 576.7,2339.9 577.7,2339.4 578.8,2338.6 579.8,2338.5 580.9,2338.2 581.9,2338.8 583.0,2339.2 584.0,2339.8 585.1,2339.5 586.1,2339.4 587.2,2338.2 588.2,2338.1 589.3,2338.6 590.3,2338.4 591.4,2338.6 592.4,2340.1 593.5,2340.1 594.5,2339.0 595.6,2337.5 596.6,2337.7 597.7,2338.0 598.7,2338.0 599.8,2338.5 600.8,2340.5 601.9,2341.2 602.9,2339.7 604.0,2337.2 605.0,2336.7 606.1,2337.8 607.1,2337.6 608.2,2338.5 609.2,2339.8 610.3,2341.6 611.3,2339.6 612.4,2337.7 613.4,2336.7 614.5,2337.3 615.5,2337.5 616.6,2338.5 617.6,2340.0 618.7,2341.4 619.7,2339.9 620.8,2337.4 621.8,2336.4 622.9,2336.7 623.9,2337.9 625.0,2338.1 626.0,2339.6 627.1,2341.1 628.1,2340.3 629.2,2337.7 630.2,2336.2 631.3,2337.0 632.3,2337.5 633.4,2338.0 634.4,2339.8 635.5,2340.9 636.5,2340.0 637.6,2337.6 638.6,2336.0 639.7,2336.3 640.7,2337.3 641.8,2337.5 642.8,2339.5 643.9,2340.8 644.9,2340.7 646.0,2338.0 647.0,2336.3 648.1,2336.6 649.1,2337.1 650.2,2337.9 651.2,2338.7 652.3,2340.7 653.3,2340.5 654.4,2338.3 655.4,2335.9 656.5,2336.2 657.5,2337.4 658.6,2337.8 659.6,2339.0 660.7,2340.1 661.7,2340.3 662.8,2338.0 663.8,2336.3 664.9,2336.3 665.9,2337.1 667.0,2337.6 668.0,2338.4 669.1,2340.2 670.1,2340.8 671.2,2338.5 672.2,2336.3 673.3,2336.1 674.3,2336.9 675.4,2337.5 676.4,2338.2 677.5,2339.6 678.5,2340.4 679.6,2338.5 680.6,2336.2 681.7,2335.9 682.7,2336.6 683.8,2337.1 684.8,2337.9 685.9,2339.5 686.9,2340.7 688.0,2338.4 689.0,2336.0 690.1,2335.9 691.1,2336.5 692.2,2337.1 693.2,2337.8 694.3,2339.2 695.3,2340.1 696.4,2338.5 697.4,2336.7 698.5,2336.0 699.5,2336.3 700.6,2337.0 701.6,2337.4 702.7,2338.7 703.7,2340.4 704.8,2339.2 705.8,2336.3 706.9,2335.4 707.9,2336.4 709.0,2337.0 710.0,2337.3 711.1,2338.7 712.1,2339.9 713.2,2339.3 714.2,2336.9 715.3,2335.7 716.3,2335.8 717.4,2336.8 718.4,2337.5 719.5,2338.7 720.5,2340.0 721.6,2339.0 722.6,2336.4 723.7,2335.5 724.7,2335.5 725.8,2336.8 726.8,2337.1 727.9,2338.3 728.9,2340.1 730.0,2339.7 731.0,2337.0 732.1,2335.0 733.1,2335.7 734.2,2336.4 735.2,2336.7 736.3,2338.4 737.3,2339.9 738.4,2339.2 739.4,2336.8 740.5,2335.1 741.5,2335.5 742.6,2336.1 743.6,2336.7 744.7,2338.0 745.7,2339.3 746.8,2339.7 747.8,2337.1 748.9,2335.5 749.9,2335.6 751.0,2336.0 752.0,2336.6 753.1,2337.3 754.1,2339.3 755.2,2339.7 756.2,2337.5 757.3,2335.0 758.3,2334.7 759.4,2335.7 760.4,2336.5 761.5,2337.1 762.5,2339.0 763.6,2339.7 764.6,2337.8 765.7,2335.2 766.7,2334.8 767.8,2335.9 768.8,2336.1 769.9,2337.3 770.9,2338.6 772.0,2339.3 773.0,2337.6 774.1,2335.6 775.1,2334.6 776.2,2335.5 777.2,2335.9 778.3,2336.7 779.3,2338.4 780.4,2339.3 781.4,2338.0 782.5,2335.4 783.5,2334.8 784.6,2335.5 785.6,2336.3 786.7,2337.0 787.7,2338.1 788.8,2339.4 789.8,2337.7 790.9,2335.9 791.9,2334.8 793.0,2335.6 794.0,2335.9 795.1,2336.4 796.1,2337.6 797.2,2339.2 798.2,2337.8 799.3,2335.9 800.3,2334.7 801.4,2335.3 802.4,2335.7 803.5,2336.1 804.5,2337.5 805.6,2338.9 806.6,2338.0 807.7,2335.5 808.7,2334.8 809.8,2335.1 810.8,2335.5 811.9,2336.0 812.9,2337.2 814.0,2338.9 815.0,2338.1 816.1,2335.8 817.1,2334.5 818.2,2334.9 819.2,2335.5 820.3,2335.9 821.3,2337.3 822.4,2338.7 823.4,2338.3 824.5,2336.3 825.5,2334.7 826.6,2334.6 827.6,2335.2 828.7,2335.7 829.7,2336.7 830.8,2338.3 831.8,2338.4 832.9,2336.2 833.9,2334.5 835.0,2334.5 836.0,2335.8 837.1,2336.0 838.1,2336.5 839.2,2337.7 840.2,2338.5 841.3,2336.1 842.3,2334.8 843.4,2334.3 844.4,2335.4 845.5,2335.5 846.5,2336.7 847.6,2337.7 848.6,2337.9 849.7,2336.2 850.7,2334.8 851.8,2334.8 852.8,2335.2 853.9,2335.7 854.9,2336.1 856.0,2337.5 857.0,2337.8 858.1,2336.9 859.1,2334.3 860.2,2334.4 861.2,2334.9 862.3,2335.2 863.3,2336.0 864.4,2337.7 865.4,2337.9 866.5,2336.4 867.5,2334.8 868.6,2334.3 869.6,2334.9 870.7,2335.1 871.7,2336.1 872.8,2336.9 873.8,2337.7 874.9,2336.6 875.9,2334.7 877.0,2334.1 878.0,2334.8 879.1,2335.3 880.1,2335.9 881.2,2336.9 882.2,2337.5 883.3,2337.1 884.3,2334.5 885.4,2333.9 886.4,2334.3 887.5,2335.1 888.5,2335.7 889.6,2336.4 890.6,2337.6 891.7,2337.1 892.7,2335.0 893.8,2333.7 894.8,2334.5 895.9,2335.2 896.9,2335.3 898.0,2336.2 899.0,2337.7 900.1,2336.8 901.1,2334.7 902.2,2333.6 903.2,2334.2 904.3,2334.6 905.3,2335.1 906.4,2336.3 907.4,2337.5 908.5,2336.9 909.5,2335.3 910.6,2333.5 911.6,2334.0 912.7,2335.0 913.7,2335.3 914.8,2336.3 915.8,2337.4 916.9,2337.1 917.9,2335.4 919.0,2333.8 920.0,2333.7 921.1,2334.4 922.1,2334.6 923.2,2336.0 924.2,2337.0 925.3,2337.0 926.3,2335.3 927.4,2333.5 928.4,2333.9 929.5,2334.7 930.5,2335.0 931.6,2335.8 932.6,2336.8 933.7,2336.8 934.7,2335.6 935.8,2333.9 936.8,2333.6 937.9,2334.2 938.9,2334.4 940.0,2335.6 941.0,2336.7 942.1,2337.3 943.1,2335.4 944.2,2333.6 945.2,2333.5 946.3,2334.3 947.3,2334.8 948.4,2335.1 949.4,2336.6 950.5,2337.0 951.5,2335.9 952.6,2333.9 953.6,2333.4 954.7,2333.9 955.7,2334.3 956.8,2335.2 957.8,2336.5 958.9,2336.8 959.9,2335.4 961.0,2333.6 962.0,2333.6 963.1,2333.5 964.1,2334.5 965.2,2334.8 966.2,2336.1 967.3,2336.9 968.3,2335.7 969.4,2333.9 970.4,2332.8 971.5,2334.0 972.5,2333.9 973.6,2334.4 974.6,2336.0 975.7,2336.9 976.7,2336.1 977.8,2334.0 978.8,2333.3 979.9,2333.2 980.9,2333.7 982.0,2334.3 983.0,2335.8 984.1,2336.4 985.1,2336.0 986.2,2334.2 987.2,2332.7 988.3,2333.4 989.3,2334.2 990.4,2334.5 991.4,2335.3 992.5,2336.5 993.5,2335.9 994.6,2334.4 995.6,2333.1 996.7,2333.4 997.2,2334.5 998.3,2334.5 999.4,2334.1 1000.4,2333.6 1001.5,2333.5 1002.6,2333.5 1004.1,2323.8 1005.8,2323.6 1007.6,2333.5 1008.8,2334.5 1010.1,2335.6 1011.2,2335.6 1012.3,2335.6 1013.4,2335.9 1014.5,2335.7 1015.5,2335.3 1016.6,2334.7 1017.7,2334.1 1018.8,2333.3 1019.9,2332.3 1020.9,2331.9 1022.0,2330.9 1023.1,2331.7 1024.2,2332.2 1025.3,2333.0 1026.3,2332.3 1027.4,2331.2 1028.5,2330.1 1029.6,2330.5 1030.6,2330.8 1031.7,2331.2 1032.8,2331.2 1033.9,2330.8 1035.0,2330.3 1036.0,2329.6 1037.1,2329.4 1038.2,2329.0 1039.3,2330.4 1040.4,2331.5 1041.4,2332.5 1042.5,2332.8 1043.6,2332.7 1044.7,2332.9 1045.8,2333.3 1046.8,2333.6 1047.9,2333.5 1049.0,2333.2 1050.1,2332.9 1051.2,2333.1 1052.2,2332.7 1053.3,2332.7 1054.4,2332.3 1055.5,2332.8 1056.5,2332.3 1057.6,2332.0 1058.7,2331.5 1059.8,2330.9 1060.9,2330.5 1062.0,2329.6 1063.0,2329.0 1064.1,2328.2 1065.2,2327.4 1066.2,2327.4 1067.2,2326.7 1068.3,2326.4 1069.4,2324.9 1070.5,2323.9 1071.6,2322.1 1072.8,2320.2 1074.1,2318.0 1075.3,2318.0 1076.5,2317.3 1077.6,2315.8 1078.8,2314.0 1079.9,2312.4 1081.1,2308.5 1082.3,2304.9 1083.6,2300.1 1084.8,2295.0 1086.1,2290.2 1087.3,2285.0 1088.5,2280.3 1089.8,2275.2 1091.0,2271.8 1092.3,2268.5 1093.4,2266.3 1094.5,2263.8 1095.6,2261.7 1096.7,2259.8 1097.8,2257.8 1098.9,2255.9 1100.0,2255.4 1101.1,2254.6 1102.2,2253.6 1103.4,2251.4 1104.7,2249.5 1105.8,2248.0 1106.9,2246.2 1108.0,2244.4 1109.1,2244.0 1110.2,2243.3 1111.3,2242.8 1112.5,2244.7 1113.8,2247.1 1115.0,2250.0 1116.3,2252.9 1117.9,2252.7 1119.2,2250.6 1120.4,2248.6 1121.6,2245.1 1122.9,2242.0 1124.1,2237.9 1125.4,2233.7 1126.4,2231.9 1127.5,2229.6 1128.7,2230.1 1129.8,2230.5 1130.9,2234.3 1132.0,2237.8 1133.2,2240.5 1134.5,2243.8 1135.7,2245.9 1136.9,2247.7 1138.2,2248.8 1139.4,2250.2 1140.5,2250.7 1141.6,2250.6 1142.7,2251.0 1143.8,2250.3 1144.9,2249.2 1146.0,2248.6 1147.1,2249.2 1148.1,2249.7 1149.1,2250.2 1150.2,2251.0 1151.2,2251.6 1152.2,2252.3 1153.2,2253.0 1154.3,2253.6 1155.3,2254.2 1156.3,2254.6 1157.3,2255.7 1158.4,2256.3 1159.4,2256.8 1160.4,2257.1 1161.4,2257.9 1162.5,2258.9 1163.5,2259.3 1164.5,2259.8 1165.6,2260.8 1166.6,2261.4 1167.6,2261.6 1168.6,2262.4 1169.7,2263.1 1170.7,2263.5 1171.7,2264.2 1172.7,2265.0 1173.8,2265.7 1174.8,2266.3 1175.8,2266.9 1176.8,2267.5 1177.8,2268.1 1178.8,2268.8 1179.8,2270.1 1180.9,2270.9 1181.9,2271.7 1182.9,2272.0 1183.9,2273.1 1184.9,2273.6 1185.9,2274.4 1186.9,2275.1 1187.9,2276.3 1188.9,2277.0 1189.9,2277.8 1190.9,2278.3 1191.9,2279.4 1192.9,2279.8 1193.9,2280.7 1194.9,2281.5 1195.9,2282.0 1196.9,2282.9 1197.9,2283.5 1198.9,2284.7 1199.9,2285.1 1200.9,2285.8 1201.9,2286.7 1203.0,2287.7 1204.0,2288.4 1205.2,2291.7 1206.4,2295.1 1207.7,2297.2 1208.9,2299.0 1210.2,2299.9 1211.4,2300.7 1213.1,2306.5 1214.3,2308.0 1215.5,2309.7 1216.6,2309.5 1217.7,2309.5 1218.8,2309.1 1220.1,2310.8 1221.3,2313.1 1222.6,2314.0 1223.8,2314.8 1225.1,2315.8 1226.3,2317.2 1227.5,2318.6 1228.8,2319.8 1229.9,2320.6 1231.0,2322.2 1232.1,2323.0 1233.2,2322.6 1234.3,2322.0 1235.4,2321.4 1236.6,2322.5 1237.9,2323.1 1239.5,2320.6 1240.8,2323.1 1242.0,2325.7 1243.3,2325.5 1244.5,2324.8 1245.6,2324.5 1246.7,2324.3 1247.8,2324.0 1249.0,2324.6 1250.3,2324.9 1251.4,2324.4 1252.5,2323.5 1253.6,2323.1 1254.8,2321.0 1256.1,2318.9 1257.2,2316.6 1258.6,2322.2 1259.8,2323.2 1261.0,2323.9 1262.1,2324.4 1263.2,2325.1 1264.4,2325.6 1265.6,2326.1 1266.8,2326.3 1268.1,2326.4 1269.3,2326.4" fill="none" stroke="#000" stroke-width="4.4" stroke-linejoin="round" stroke-linecap="round" />
<polyline points="202.9,2234.2 204.0,2234.7 205.1,2234.0 206.2,2234.8 207.3,2233.4 208.3,2231.7 209.4,2229.6 210.5,2229.3 211.6,2228.1 212.7,2228.7 213.7,2229.2 214.8,2231.3 215.9,2230.2 217.0,2230.5 218.1,2231.2 219.1,2232.3 220.2,2234.0 221.3,2235.4 222.4,2236.6 223.5,2235.0 224.5,2233.9 225.6,2234.4 226.7,2234.0 227.8,2231.5 228.8,2230.2 229.9,2228.9 231.0,2228.7 232.1,2227.0 233.2,2226.6 234.2,2224.2 235.3,2225.3 236.4,2227.0 237.5,2229.0 238.6,2228.6 239.6,2228.3 240.7,2229.5 241.8,2228.0 242.9,2227.2 244.0,2227.1 245.0,2225.2 246.1,2223.9 247.2,2225.1 248.3,2224.4 249.4,2224.2 250.4,2226.5 251.5,2225.2 252.6,2224.5 253.7,2222.4 254.7,2223.0 255.8,2223.8 256.9,2225.9 258.0,2226.7 259.1,2226.9 260.1,2224.5 261.2,2223.5 262.3,2225.3 263.4,2224.1 264.5,2224.8 265.5,2225.9 266.6,2226.3 267.7,2223.3 268.8,2222.7 269.9,2223.0 270.9,2222.7 272.0,2224.6 273.1,2226.3 274.2,2225.9 275.3,2225.6 276.3,2223.3 277.4,2224.2 278.5,2223.9 279.6,2225.6 280.6,2225.3 281.7,2226.4 282.8,2226.1 283.9,2225.8 285.0,2225.8 286.0,2227.0 287.4,2221.5 288.8,2217.9 290.1,2218.9 291.3,2217.8 292.5,2217.7 293.6,2217.1 294.7,2218.7 295.8,2219.4 296.8,2216.3 297.9,2214.5 299.0,2213.5 300.1,2212.4 301.2,2210.8 302.2,2214.8 303.3,2218.8 304.4,2217.9 305.5,2215.2 306.5,2211.3 307.6,2210.2 309.1,2217.9 310.5,2218.2 311.9,2219.0 313.0,2217.3 314.1,2215.3 315.2,2212.9 316.3,2210.7 317.3,2208.2 319.1,2207.8 320.4,2210.3 321.7,2212.7 322.7,2214.5 323.8,2215.5 324.9,2215.6 326.0,2216.0 327.1,2213.3 328.1,2213.9 329.2,2214.7 330.3,2215.0 331.4,2217.1 332.4,2217.8 333.5,2215.3 334.6,2215.1 335.7,2215.2 336.8,2213.9 337.8,2211.8 338.9,2211.7 340.0,2213.4 341.1,2214.3 342.2,2215.5 343.2,2214.1 344.3,2214.0 345.4,2215.5 346.5,2213.4 347.6,2214.8 348.6,2214.1 349.7,2216.3 350.8,2216.1 351.9,2217.0 352.9,2215.1 354.0,2216.5 355.1,2214.6 356.2,2214.5 357.3,2214.1 358.3,2214.0 359.4,2214.8 360.5,2216.3 361.6,2214.9 362.7,2216.1 363.7,2214.8 364.8,2216.4 365.9,2216.9 367.0,2216.8 368.1,2217.1 369.1,2216.4 370.2,2215.8 371.3,2216.7 372.4,2215.9 373.5,2214.6 374.5,2214.6 375.6,2214.9 376.7,2215.8 377.8,2217.2 378.8,2217.9 379.9,2218.2 381.0,2217.7 382.1,2215.7 383.2,2217.1 384.2,2216.5 385.3,2216.1 386.4,2217.4 387.5,2216.4 388.6,2215.2 389.6,2215.5 390.7,2215.7 391.8,2216.8 392.9,2217.2 394.0,2218.2 395.0,2216.4 396.1,2216.8 397.2,2218.9 398.3,2218.2 399.4,2218.6 400.4,2220.6 401.5,2219.1 402.6,2220.9 403.7,2220.8 404.7,2219.4 405.8,2218.8 406.9,2216.7 408.0,2217.4 409.1,2217.3 410.1,2217.4 411.2,2216.5 412.3,2215.7 413.4,2216.0 414.5,2217.6 415.5,2216.8 416.6,2217.9 417.7,2217.0 418.8,2217.6 419.9,2216.2 420.9,2216.9 422.0,2219.5 423.1,2219.6 424.2,2220.2 425.3,2220.4 426.3,2220.9 427.4,2219.4 428.5,2219.3 429.6,2220.2 430.6,2221.7 431.7,2221.4 432.8,2221.2 433.9,2221.2 435.0,2220.1 436.0,2219.9 437.1,2219.7 438.2,2219.0 439.3,2221.1 440.4,2221.4 441.4,2222.8 442.5,2223.0 443.6,2221.7 444.7,2221.7 445.8,2220.4 446.8,2220.2 447.9,2221.3 449.0,2222.2 450.1,2222.2 451.2,2224.1 452.2,2223.7 453.3,2223.4 454.4,2223.1 455.5,2224.6 456.5,2224.2 457.6,2224.6 458.7,2222.7 459.8,2222.0 460.9,2223.2 461.9,2222.1 463.0,2224.2 464.1,2224.4 465.2,2224.2 466.3,2225.1 467.3,2226.1 468.4,2224.8 469.5,2225.1 470.6,2226.0 471.7,2225.5 472.7,2224.9 473.8,2223.8 474.9,2224.1 476.0,2224.2 477.1,2223.6 478.1,2225.2 479.2,2224.9 480.3,2226.1 481.4,2225.4 482.4,2226.5 483.5,2225.6 484.6,2225.9 485.8,2225.9 487.1,2226.9 488.3,2228.6 489.6,2228.0 490.0,2227.1 491.1,2226.8 492.2,2225.9 493.2,2226.4 494.3,2225.6 495.4,2225.7 496.5,2227.1 497.6,2227.0 498.6,2226.1 499.7,2224.0 500.8,2224.2 501.9,2222.4 502.9,2223.5 504.0,2223.9 505.1,2223.6 506.2,2225.5 507.3,2226.1 508.3,2225.3 509.4,2223.6 510.5,2224.0 511.6,2225.8 512.7,2225.3 513.7,2225.1 514.8,2224.6 515.9,2223.7 517.0,2221.7 518.1,2220.5 519.1,2219.4 520.2,2219.5 521.3,2221.9 522.4,2223.8 523.5,2222.3 524.5,2221.2 525.6,2222.4 526.7,2221.0 527.8,2220.5 528.8,2221.5 529.9,2223.7 531.0,2225.0 532.1,2224.2 533.2,2224.3 534.2,2221.9 535.3,2222.4 536.4,2222.3 537.5,2223.5 538.6,2223.9 539.6,2225.5 540.7,2224.1 541.8,2225.4 542.9,2225.1 544.0,2225.0 545.0,2225.6 546.1,2224.3 547.2,2226.7 548.3,2226.3 549.4,2227.2 550.4,2226.4 551.5,2225.1 552.6,2226.5 553.7,2224.9 554.7,2226.1 555.8,2225.4 556.9,2226.1 558.0,2224.9 559.1,2224.2 560.1,2224.7 561.2,2225.0 562.3,2224.4 563.4,2223.9 564.5,2224.4 565.5,2224.7 566.6,2223.2 567.7,2222.8 568.8,2223.4 569.9,2224.6 570.9,2223.9 572.0,2225.2 573.1,2227.2 574.2,2225.8 575.3,2226.8 576.3,2225.3 577.4,2225.0 578.5,2225.9 579.6,2227.3 580.6,2227.5 581.7,2226.1 582.8,2228.0 583.9,2227.5 585.0,2226.6 586.0,2226.5 587.1,2225.6 588.2,2224.7 589.3,2226.0 590.4,2224.6 591.4,2225.3 592.5,2224.6 593.6,2222.1 594.7,2220.2 595.8,2221.0 596.8,2220.8 597.9,2221.1 599.0,2222.1 600.1,2221.5 601.2,2223.2 602.2,2220.4 603.3,2221.0 604.4,2218.5 605.5,2218.6 606.5,2217.7 607.6,2219.7 608.7,2218.8 609.9,2218.7 611.1,2217.3 612.3,2216.1 613.5,2215.0 614.6,2215.6 615.8,2218.5 616.9,2219.1 618.1,2218.2 619.3,2216.9 620.5,2213.9 621.7,2212.9 622.7,2213.9 623.8,2214.4 624.9,2217.7 626.0,2218.2 627.1,2216.9 628.1,2215.9 629.2,2215.7 630.3,2212.6 631.4,2212.4 632.4,2214.5 633.5,2215.6 634.6,2216.9 635.7,2216.0 636.8,2215.7 637.8,2216.5 638.9,2215.6 640.0,2217.9 641.1,2218.8 642.2,2220.0 643.2,2219.2 644.3,2220.8 645.4,2219.4 646.5,2219.6 647.6,2218.4 648.6,2219.1 649.7,2220.5 650.8,2220.3 651.9,2219.5 652.9,2219.9 654.0,2220.7 655.1,2217.9 656.2,2219.4 657.3,2218.4 658.3,2217.6 659.4,2220.6 660.5,2220.3 661.6,2219.1 662.7,2218.3 663.7,2218.0 664.8,2216.9 665.9,2218.4 667.0,2219.0 668.1,2218.1 669.1,2218.5 670.2,2219.5 671.3,2218.9 672.4,2218.6 673.5,2217.5 674.5,2217.5 675.6,2220.1 676.7,2219.3 677.8,2220.1 678.8,2219.9 679.9,2216.5 681.0,2216.0 682.1,2215.2 683.2,2216.8 684.2,2217.7 685.3,2216.7 686.4,2218.3 687.5,2219.0 688.6,2218.5 689.6,2218.3 690.7,2218.6 691.8,2217.6 692.9,2217.0 694.0,2217.3 695.0,2216.8 696.1,2215.9 697.2,2215.6 698.3,2214.3 699.4,2215.2 700.4,2215.9 701.5,2218.1 702.6,2218.3 703.7,2216.6 704.7,2217.5 705.8,2214.3 706.9,2213.4 708.0,2213.5 709.1,2213.7 710.1,2217.0 711.2,2216.7 712.3,2215.8 713.4,2216.2 714.5,2214.6 715.5,2213.8 716.6,2213.8 717.7,2214.1 718.8,2215.6 719.9,2214.5 720.9,2214.0 722.0,2213.1 723.1,2211.4 724.2,2211.1 725.3,2212.3 726.3,2213.9 727.4,2213.8 728.5,2214.2 729.6,2215.6 730.6,2213.4 731.7,2215.1 732.8,2212.7 733.9,2213.9 735.0,2213.6 736.0,2214.7 737.1,2215.9 738.2,2217.2 739.3,2215.7 740.4,2214.5 741.4,2213.4 742.5,2212.6 743.6,2213.7 744.7,2217.0 745.8,2216.7 746.8,2218.6 747.9,2219.2 749.0,2218.7 750.1,2219.6 751.2,2218.5 752.2,2222.0 753.3,2223.8 754.4,2227.2 755.5,2228.6 756.5,2231.5 757.6,2233.9 758.7,2234.5 759.8,2234.2 760.9,2235.4 761.9,2235.1 763.0,2235.2 764.1,2233.7 765.2,2233.5 766.3,2233.2 767.3,2232.3 768.4,2230.8 769.5,2228.9 770.6,2227.2 771.7,2225.6 772.7,2224.7 773.8,2223.7 774.9,2223.0 776.0,2222.7 777.1,2220.8 778.1,2221.2 779.2,2218.7 780.3,2217.3 781.4,2216.1 782.4,2215.4 783.5,2216.0 784.6,2215.5 785.7,2214.4 786.8,2215.1 788.2,2213.6 789.6,2211.4 790.0,2212.7 791.1,2212.4 792.2,2211.4 793.2,2210.0 794.3,2210.3 795.4,2210.7 796.5,2208.5 797.6,2208.4 798.6,2206.7 799.7,2208.1 800.8,2208.6 801.9,2207.7 802.9,2208.1 804.0,2207.8 805.1,2206.6 806.2,2206.0 807.3,2205.3 808.3,2205.9 809.4,2206.9 810.5,2209.2 811.6,2210.4 812.7,2210.9 813.7,2212.1 814.8,2212.4 815.9,2210.9 817.0,2212.1 818.1,2214.9 819.1,2215.7 820.2,2216.1 821.3,2217.1 822.4,2215.9 823.5,2215.1 824.5,2213.6 825.6,2213.7 826.7,2213.6 827.8,2213.8 828.8,2216.2 829.9,2215.9 831.0,2216.2 832.1,2214.2 833.2,2214.4 834.2,2213.4 835.3,2215.0 836.4,2214.0 837.5,2215.7 838.6,2215.9 839.6,2214.3 840.7,2212.6 841.8,2212.6 842.9,2213.2 844.0,2214.5 845.0,2213.5 846.1,2214.4 847.2,2214.0 848.3,2215.0 849.4,2213.3 850.4,2213.8 851.5,2213.0 852.6,2213.7 853.7,2215.8 854.7,2215.8 855.8,2214.6 856.9,2215.2 858.0,2216.1 859.1,2214.6 860.1,2216.0 861.2,2216.7 862.3,2218.0 863.4,2218.5 864.5,2220.3 865.5,2219.8 866.6,2219.5 867.7,2219.9 868.8,2220.2 869.9,2222.8 870.9,2223.4 872.0,2223.2 873.1,2223.1 874.2,2222.4 875.3,2221.0 876.3,2220.6 877.4,2222.0 878.5,2220.8 879.6,2222.0 880.6,2220.9 881.7,2221.7 882.8,2220.9 883.9,2221.6 885.0,2221.0 886.0,2220.8 887.1,2219.7 888.2,2218.6 889.3,2216.5 890.4,2217.5 891.4,2217.1 892.5,2218.3 893.6,2216.6 894.7,2218.4 895.8,2216.1 896.8,2213.7 897.9,2212.5 899.0,2212.1 900.1,2213.9 901.2,2213.5 902.2,2215.0 903.3,2212.9 904.4,2213.1 905.5,2211.8 906.5,2210.7 907.6,2213.0 908.7,2212.8 909.8,2215.0 910.9,2215.2 911.9,2217.2 913.0,2217.3 914.1,2216.8 915.2,2215.5 916.3,2213.9 917.3,2214.2 918.4,2215.1 919.5,2215.3 920.6,2214.1 921.7,2215.2 922.7,2215.2 923.8,2215.6 924.9,2215.5 926.0,2214.7 927.1,2214.9 928.1,2216.4 929.2,2216.4 930.3,2216.6 931.4,2217.4 932.4,2216.8 933.5,2217.8 934.6,2220.1 935.7,2220.7 936.8,2222.3 937.8,2220.7 938.9,2223.0 940.0,2222.0 941.1,2221.9 942.2,2224.0 943.2,2224.4 944.3,2224.3 945.4,2223.6 946.5,2222.4 947.6,2221.8 948.6,2222.3 949.7,2223.5 950.8,2224.4 951.9,2225.4 952.9,2225.2 954.0,2222.9 955.1,2223.6 956.2,2222.8 957.3,2223.2 958.3,2222.9 959.4,2222.7 960.5,2222.9 961.6,2221.8 962.7,2222.4 963.7,2222.7 964.8,2221.7 965.9,2220.4 967.0,2221.8 968.1,2222.0 969.1,2221.2 970.2,2222.3 971.3,2220.9 972.4,2221.5 973.5,2222.1 974.5,2222.6 975.6,2222.2 976.7,2221.8 977.8,2223.2 978.8,2222.2 979.9,2223.2 981.0,2223.8 982.1,2225.5 983.2,2226.9 984.2,2226.3 985.3,2227.0 986.4,2226.6 987.5,2226.0 988.6,2228.3 989.6,2227.2 990.7,2228.4 991.8,2229.4 992.9,2227.5 994.0,2226.6 995.0,2226.4 996.1,2226.2 997.2,2228.0 998.3,2227.7 999.4,2227.1 1000.4,2228.5 1001.5,2226.6 1002.6,2224.1 1003.7,2220.2 1004.7,2217.4 1005.8,2220.5 1006.9,2224.1 1008.0,2226.5 1009.1,2227.1 1010.1,2229.9 1011.2,2230.2 1012.3,2228.8 1013.4,2230.0 1014.5,2229.6 1015.5,2230.7 1016.6,2230.7 1017.7,2231.7 1018.8,2231.1 1019.9,2229.1 1020.9,2228.0 1022.0,2228.0 1023.1,2229.3 1024.2,2228.2 1025.3,2229.9 1026.3,2230.7 1027.4,2230.3 1028.5,2230.8 1029.6,2229.5 1030.6,2229.1 1031.7,2229.7 1032.8,2228.8 1033.9,2229.9 1035.0,2229.7 1036.0,2229.5 1037.1,2229.4 1038.2,2229.5 1039.3,2228.4 1040.4,2231.1 1041.4,2230.8 1042.5,2232.9 1043.6,2233.6 1044.7,2233.6 1045.8,2231.8 1046.8,2234.0 1047.9,2232.5 1049.0,2235.6 1050.1,2234.9 1051.2,2235.2 1052.2,2238.1 1053.3,2237.6 1054.4,2239.9 1055.5,2239.1 1056.5,2240.2 1057.6,2241.6 1058.7,2242.3 1060.0,2243.6 1061.2,2243.1 1062.5,2243.9 1063.7,2243.0 1065.0,2243.4 1066.1,2243.4 1067.3,2241.4 1068.4,2242.9 1069.6,2242.5 1070.8,2241.3 1072.0,2236.7 1073.2,2231.7 1074.5,2227.1 1075.7,2222.6 1077.4,2217.2 1078.5,2192.4 1079.9,2165.9 1081.5,2179.1 1083.2,2200.6 1084.5,2208.9 1085.6,2175.8 1086.5,2109.6 1087.3,2065.0 1088.5,2065.3 1089.8,2064.3 1091.0,2065.5 1092.3,2065.0 1093.1,2109.6 1093.9,2175.8 1095.6,2188.6 1097.2,2184.1 1098.4,2208.9 1099.4,2241.4 1101.4,2242.8 1102.7,2208.9 1103.4,2126.2 1103.8,2064.8 1105.5,2065.0 1106.3,2126.2 1107.5,2192.4 1108.3,2167.0 1109.6,2165.9 1110.5,2192.4 1111.3,2221.4 1112.9,2222.7 1114.2,2226.8 1115.4,2231.8 1117.1,2240.9 1118.7,2242.0 1119.9,2175.8 1120.9,2109.6 1121.6,2064.7 1122.6,2065.1 1123.7,2065.0 1124.9,2109.6 1126.2,2159.3 1127.5,2179.1 1129.2,2200.6 1130.8,2218.8 1132.8,2224.0 1134.8,2222.7 1136.4,2232.6 1137.5,2235.3 1138.6,2237.3 1139.6,2238.8 1140.7,2239.1 1141.7,2237.8 1142.7,2238.6 1143.8,2239.3 1144.9,2239.3 1146.0,2237.8 1147.1,2239.1 1148.1,2237.5 1149.1,2238.8 1150.2,2238.4 1151.2,2237.8 1152.2,2238.8 1153.2,2238.4 1154.3,2238.8 1155.3,2238.6 1156.3,2237.5 1157.3,2237.8 1158.4,2237.6 1159.4,2236.8 1160.4,2236.9 1161.4,2236.9 1162.5,2236.0 1163.5,2236.0 1164.5,2237.4 1165.6,2237.3 1166.6,2236.8 1167.6,2236.7 1168.6,2236.1 1169.7,2236.2 1170.7,2236.3 1171.7,2234.6 1172.7,2235.6 1173.8,2236.8 1174.8,2234.8 1175.8,2235.4 1176.8,2234.3 1177.9,2234.7 1178.9,2236.0 1179.9,2234.0 1180.9,2235.8 1181.9,2235.8 1183.0,2235.9 1184.0,2234.3 1185.0,2235.9 1186.0,2234.4 1187.0,2234.6 1188.0,2235.8 1189.1,2234.7 1190.1,2235.0 1191.1,2233.5 1192.1,2233.1 1193.1,2233.7 1194.2,2233.3 1195.2,2235.0 1196.2,2233.5 1197.2,2235.2 1198.2,2234.4 1199.2,2233.2 1200.3,2234.4 1201.3,2233.3 1202.3,2233.8 1203.5,2233.9 1204.8,2236.6 1206.0,2239.4 1207.3,2241.3 1208.5,2238.8 1209.7,2235.2 1210.9,2233.4 1212.0,2232.8 1213.1,2232.4 1214.2,2231.7 1215.3,2230.1 1216.4,2230.1 1217.6,2227.9 1218.8,2224.9 1220.1,2221.0 1221.3,2218.8 1223.0,2210.1 1224.2,2208.2 1225.5,2203.5 1226.7,2203.8 1227.9,2202.7 1229.1,2203.5 1230.2,2205.7 1231.3,2207.9 1232.9,2200.6 1233.7,2188.9 1235.0,2189.8 1236.2,2187.9 1237.5,2191.4 1238.7,2192.4 1239.5,2175.8 1240.0,2137.5 1241.2,2137.8 1242.0,2159.3 1243.3,2179.4 1244.7,2179.2 1246.2,2181.4 1247.4,2180.5 1248.6,2179.1 1249.9,2176.7 1251.1,2172.0 1252.4,2171.1 1253.6,2169.6 1254.8,2169.1 1256.1,2167.8 1257.3,2165.6 1258.6,2165.9 1259.8,2167.4 1261.0,2170.2 1262.3,2172.7 1263.5,2175.8 1264.8,2177.2 1266.0,2178.4 1267.7,2175.5 1269.3,2171.7" fill="none" stroke="#00B0F0" stroke-width="5.0" stroke-linejoin="round" stroke-linecap="round" />
<line x1="203.3" y1="2360.5" x2="1268.7" y2="2360.5" stroke="#f00" stroke-width="3.9" stroke-linecap="round"/>
<polyline points="1262.8,2360.5 1262.8,2371.1" fill="none" stroke="#FF0000" stroke-width="3.9" stroke-linejoin="round" stroke-linecap="round" />
<line x1="319.5" y1="2360.5" x2="319.5" y2="2350.5" stroke="#f00" stroke-width="3.9" stroke-linecap="round"/>
<line x1="401.5" y1="2360.5" x2="401.5" y2="2350.5" stroke="#f00" stroke-width="3.9" stroke-linecap="round"/>
<line x1="515.9" y1="2360.5" x2="515.9" y2="2350.5" stroke="#f00" stroke-width="3.9" stroke-linecap="round"/>
<line x1="669.1" y1="2360.5" x2="669.1" y2="2350.5" stroke="#f00" stroke-width="3.9" stroke-linecap="round"/>
<line x1="757.6" y1="2360.5" x2="757.6" y2="2350.5" stroke="#f00" stroke-width="3.9" stroke-linecap="round"/>
<line x1="765.2" y1="2360.5" x2="765.2" y2="2350.5" stroke="#f00" stroke-width="3.9" stroke-linecap="round"/>
<line x1="796.5" y1="2360.5" x2="796.5" y2="2350.5" stroke="#f00" stroke-width="3.9" stroke-linecap="round"/>
<line x1="820.2" y1="2360.5" x2="820.2" y2="2350.5" stroke="#f00" stroke-width="3.9" stroke-linecap="round"/>
<line x1="873.7" y1="2360.5" x2="873.7" y2="2350.5" stroke="#f00" stroke-width="3.9" stroke-linecap="round"/>
<line x1="901.6" y1="2360.5" x2="901.6" y2="2350.5" stroke="#f00" stroke-width="3.9" stroke-linecap="round"/>
<line x1="915.2" y1="2360.5" x2="915.2" y2="2350.5" stroke="#f00" stroke-width="3.9" stroke-linecap="round"/>
<line x1="948.6" y1="2360.5" x2="948.6" y2="2350.5" stroke="#f00" stroke-width="3.9" stroke-linecap="round"/>
<line x1="950.8" y1="2360.5" x2="950.8" y2="2350.5" stroke="#f00" stroke-width="3.9" stroke-linecap="round"/>
<line x1="998.3" y1="2360.5" x2="998.3" y2="2350.5" stroke="#f00" stroke-width="3.9" stroke-linecap="round"/>
<line x1="1017.7" y1="2360.5" x2="1017.7" y2="2350.5" stroke="#f00" stroke-width="3.9" stroke-linecap="round"/>
<line x1="394.0" y1="2360.5" x2="394.0" y2="2370.5" stroke="#f00" stroke-width="3.9" stroke-linecap="round"/>
<line x1="643.2" y1="2360.5" x2="643.2" y2="2370.5" stroke="#f00" stroke-width="3.9" stroke-linecap="round"/>
<line x1="883.2" y1="2360.5" x2="883.2" y2="2370.5" stroke="#f00" stroke-width="3.9" stroke-linecap="round"/>
<polygon points="1136.8,2359.3 1137.0,2309.5 1143.0,2308.6 1145.2,2308.6 1146.0,2200.8 1147.4,2160.5 1149.7,2158.3 1150.5,2150.4 1153.0,2149.3 1154.2,2168.3 1155.8,2168.3 1156.4,2122.4 1158.6,2119.6 1160.3,2122.4 1161.2,2138.1 1162.3,2130.2 1164.8,2129.7 1166.5,2148.2 1168.4,2149.8 1169.3,2168.3 1172.1,2168.3 1172.6,2150.4 1174.9,2149.3 1176.6,2161.1 1177.7,2178.4 1178.8,2169.5 1181.4,2168.3 1182.2,2149.3 1185.0,2148.7 1185.9,2130.2 1188.6,2129.3 1189.5,2120.7 1192.3,2120.2 1193.4,2156.0 1193.9,2200.8 1195.1,2228.8 1196.7,2228.8 1197.3,2198.6 1199.0,2189.1 1200.4,2189.6 1201.2,2212.0 1202.3,2245.6 1203.5,2279.2 1204.6,2324.0 1205.1,2359.3 1203.5,2359.3 1202.3,2361.0 1201.2,2346.4 1200.1,2357.6 1198.4,2362.7 1195.3,2361.0 1194.5,2342.0 1191.7,2340.8 1190.6,2292.1 1187.2,2292.7 1186.1,2330.8 1183.9,2331.9 1182.7,2350.9 1180.5,2349.8 1179.4,2332.4 1177.4,2330.8 1176.6,2312.8 1174.9,2312.8 1173.8,2321.8 1171.5,2321.8 1170.4,2312.8 1169.3,2292.1 1166.5,2291.6 1165.4,2280.4 1163.1,2281.5 1162.0,2301.6 1159.2,2301.6 1158.1,2292.1 1155.6,2292.7 1154.7,2311.7 1152.5,2311.7 1151.4,2300.5 1149.3,2301.6 1148.6,2340.8 1148.0,2359.3" fill="#FF0000" stroke="#FF0000" stroke-width="2.6" stroke-linejoin="round"/>
<polygon points="1119.4,2359.3 1119.7,2350.4 1123.1,2350.4 1123.6,2359.3" fill="#FF0000" stroke="#FF0000" stroke-width="2.2" stroke-linejoin="round"/>
<polygon points="1128.1,2359.3 1128.4,2350.4 1134.3,2350.4 1134.8,2359.3" fill="#FF0000" stroke="#FF0000" stroke-width="2.2" stroke-linejoin="round"/>
</g>
<line x1="1052.2" y1="2257.5" x2="1052.2" y2="2294.5" stroke="#000" stroke-width="5.4"/><polygon points="1037.1,2292.5 1067.3,2292.5 1052.2,2322.7" fill="#000"/>
</g>
<text x="167.8" y="358.2" font-size="37.0" text-anchor="end" fill="#000" font-weight="normal" >0</text>
<text x="167.8" y="258.4" font-size="37.0" text-anchor="end" fill="#000" font-weight="normal" >50</text>
<text x="167.8" y="158.6" font-size="37.0" text-anchor="end" fill="#000" font-weight="normal" >100</text>
<text x="167.8" y="58.7" font-size="37.0" text-anchor="end" fill="#000" font-weight="normal" >150</text>
<text x="1298.2" y="358.2" font-size="37.0" text-anchor="start" fill="#000" font-weight="normal" >0</text>
<text x="1298.2" y="258.4" font-size="37.0" text-anchor="start" fill="#000" font-weight="normal" >2</text>
<text x="1298.2" y="158.6" font-size="37.0" text-anchor="start" fill="#000" font-weight="normal" >4</text>
<text x="1298.2" y="58.7" font-size="37.0" text-anchor="start" fill="#000" font-weight="normal" >6</text>
<text x="199.7" y="403.7" font-size="37.0" text-anchor="middle" fill="#000" font-weight="normal" >0</text>
<text x="352.1" y="403.7" font-size="37.0" text-anchor="middle" fill="#000" font-weight="normal" >50</text>
<text x="504.5" y="403.7" font-size="37.0" text-anchor="middle" fill="#000" font-weight="normal" >100</text>
<text x="656.9" y="403.7" font-size="37.0" text-anchor="middle" fill="#000" font-weight="normal" >150</text>
<text x="809.3" y="403.7" font-size="37.0" text-anchor="middle" fill="#000" font-weight="normal" >200</text>
<text x="961.7" y="403.7" font-size="37.0" text-anchor="middle" fill="#000" font-weight="normal" >250</text>
<text x="1114.1" y="403.7" font-size="37.0" text-anchor="middle" fill="#000" font-weight="normal" >300</text>
<text x="1266.5" y="403.7" font-size="37.0" text-anchor="middle" fill="#000" font-weight="normal" >350</text>
<text x="170.0" y="759.4" font-size="37.0" text-anchor="end" fill="#000" font-weight="normal" >0</text>
<text x="170.0" y="659.7" font-size="37.0" text-anchor="end" fill="#000" font-weight="normal" >50</text>
<text x="170.0" y="560.0" font-size="37.0" text-anchor="end" fill="#000" font-weight="normal" >100</text>
<text x="170.0" y="460.2" font-size="37.0" text-anchor="end" fill="#000" font-weight="normal" >150</text>
<text x="1300.4" y="759.4" font-size="37.0" text-anchor="start" fill="#000" font-weight="normal" >0</text>
<text x="1300.4" y="699.6" font-size="37.0" text-anchor="start" fill="#000" font-weight="normal" >1</text>
<text x="1300.4" y="639.8" font-size="37.0" text-anchor="start" fill="#000" font-weight="normal" >2</text>
<text x="1300.4" y="579.9" font-size="37.0" text-anchor="start" fill="#000" font-weight="normal" >3</text>
<text x="1300.4" y="520.1" font-size="37.0" text-anchor="start" fill="#000" font-weight="normal" >4</text>
<text x="1300.4" y="460.2" font-size="37.0" text-anchor="start" fill="#000" font-weight="normal" >5</text>
<text x="201.3" y="805.2" font-size="37.0" text-anchor="middle" fill="#000" font-weight="normal" >0</text>
<text x="353.7" y="805.2" font-size="37.0" text-anchor="middle" fill="#000" font-weight="normal" >50</text>
<text x="506.0" y="805.2" font-size="37.0" text-anchor="middle" fill="#000" font-weight="normal" >100</text>
<text x="658.4" y="805.2" font-size="37.0" text-anchor="middle" fill="#000" font-weight="normal" >150</text>
<text x="810.8" y="805.2" font-size="37.0" text-anchor="middle" fill="#000" font-weight="normal" >200</text>
<text x="963.2" y="805.2" font-size="37.0" text-anchor="middle" fill="#000" font-weight="normal" >250</text>
<text x="1115.5" y="805.2" font-size="37.0" text-anchor="middle" fill="#000" font-weight="normal" >300</text>
<text x="1267.9" y="805.2" font-size="37.0" text-anchor="middle" fill="#000" font-weight="normal" >350</text>
<text x="170.0" y="1156.1" font-size="37.0" text-anchor="end" fill="#000" font-weight="normal" >0</text>
<text x="170.0" y="1056.1" font-size="37.0" text-anchor="end" fill="#000" font-weight="normal" >50</text>
<text x="170.0" y="956.0" font-size="37.0" text-anchor="end" fill="#000" font-weight="normal" >100</text>
<text x="170.0" y="855.9" font-size="37.0" text-anchor="end" fill="#000" font-weight="normal" >150</text>
<text x="1300.4" y="1156.1" font-size="37.0" text-anchor="start" fill="#000" font-weight="normal" >0</text>
<text x="1300.4" y="1081.1" font-size="37.0" text-anchor="start" fill="#000" font-weight="normal" >2</text>
<text x="1300.4" y="1006.0" font-size="37.0" text-anchor="start" fill="#000" font-weight="normal" >4</text>
<text x="1300.4" y="931.0" font-size="37.0" text-anchor="start" fill="#000" font-weight="normal" >6</text>
<text x="1300.4" y="855.9" font-size="37.0" text-anchor="start" fill="#000" font-weight="normal" >8</text>
<text x="201.3" y="1201.4" font-size="37.0" text-anchor="middle" fill="#000" font-weight="normal" >0</text>
<text x="353.7" y="1201.4" font-size="37.0" text-anchor="middle" fill="#000" font-weight="normal" >50</text>
<text x="506.0" y="1201.4" font-size="37.0" text-anchor="middle" fill="#000" font-weight="normal" >100</text>
<text x="658.4" y="1201.4" font-size="37.0" text-anchor="middle" fill="#000" font-weight="normal" >150</text>
<text x="810.8" y="1201.4" font-size="37.0" text-anchor="middle" fill="#000" font-weight="normal" >200</text>
<text x="963.2" y="1201.4" font-size="37.0" text-anchor="middle" fill="#000" font-weight="normal" >250</text>
<text x="1115.5" y="1201.4" font-size="37.0" text-anchor="middle" fill="#000" font-weight="normal" >300</text>
<text x="1267.9" y="1201.4" font-size="37.0" text-anchor="middle" fill="#000" font-weight="normal" >350</text>
<text x="170.0" y="1591.4" font-size="37.0" text-anchor="end" fill="#000" font-weight="normal" >0</text>
<text x="170.0" y="1491.7" font-size="37.0" text-anchor="end" fill="#000" font-weight="normal" >50</text>
<text x="170.0" y="1391.9" font-size="37.0" text-anchor="end" fill="#000" font-weight="normal" >100</text>
<text x="170.0" y="1292.1" font-size="37.0" text-anchor="end" fill="#000" font-weight="normal" >150</text>
<text x="1300.4" y="1591.4" font-size="37.0" text-anchor="start" fill="#000" font-weight="normal" >0</text>
<text x="1300.4" y="1292.1" font-size="37.0" text-anchor="start" fill="#000" font-weight="normal" >1</text>
<text x="201.3" y="1635.9" font-size="37.0" text-anchor="middle" fill="#000" font-weight="normal" >0</text>
<text x="290.2" y="1635.9" font-size="37.0" text-anchor="middle" fill="#000" font-weight="normal" >50</text>
<text x="379.1" y="1635.9" font-size="37.0" text-anchor="middle" fill="#000" font-weight="normal" >100</text>
<text x="468.0" y="1635.9" font-size="37.0" text-anchor="middle" fill="#000" font-weight="normal" >150</text>
<text x="556.8" y="1635.9" font-size="37.0" text-anchor="middle" fill="#000" font-weight="normal" >200</text>
<text x="645.7" y="1635.9" font-size="37.0" text-anchor="middle" fill="#000" font-weight="normal" >250</text>
<text x="734.6" y="1635.9" font-size="37.0" text-anchor="middle" fill="#000" font-weight="normal" >300</text>
<text x="823.5" y="1635.9" font-size="37.0" text-anchor="middle" fill="#000" font-weight="normal" >350</text>
<text x="912.4" y="1635.9" font-size="37.0" text-anchor="middle" fill="#000" font-weight="normal" >400</text>
<text x="1001.2" y="1635.9" font-size="37.0" text-anchor="middle" fill="#000" font-weight="normal" >450</text>
<text x="1090.1" y="1635.9" font-size="37.0" text-anchor="middle" fill="#000" font-weight="normal" >500</text>
<text x="1179.0" y="1635.9" font-size="37.0" text-anchor="middle" fill="#000" font-weight="normal" >550</text>
<text x="1267.9" y="1635.9" font-size="37.0" text-anchor="middle" fill="#000" font-weight="normal" >600</text>
<text x="170.0" y="1988.6" font-size="37.0" text-anchor="end" fill="#000" font-weight="normal" >0</text>
<text x="170.0" y="1888.4" font-size="37.0" text-anchor="end" fill="#000" font-weight="normal" >50</text>
<text x="170.0" y="1788.2" font-size="37.0" text-anchor="end" fill="#000" font-weight="normal" >100</text>
<text x="170.0" y="1687.9" font-size="37.0" text-anchor="end" fill="#000" font-weight="normal" >150</text>
<text x="1300.4" y="1988.6" font-size="37.0" text-anchor="start" fill="#000" font-weight="normal" >0</text>
<text x="1300.4" y="1913.5" font-size="37.0" text-anchor="start" fill="#000" font-weight="normal" >1</text>
<text x="1300.4" y="1838.3" font-size="37.0" text-anchor="start" fill="#000" font-weight="normal" >2</text>
<text x="1300.4" y="1763.1" font-size="37.0" text-anchor="start" fill="#000" font-weight="normal" >3</text>
<text x="1300.4" y="1687.9" font-size="37.0" text-anchor="start" fill="#000" font-weight="normal" >4</text>
<text x="201.3" y="2032.5" font-size="37.0" text-anchor="middle" fill="#000" font-weight="normal" >0</text>
<text x="290.2" y="2032.5" font-size="37.0" text-anchor="middle" fill="#000" font-weight="normal" >50</text>
<text x="379.1" y="2032.5" font-size="37.0" text-anchor="middle" fill="#000" font-weight="normal" >100</text>
<text x="468.0" y="2032.5" font-size="37.0" text-anchor="middle" fill="#000" font-weight="normal" >150</text>
<text x="556.8" y="2032.5" font-size="37.0" text-anchor="middle" fill="#000" font-weight="normal" >200</text>
<text x="645.7" y="2032.5" font-size="37.0" text-anchor="middle" fill="#000" font-weight="normal" >250</text>
<text x="734.6" y="2032.5" font-size="37.0" text-anchor="middle" fill="#000" font-weight="normal" >300</text>
<text x="823.5" y="2032.5" font-size="37.0" text-anchor="middle" fill="#000" font-weight="normal" >350</text>
<text x="912.4" y="2032.5" font-size="37.0" text-anchor="middle" fill="#000" font-weight="normal" >400</text>
<text x="1001.2" y="2032.5" font-size="37.0" text-anchor="middle" fill="#000" font-weight="normal" >450</text>
<text x="1090.1" y="2032.5" font-size="37.0" text-anchor="middle" fill="#000" font-weight="normal" >500</text>
<text x="1179.0" y="2032.5" font-size="37.0" text-anchor="middle" fill="#000" font-weight="normal" >550</text>
<text x="1267.9" y="2032.5" font-size="37.0" text-anchor="middle" fill="#000" font-weight="normal" >600</text>
<text x="170.0" y="2384.6" font-size="37.0" text-anchor="end" fill="#000" font-weight="normal" >0</text>
<text x="170.0" y="2284.2" font-size="37.0" text-anchor="end" fill="#000" font-weight="normal" >50</text>
<text x="170.0" y="2183.8" font-size="37.0" text-anchor="end" fill="#000" font-weight="normal" >100</text>
<text x="170.0" y="2083.4" font-size="37.0" text-anchor="end" fill="#000" font-weight="normal" >150</text>
<text x="1300.4" y="2384.6" font-size="37.0" text-anchor="start" fill="#000" font-weight="normal" >0</text>
<text x="1300.4" y="2284.2" font-size="37.0" text-anchor="start" fill="#000" font-weight="normal" >1</text>
<text x="1300.4" y="2183.8" font-size="37.0" text-anchor="start" fill="#000" font-weight="normal" >2</text>
<text x="1300.4" y="2083.4" font-size="37.0" text-anchor="start" fill="#000" font-weight="normal" >3</text>
<text x="201.3" y="2428.3" font-size="37.0" text-anchor="middle" fill="#000" font-weight="normal" >0</text>
<text x="290.2" y="2428.3" font-size="37.0" text-anchor="middle" fill="#000" font-weight="normal" >50</text>
<text x="379.1" y="2428.3" font-size="37.0" text-anchor="middle" fill="#000" font-weight="normal" >100</text>
<text x="468.0" y="2428.3" font-size="37.0" text-anchor="middle" fill="#000" font-weight="normal" >150</text>
<text x="556.8" y="2428.3" font-size="37.0" text-anchor="middle" fill="#000" font-weight="normal" >200</text>
<text x="645.7" y="2428.3" font-size="37.0" text-anchor="middle" fill="#000" font-weight="normal" >250</text>
<text x="734.6" y="2428.3" font-size="37.0" text-anchor="middle" fill="#000" font-weight="normal" >300</text>
<text x="823.5" y="2428.3" font-size="37.0" text-anchor="middle" fill="#000" font-weight="normal" >350</text>
<text x="912.4" y="2428.3" font-size="37.0" text-anchor="middle" fill="#000" font-weight="normal" >400</text>
<text x="1001.2" y="2428.3" font-size="37.0" text-anchor="middle" fill="#000" font-weight="normal" >450</text>
<text x="1090.1" y="2428.3" font-size="37.0" text-anchor="middle" fill="#000" font-weight="normal" >500</text>
<text x="1179.0" y="2428.3" font-size="37.0" text-anchor="middle" fill="#000" font-weight="normal" >550</text>
<text x="1267.9" y="2428.3" font-size="37.0" text-anchor="middle" fill="#000" font-weight="normal" >600</text>
<text x="58.0" y="44.3" font-size="48.3" text-anchor="start" fill="#000" font-weight="bold" >A</text>
<text x="55.3" y="456.4" font-size="48.3" text-anchor="start" fill="#000" font-weight="bold" >B</text>
<text x="57.6" y="857.5" font-size="48.3" text-anchor="start" fill="#000" font-weight="bold" >C</text>
<text x="55.5" y="1278.0" font-size="48.3" text-anchor="start" fill="#000" font-weight="bold" >D</text>
<text x="55.9" y="1688.7" font-size="48.3" text-anchor="start" fill="#000" font-weight="bold" >E</text>
<text x="55.9" y="2081.8" font-size="48.3" text-anchor="start" fill="#000" font-weight="bold" >F</text>
<text x="777.0" y="31.1" font-size="43.4" text-anchor="middle" fill="#000" font-weight="normal" >Stroke Patient</text>
<text x="713.2" y="1269.1" font-size="43.4" text-anchor="middle" fill="#000" font-weight="normal" >SCI Patient</text>
<text x="229" y="60.4" font-size="43" fill="#00B0F0">P<tspan font-size="28.5" dy="8.6">ura</tspan></text>
<text x="229" y="119.4" font-size="43" fill="#000">P<tspan font-size="28.5" dy="8.6">det</tspan></text>
<text x="228.6" y="197.1" font-size="43" text-anchor="start" fill="#FF0000" font-weight="normal" >Flow</text>
<text x="958.2" y="71.8" font-size="37.0" text-anchor="start" fill="#000" font-weight="normal" >PreTherapy UDS</text>
<text x="960.6" y="116.5" font-size="37.0" text-anchor="start" fill="#000" font-weight="normal" >Without TESCoN</text>
<text x="962.5" y="472.8" font-size="37.0" text-anchor="start" fill="#000" font-weight="normal" >PreTherapy UDS</text>
<text x="964.9" y="517.1" font-size="37.0" text-anchor="start" fill="#000" font-weight="normal" >With TESCoN</text>
<text x="213.1" y="1084.8" font-size="37.0" text-anchor="start" fill="#000" font-weight="normal" >PostTherapy UDS</text>
<text x="214.1" y="1128.7" font-size="37.0" text-anchor="start" fill="#000" font-weight="normal" >Without TESCoN</text>
<text x="213.1" y="1314.0" font-size="37.0" text-anchor="start" fill="#000" font-weight="normal" >PreTherapy UDS</text>
<text x="214.1" y="1357.2" font-size="37.0" text-anchor="start" fill="#000" font-weight="normal" >Without TESCoN</text>
<text x="213.1" y="1706.0" font-size="37.0" text-anchor="start" fill="#000" font-weight="normal" >PreTherapy UDS</text>
<text x="214.1" y="1749.6" font-size="37.0" text-anchor="start" fill="#000" font-weight="normal" >With TESCoN</text>
<text x="213.1" y="2108.3" font-size="37.0" text-anchor="start" fill="#000" font-weight="normal" >PostTherapy UDS</text>
<text x="214.1" y="2152.5" font-size="37.0" text-anchor="start" fill="#000" font-weight="normal" >Without TESCoN</text>
<text x="734.8" y="2489.4" font-size="37.0" text-anchor="middle" fill="#000" font-weight="normal" >Time (sec)</text>
<text transform="translate(32,1285.5) rotate(-90)" font-size="43.3" text-anchor="middle" fill="#000">Pressure (cm of H<tspan font-size="30" dy="8">2</tspan><tspan dy="-8">0)</tspan></text>
<text transform="translate(1377.6,1286) rotate(-90)" font-size="43.3" text-anchor="middle" fill="#f00">Flow (cm/s)</text>
</svg>
</body></html>
